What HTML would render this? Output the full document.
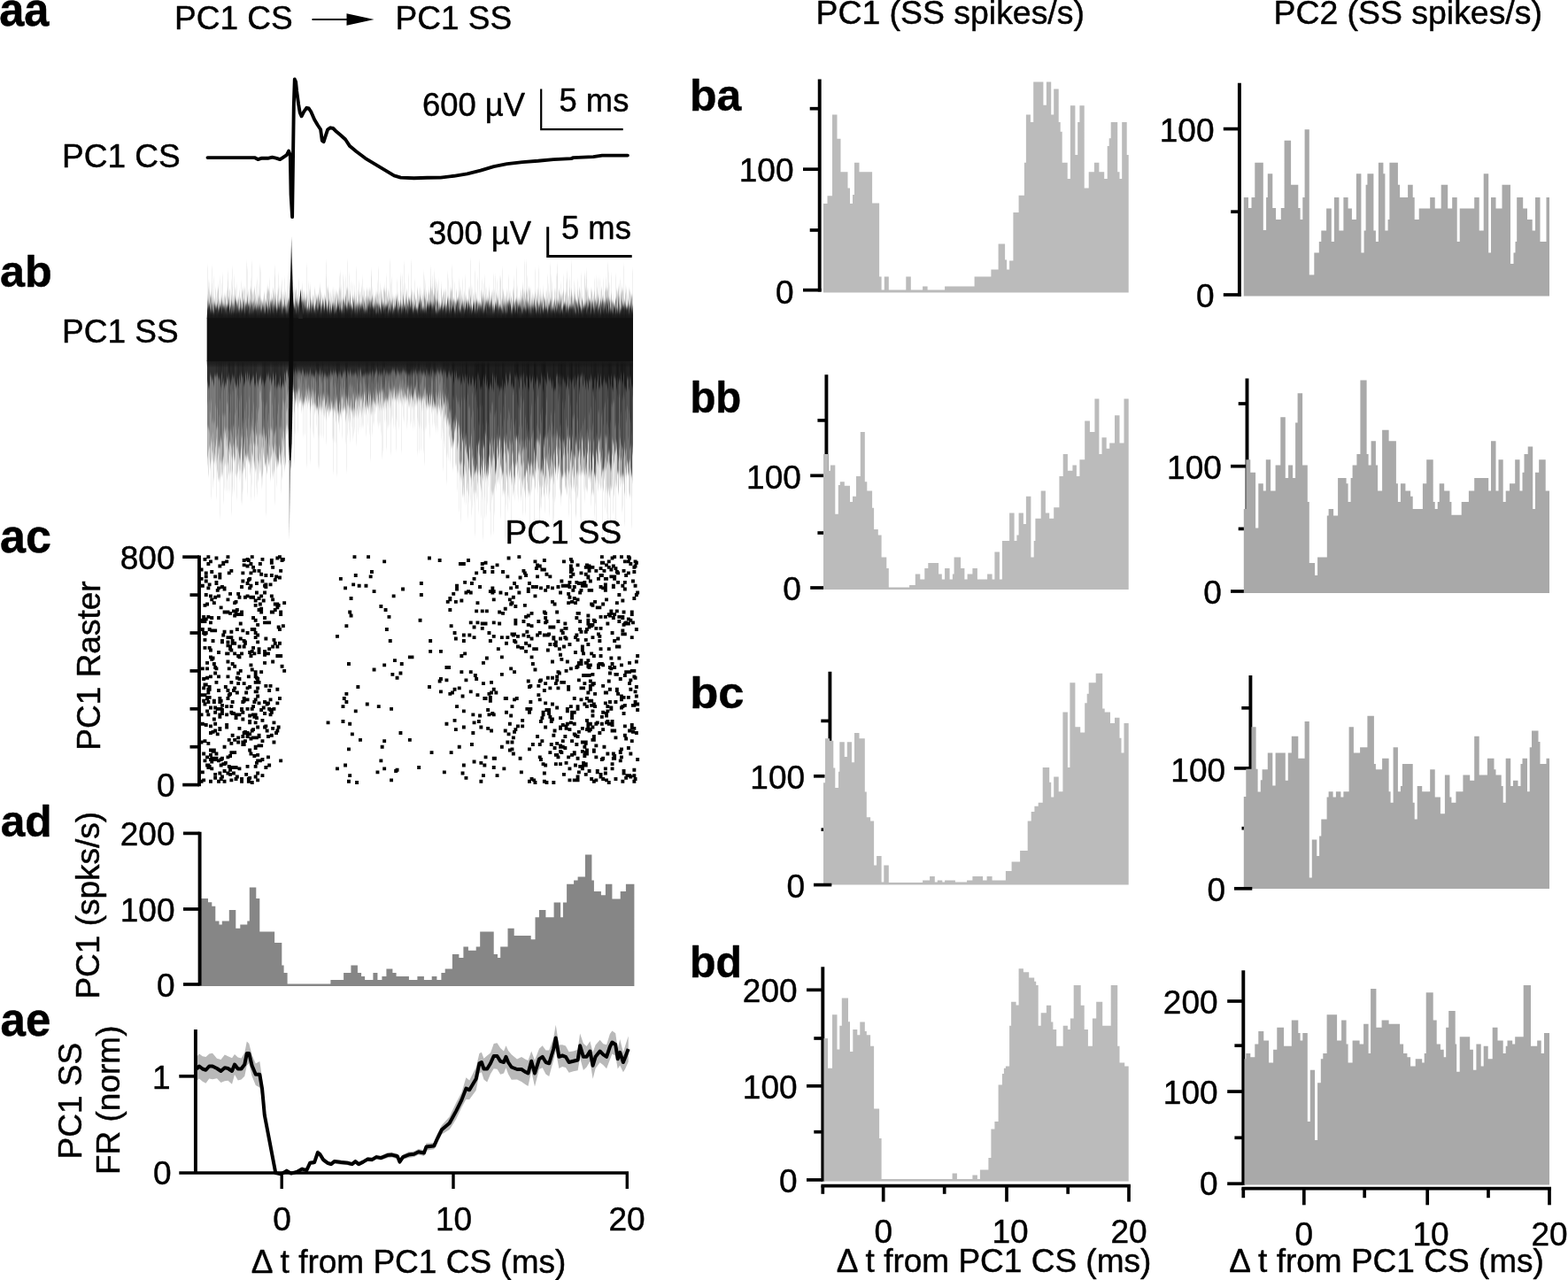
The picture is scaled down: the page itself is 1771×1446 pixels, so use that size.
<!DOCTYPE html>
<html lang="en"><head><meta charset="utf-8"><title>PC1 CS to PC1 SS</title>
<style>
html,body{margin:0;padding:0;background:#fff}
body{width:1771px;height:1446px;overflow:hidden}
svg{display:block}
text{font-family:"Liberation Sans",Arial,Helvetica,sans-serif;fill:#000;stroke:#000;stroke-width:0.45px;stroke-linejoin:round}
</style></head><body>
<svg width="1771" height="1446" viewBox="0 0 1771 1446" font-size="37.0">
<defs>
<filter id="bl" x="-5%" y="-20%" width="110%" height="140%"><feGaussianBlur stdDeviation="0.7 2.2"/></filter>
<linearGradient id="gs" gradientUnits="userSpaceOnUse" x1="0" y1="267" x2="0" y2="318"><stop offset="0" stop-color="#777"/><stop offset="1" stop-color="#0a0a0a"/></linearGradient>
<linearGradient id="gu" x1="0" y1="0" x2="0" y2="1"><stop offset="0" stop-color="#111" stop-opacity="0"/><stop offset="1" stop-color="#111" stop-opacity="1"/></linearGradient>
<linearGradient id="gd" x1="0" y1="0" x2="0" y2="1"><stop offset="0" stop-color="#111" stop-opacity="1"/><stop offset="1" stop-color="#111" stop-opacity="0"/></linearGradient>
</defs>
<rect width="1771" height="1446" fill="#fff"/>
<text transform="translate(-0.76,28.7) scale(1.012,1.08)" font-size="50" font-weight="bold" stroke="none">aa</text>
<text transform="translate(0.05,324.0) scale(1.006,1)" font-size="50" font-weight="bold" stroke="none">ab</text>
<text transform="translate(-0.02,624.3) scale(1.041,1.08)" font-size="50" font-weight="bold" stroke="none">ac</text>
<text transform="translate(0.67,945.0) scale(0.994,1)" font-size="50" font-weight="bold" stroke="none">ad</text>
<text transform="translate(0.61,1169.8) scale(1.022,1.08)" font-size="50" font-weight="bold" stroke="none">ae</text>
<text transform="translate(778.99,124.8) scale(0.999,1)" font-size="50" font-weight="bold" stroke="none">ba</text>
<text transform="translate(779.44,465.8) scale(0.947,1)" font-size="50" font-weight="bold" stroke="none">bb</text>
<text transform="translate(779.14,799.5) scale(1.051,1)" font-size="50" font-weight="bold" stroke="none">bc</text>
<text transform="translate(779.09,1103.8) scale(0.965,1)" font-size="50" font-weight="bold" stroke="none">bd</text>
<text x="197.0" y="32.5">PC1 CS</text>
<text x="446.5" y="32.5">PC1 SS</text>
<line x1="352.5" y1="22.0" x2="396.0" y2="22.0" stroke="#000" stroke-width="2.2"/>
<path d="M422.5,22 L391.5,15.2 L391.5,28.8 Z" fill="#000"/>
<text x="921.5" y="27.0" font-size="37.4">PC1 (SS spikes/s)</text>
<text x="1438.5" y="27.0" font-size="37.4">PC2 (SS spikes/s)</text>
<text x="70.0" y="188.7">PC1 CS</text>
<polyline fill="none" stroke="#000" stroke-width="3.9" stroke-linejoin="round" stroke-linecap="round" points="234.5,178.1 287.5,178.1 291.3,180.1 295.0,178.8 302.5,178.8 307.5,177.6 312.6,178.8 316.3,180.1 320.1,177.6 323.8,175.1 326.1,170.6 327.8,175.1 328.6,220.1 330.1,245.1 330.8,195.1 331.8,120.0 332.8,89.5 334.1,92.5 335.1,102.5 337.1,117.5 338.8,127.5 340.6,131.3 343.1,126.3 346.3,121.8 348.8,122.5 351.3,126.3 355.1,135.0 358.8,141.3 362.1,146.3 363.8,158.8 365.6,160.1 367.6,153.8 370.1,146.3 373.1,144.3 376.3,145.0 380.1,148.8 385.1,153.0 390.1,157.5 395.1,165.1 402.6,171.3 412.6,178.8 425.1,186.3 437.6,193.8 445.1,198.3 452.6,200.6 467.6,201.3 482.6,200.8 497.7,200.6 512.7,198.8 527.7,196.3 542.7,192.6 557.7,188.1 572.7,185.1 590.2,183.1 607.7,181.8 625.2,180.1 645.2,179.1 647.6,178.1 670.1,177.1 680.1,175.6 708.9,175.6"/>
<text x="477.0" y="130.5" font-size="36.4">600 µV</text>
<text x="631.5" y="125.5" font-size="36.4">5 ms</text>
<path d="M611.2,100.5V146.2H703.7" fill="none" stroke="#000" stroke-width="2.2"/>
<text x="484.0" y="275.5" font-size="36.4">300 µV</text>
<text x="634.0" y="270.0" font-size="36.4">5 ms</text>
<path d="M618.7,256.2V289.5H713.7" fill="none" stroke="#000" stroke-width="3"/>
<text x="70.0" y="386.9">PC1 SS</text>
<g fill="none" stroke="#000" stroke-width="1.05" filter="url(#bl)">
<path stroke-opacity="0.18" d="M235.5,407.0V509.7M237.5,407.0V523.5M238.5,407.0V492.8M239.5,407.0V500.1M240.5,407.0V489.1M241.5,407.0V499.0M242.5,407.0V521.4M243.5,407.0V503.2M245.5,407.0V518.3M251.5,407.0V521.8M253.5,407.0V482.9M255.5,407.0V496.5M256.5,407.0V484.6M265.5,407.0V517.7M266.5,407.0V496.7M285.5,407.0V515.1M290.5,407.0V503.3M291.5,407.0V521.7M292.5,407.0V522.1M293.5,407.0V491.0M294.5,407.0V489.4M295.5,407.0V506.2M305.5,407.0V518.9M306.5,407.0V516.6M315.5,407.0V503.8M319.5,407.0V497.6M320.5,407.0V488.3M322.5,407.0V523.0M323.5,407.0V481.7M324.5,407.0V480.6M325.5,407.0V485.6"/>
<path stroke-opacity="0.24" d="M234.5,407.0V516.4M236.5,407.0V487.0M244.5,407.0V496.6M246.5,407.0V512.9M247.5,407.0V499.0M248.5,407.0V505.3M249.5,407.0V494.3M250.5,407.0V522.3M252.5,407.0V515.8M254.5,407.0V489.7M257.5,407.0V504.0M260.5,407.0V502.5M261.5,407.0V505.9M262.5,407.0V494.0M264.5,407.0V501.1M267.5,407.0V507.3M268.5,407.0V491.2M270.5,407.0V517.1M271.5,407.0V511.1M272.5,407.0V494.3M273.5,407.0V484.1M275.5,407.0V507.5M276.5,407.0V494.8M277.5,407.0V514.2M278.5,407.0V519.3M279.5,407.0V514.9M280.5,407.0V510.8M281.5,407.0V522.8M282.5,407.0V493.6M283.5,407.0V488.5M284.5,407.0V512.0M286.5,407.0V488.4M287.5,407.0V521.2M288.5,407.0V503.0M289.5,407.0V489.3M296.5,407.0V493.6M297.5,407.0V505.6M300.5,407.0V493.9M301.5,407.0V519.8M302.5,407.0V501.1M303.5,407.0V484.8M304.5,407.0V504.3M307.5,407.0V486.6M308.5,407.0V511.5M309.5,407.0V491.9M310.5,407.0V489.7M311.5,407.0V486.8M312.5,407.0V504.2M313.5,407.0V519.5M314.5,407.0V520.1M316.5,407.0V511.9M317.5,407.0V483.5M318.5,407.0V494.3M321.5,407.0V495.7M326.5,407.0V437.7M328.5,407.0V440.3M329.5,407.0V432.6M330.5,407.0V438.0M335.5,407.0V445.5M336.5,407.0V440.2M337.5,407.0V439.6M338.5,407.0V439.8M339.5,407.0V448.3M340.5,407.0V444.3M341.5,407.0V448.7M342.5,407.0V453.2M343.5,407.0V455.6M344.5,407.0V449.2M345.5,407.0V449.5M346.5,407.0V452.5M347.5,407.0V447.7M348.5,407.0V453.1M349.5,407.0V449.9M350.5,407.0V459.4M351.5,407.0V451.9M352.5,407.0V448.7M353.5,407.0V455.8M354.5,407.0V449.1M355.5,407.0V456.3M356.5,407.0V442.8M360.5,407.0V453.2M361.5,407.0V456.4M362.5,407.0V446.3M363.5,407.0V459.4M365.5,407.0V452.3M366.5,407.0V447.8M367.5,407.0V460.8M368.5,407.0V456.6M369.5,407.0V464.0M370.5,407.0V446.2M372.5,407.0V457.1M373.5,407.0V463.6M374.5,407.0V454.4M375.5,407.0V461.4M376.5,407.0V458.5M377.5,407.0V456.4M378.5,407.0V452.2M379.5,407.0V456.6M384.5,407.0V465.9M385.5,407.0V461.5M386.5,407.0V448.8M387.5,407.0V450.9M388.5,407.0V460.8M389.5,407.0V454.6M393.5,407.0V457.9M394.5,407.0V449.5M395.5,407.0V462.2M396.5,407.0V453.7M397.5,407.0V462.1M398.5,407.0V462.7M399.5,407.0V446.3M400.5,407.0V462.2M401.5,407.0V453.3M402.5,407.0V448.6M403.5,407.0V461.3M404.5,407.0V445.7M406.5,407.0V443.3M407.5,407.0V448.9M408.5,407.0V450.2M409.5,407.0V445.6M410.5,407.0V454.0M411.5,407.0V445.6M412.5,407.0V460.2M416.5,407.0V443.5M417.5,407.0V453.0M418.5,407.0V445.8M423.5,407.0V455.0M424.5,407.0V456.4M425.5,407.0V450.1M427.5,407.0V455.5M428.5,407.0V443.8M429.5,407.0V454.5M430.5,407.0V450.0M431.5,407.0V440.5M435.5,407.0V450.1M436.5,407.0V451.8M437.5,407.0V451.1M438.5,407.0V448.1M439.5,407.0V445.1M440.5,407.0V449.9M441.5,407.0V443.3M442.5,407.0V441.2M443.5,407.0V440.7M444.5,407.0V444.9M445.5,407.0V437.3M446.5,407.0V449.8M447.5,407.0V445.1M448.5,407.0V444.0M449.5,407.0V445.7M450.5,407.0V442.2M451.5,407.0V443.1M452.5,407.0V440.8M453.5,407.0V441.3M454.5,407.0V448.0M455.5,407.0V439.4M456.5,407.0V441.1M457.5,407.0V444.4M458.5,407.0V446.1M467.5,407.0V444.1M470.5,407.0V450.8M471.5,407.0V452.7M474.5,407.0V446.3M475.5,407.0V449.4M476.5,407.0V450.9M477.5,407.0V449.7M478.5,407.0V448.1M479.5,407.0V439.6M480.5,407.0V438.9M487.5,407.0V445.0M488.5,407.0V457.5M492.5,407.0V444.2M493.5,407.0V449.6M494.5,407.0V458.6M495.5,407.0V443.8M496.5,407.0V450.1M497.5,407.0V442.8M498.5,407.0V459.4M499.5,407.0V462.1M508.5,407.0V465.4"/>
<path stroke-opacity="0.30" d="M258.5,407.0V486.4M259.5,407.0V498.2M263.5,407.0V482.1M269.5,407.0V511.3M274.5,407.0V523.1M298.5,407.0V484.5M299.5,407.0V524.0M327.5,407.0V440.4M331.5,407.0V441.5M332.5,407.0V449.3M333.5,407.0V442.4M334.5,407.0V440.9M357.5,407.0V460.1M358.5,407.0V460.1M359.5,407.0V446.6M364.5,407.0V452.7M371.5,407.0V459.9M380.5,407.0V447.0M381.5,407.0V463.0M382.5,407.0V466.4M383.5,407.0V456.5M390.5,407.0V462.9M391.5,407.0V448.4M392.5,407.0V458.3M405.5,407.0V458.4M413.5,407.0V442.4M414.5,407.0V451.2M415.5,407.0V460.1M419.5,407.0V452.6M420.5,407.0V450.3M421.5,407.0V451.7M422.5,407.0V446.8M426.5,407.0V443.7M432.5,407.0V449.5M433.5,407.0V440.5M434.5,407.0V445.0M459.5,407.0V450.9M460.5,407.0V437.0M461.5,407.0V436.9M462.5,407.0V446.0M463.5,407.0V440.1M464.5,407.0V445.4M465.5,407.0V448.8M466.5,407.0V447.7M468.5,407.0V437.9M469.5,407.0V437.2M472.5,407.0V447.5M473.5,407.0V444.9M481.5,407.0V445.1M482.5,407.0V445.3M483.5,407.0V453.3M484.5,407.0V457.8M485.5,407.0V445.4M486.5,407.0V456.3M489.5,407.0V448.9M490.5,407.0V455.0M491.5,407.0V460.5M500.5,407.0V450.3M501.5,407.0V456.6M502.5,407.0V445.6M503.5,407.0V468.5M504.5,407.0V452.0M505.5,407.0V473.2M506.5,407.0V454.4M507.5,407.0V479.3M509.5,407.0V472.2M510.5,407.0V484.3M514.5,407.0V483.8M515.5,407.0V476.0M516.5,407.0V486.5M517.5,407.0V478.4M518.5,407.0V483.5M519.5,407.0V492.3M520.5,407.0V508.8M521.5,407.0V489.4M523.5,407.0V535.2M524.5,407.0V495.8M525.5,407.0V493.7M528.5,407.0V519.0M529.5,407.0V529.4M530.5,407.0V503.7M531.5,407.0V538.7M532.5,407.0V491.9M533.5,407.0V518.3M534.5,407.0V526.1M535.5,407.0V527.1M548.5,407.0V525.7M549.5,407.0V536.4M553.5,407.0V501.6M554.5,407.0V521.4M555.5,407.0V495.8M556.5,407.0V503.8M557.5,407.0V514.1M558.5,407.0V518.4M564.5,407.0V496.9M565.5,407.0V511.3M566.5,407.0V506.6M570.5,407.0V512.3M571.5,407.0V522.0M572.5,407.0V491.9M573.5,407.0V507.5M574.5,407.0V508.1M575.5,407.0V537.4M576.5,407.0V532.5M577.5,407.0V526.1M578.5,407.0V500.7M579.5,407.0V511.0M580.5,407.0V527.1M586.5,407.0V510.9M587.5,407.0V514.6M588.5,407.0V524.9M589.5,407.0V510.4M591.5,407.0V522.6M593.5,407.0V496.9M598.5,407.0V530.8M599.5,407.0V522.3M600.5,407.0V494.2M601.5,407.0V527.0M602.5,407.0V536.3M606.5,407.0V521.0M607.5,407.0V497.2M608.5,407.0V498.8M609.5,407.0V502.8M610.5,407.0V533.0M617.5,407.0V520.9M618.5,407.0V494.9M619.5,407.0V531.5M620.5,407.0V505.6M621.5,407.0V527.6M622.5,407.0V537.2M623.5,407.0V493.1M624.5,407.0V524.4M626.5,407.0V509.5M627.5,407.0V528.2M628.5,407.0V505.2M629.5,407.0V513.9M639.5,407.0V538.2M640.5,407.0V495.1M641.5,407.0V493.4M642.5,407.0V534.0M647.5,407.0V526.4M648.5,407.0V513.7M652.5,407.0V532.4M655.5,407.0V525.0M656.5,407.0V533.0M657.5,407.0V498.0M658.5,407.0V510.0M659.5,407.0V517.3M660.5,407.0V536.5M661.5,407.0V507.0M663.5,407.0V512.6M664.5,407.0V499.2M665.5,407.0V530.8M666.5,407.0V510.8M667.5,407.0V520.7M669.5,407.0V511.1M674.5,407.0V520.2M676.5,407.0V497.4M677.5,407.0V509.0M678.5,407.0V494.9M679.5,407.0V516.7M683.5,407.0V492.7M685.5,407.0V493.6M691.5,407.0V496.3M692.5,407.0V498.7M693.5,407.0V522.3M694.5,407.0V513.2M695.5,407.0V510.1M699.5,407.0V506.7M707.5,407.0V535.1M708.5,407.0V521.3M709.5,407.0V524.6M710.5,407.0V522.3"/>
<path stroke-opacity="0.36" d="M512.5,407.0V475.4M513.5,407.0V487.1M522.5,407.0V498.6M527.5,407.0V511.4M536.5,407.0V519.2M537.5,407.0V532.3M539.5,407.0V510.4M541.5,407.0V514.2M542.5,407.0V536.6M543.5,407.0V526.3M547.5,407.0V533.6M550.5,407.0V531.5M552.5,407.0V516.4M559.5,407.0V534.8M560.5,407.0V530.5M561.5,407.0V495.5M562.5,407.0V517.9M563.5,407.0V513.3M567.5,407.0V535.9M568.5,407.0V534.2M569.5,407.0V494.0M581.5,407.0V539.7M582.5,407.0V496.8M585.5,407.0V491.9M590.5,407.0V507.5M592.5,407.0V538.2M594.5,407.0V505.7M595.5,407.0V494.0M597.5,407.0V525.3M605.5,407.0V497.1M611.5,407.0V530.3M612.5,407.0V519.6M616.5,407.0V493.5M625.5,407.0V492.2M630.5,407.0V506.1M631.5,407.0V524.7M632.5,407.0V495.1M633.5,407.0V532.9M635.5,407.0V537.3M636.5,407.0V513.7M637.5,407.0V505.0M638.5,407.0V533.9M643.5,407.0V495.5M644.5,407.0V521.3M646.5,407.0V493.2M649.5,407.0V517.6M650.5,407.0V502.1M651.5,407.0V535.2M653.5,407.0V516.1M654.5,407.0V509.3M662.5,407.0V523.4M668.5,407.0V531.9M670.5,407.0V497.9M671.5,407.0V536.6M672.5,407.0V526.1M673.5,407.0V510.4M675.5,407.0V524.4M680.5,407.0V508.0M681.5,407.0V530.5M682.5,407.0V528.8M684.5,407.0V493.2M686.5,407.0V523.0M687.5,407.0V513.8M689.5,407.0V530.5M690.5,407.0V523.8M696.5,407.0V506.8M698.5,407.0V533.7M700.5,407.0V539.1M701.5,407.0V518.5M703.5,407.0V505.8M704.5,407.0V516.3M705.5,407.0V499.2M706.5,407.0V513.5M711.5,407.0V520.1M713.5,407.0V536.0M714.5,407.0V512.8"/>
<path stroke-opacity="0.42" d="M511.5,407.0V498.6M526.5,407.0V502.8M538.5,407.0V502.9M540.5,407.0V502.0M544.5,407.0V530.5M545.5,407.0V497.8M546.5,407.0V503.2M551.5,407.0V536.1M583.5,407.0V494.2M584.5,407.0V497.9M596.5,407.0V518.8M603.5,407.0V506.3M604.5,407.0V522.3M613.5,407.0V536.7M614.5,407.0V494.6M615.5,407.0V494.0M634.5,407.0V538.8M645.5,407.0V509.0M688.5,407.0V523.7M697.5,407.0V513.5M702.5,407.0V505.5M712.5,407.0V530.2"/>
<path stroke-opacity="0.18" d="M235.5,407.0V483.8M237.5,407.0V504.9M238.5,407.0V498.4M239.5,407.0V510.1M240.5,407.0V510.7M241.5,407.0V522.3M242.5,407.0V513.8M243.5,407.0V505.4M245.5,407.0V481.5M251.5,407.0V518.6M253.5,407.0V495.2M255.5,407.0V505.3M256.5,407.0V493.9M265.5,407.0V505.7M266.5,407.0V493.8M285.5,407.0V486.0M290.5,407.0V490.7M291.5,407.0V502.5M292.5,407.0V491.3M293.5,407.0V513.3M294.5,407.0V520.2M295.5,407.0V491.6M305.5,407.0V485.1M306.5,407.0V483.4M315.5,407.0V506.0M319.5,407.0V485.7M320.5,407.0V504.5M322.5,407.0V485.8M323.5,407.0V463.9M324.5,407.0V462.0M325.5,407.0V485.7"/>
<path stroke-opacity="0.24" d="M234.5,407.0V482.7M236.5,407.0V505.2M244.5,407.0V484.4M246.5,407.0V505.4M247.5,407.0V504.8M248.5,407.0V521.3M249.5,407.0V496.7M250.5,407.0V499.1M252.5,407.0V488.6M254.5,407.0V485.5M257.5,407.0V523.8M260.5,407.0V485.9M261.5,407.0V489.6M262.5,407.0V517.4M264.5,407.0V520.2M267.5,407.0V504.8M268.5,407.0V504.5M270.5,407.0V517.7M271.5,407.0V519.2M272.5,407.0V505.4M273.5,407.0V493.3M275.5,407.0V501.2M276.5,407.0V516.1M277.5,407.0V514.2M278.5,407.0V484.0M279.5,407.0V493.7M280.5,407.0V517.8M281.5,407.0V502.4M282.5,407.0V521.5M283.5,407.0V501.1M284.5,407.0V482.4M286.5,407.0V501.1M287.5,407.0V500.7M288.5,407.0V482.6M289.5,407.0V493.0M296.5,407.0V491.8M297.5,407.0V483.1M300.5,407.0V490.7M301.5,407.0V512.3M302.5,407.0V513.2M303.5,407.0V522.5M304.5,407.0V494.4M307.5,407.0V504.5M308.5,407.0V506.8M309.5,407.0V509.1M310.5,407.0V502.4M311.5,407.0V513.9M312.5,407.0V517.6M313.5,407.0V519.7M314.5,407.0V524.2M316.5,407.0V514.9M317.5,407.0V524.1M318.5,407.0V509.4M321.5,407.0V515.9M326.5,407.0V440.7M328.5,407.0V435.3M329.5,407.0V430.7M330.5,407.0V432.0M335.5,407.0V443.1M336.5,407.0V451.1M337.5,407.0V442.3M338.5,407.0V452.8M339.5,407.0V450.9M340.5,407.0V453.4M341.5,407.0V456.8M342.5,407.0V457.2M343.5,407.0V452.8M344.5,407.0V448.6M345.5,407.0V441.3M346.5,407.0V440.5M347.5,407.0V444.7M348.5,407.0V439.5M349.5,407.0V442.7M350.5,407.0V444.6M351.5,407.0V448.1M352.5,407.0V442.1M353.5,407.0V441.2M354.5,407.0V443.2M355.5,407.0V456.1M356.5,407.0V457.5M360.5,407.0V460.0M361.5,407.0V449.3M362.5,407.0V461.6M363.5,407.0V451.4M365.5,407.0V445.2M366.5,407.0V450.7M367.5,407.0V459.3M368.5,407.0V456.3M369.5,407.0V454.1M370.5,407.0V462.7M372.5,407.0V463.5M373.5,407.0V452.4M374.5,407.0V455.6M375.5,407.0V453.6M376.5,407.0V462.2M377.5,407.0V460.5M378.5,407.0V463.4M379.5,407.0V451.1M384.5,407.0V466.9M385.5,407.0V449.7M386.5,407.0V447.3M387.5,407.0V463.2M388.5,407.0V445.9M389.5,407.0V459.8M393.5,407.0V447.9M394.5,407.0V459.9M395.5,407.0V458.8M396.5,407.0V449.8M397.5,407.0V464.3M398.5,407.0V445.6M399.5,407.0V462.2M400.5,407.0V461.7M401.5,407.0V452.1M402.5,407.0V450.0M403.5,407.0V452.3M404.5,407.0V451.9M406.5,407.0V449.9M407.5,407.0V452.9M408.5,407.0V449.4M409.5,407.0V460.0M410.5,407.0V453.3M411.5,407.0V443.2M412.5,407.0V447.9M416.5,407.0V446.9M417.5,407.0V457.6M418.5,407.0V446.6M423.5,407.0V454.6M424.5,407.0V445.3M425.5,407.0V441.2M427.5,407.0V452.2M428.5,407.0V444.3M429.5,407.0V442.8M430.5,407.0V443.1M431.5,407.0V441.8M435.5,407.0V451.7M436.5,407.0V447.9M437.5,407.0V452.8M438.5,407.0V452.2M439.5,407.0V438.7M440.5,407.0V441.0M441.5,407.0V441.3M442.5,407.0V447.3M443.5,407.0V450.4M444.5,407.0V439.3M445.5,407.0V442.2M446.5,407.0V449.7M447.5,407.0V438.8M448.5,407.0V451.4M449.5,407.0V440.8M450.5,407.0V446.8M451.5,407.0V436.7M452.5,407.0V450.4M453.5,407.0V438.4M454.5,407.0V441.9M455.5,407.0V449.6M456.5,407.0V448.6M457.5,407.0V446.4M458.5,407.0V448.4M467.5,407.0V445.9M470.5,407.0V448.6M471.5,407.0V449.2M474.5,407.0V452.8M475.5,407.0V449.2M476.5,407.0V454.3M477.5,407.0V448.1M478.5,407.0V443.6M479.5,407.0V449.9M480.5,407.0V448.1M487.5,407.0V447.0M488.5,407.0V458.9M492.5,407.0V456.7M493.5,407.0V460.8M494.5,407.0V448.9M495.5,407.0V457.2M496.5,407.0V461.2M497.5,407.0V451.3M498.5,407.0V457.9M499.5,407.0V446.5M508.5,407.0V479.3"/>
<path stroke-opacity="0.30" d="M258.5,407.0V508.4M259.5,407.0V501.0M263.5,407.0V503.5M269.5,407.0V482.8M274.5,407.0V519.6M298.5,407.0V491.6M299.5,407.0V496.9M327.5,407.0V439.5M331.5,407.0V436.0M332.5,407.0V442.2M333.5,407.0V452.6M334.5,407.0V450.7M357.5,407.0V452.2M358.5,407.0V460.2M359.5,407.0V447.9M364.5,407.0V446.1M371.5,407.0V455.0M380.5,407.0V452.0M381.5,407.0V457.2M382.5,407.0V464.4M383.5,407.0V454.2M390.5,407.0V447.9M391.5,407.0V451.6M392.5,407.0V453.5M405.5,407.0V447.9M413.5,407.0V459.3M414.5,407.0V454.0M415.5,407.0V460.3M419.5,407.0V459.3M420.5,407.0V456.3M421.5,407.0V442.7M422.5,407.0V453.2M426.5,407.0V446.6M432.5,407.0V441.9M433.5,407.0V454.2M434.5,407.0V453.9M459.5,407.0V438.4M460.5,407.0V439.5M461.5,407.0V451.8M462.5,407.0V442.2M463.5,407.0V448.7M464.5,407.0V436.6M465.5,407.0V447.9M466.5,407.0V452.1M468.5,407.0V439.9M469.5,407.0V444.9M472.5,407.0V442.6M473.5,407.0V450.3M481.5,407.0V456.8M482.5,407.0V448.2M483.5,407.0V456.7M484.5,407.0V449.0M485.5,407.0V446.3M486.5,407.0V451.4M489.5,407.0V452.5M490.5,407.0V455.4M491.5,407.0V457.9M500.5,407.0V442.0M501.5,407.0V455.0M502.5,407.0V455.5M503.5,407.0V448.5M504.5,407.0V458.2M505.5,407.0V452.1M506.5,407.0V472.9M507.5,407.0V465.1M509.5,407.0V486.5M510.5,407.0V494.5M514.5,407.0V481.1M515.5,407.0V473.8M516.5,407.0V506.2M517.5,407.0V500.5M518.5,407.0V480.3M519.5,407.0V523.5M520.5,407.0V523.9M521.5,407.0V522.1M523.5,407.0V538.4M524.5,407.0V525.4M525.5,407.0V507.6M528.5,407.0V517.3M529.5,407.0V522.1M530.5,407.0V506.6M531.5,407.0V534.6M532.5,407.0V539.5M533.5,407.0V507.1M534.5,407.0V515.7M535.5,407.0V536.5M548.5,407.0V491.6M549.5,407.0V532.9M553.5,407.0V500.8M554.5,407.0V517.0M555.5,407.0V527.0M556.5,407.0V519.2M557.5,407.0V510.6M558.5,407.0V496.1M564.5,407.0V492.7M565.5,407.0V525.6M566.5,407.0V530.1M570.5,407.0V502.3M571.5,407.0V499.7M572.5,407.0V537.1M573.5,407.0V507.4M574.5,407.0V512.0M575.5,407.0V497.6M576.5,407.0V500.9M577.5,407.0V539.8M578.5,407.0V511.9M579.5,407.0V522.4M580.5,407.0V538.0M586.5,407.0V500.5M587.5,407.0V503.9M588.5,407.0V497.3M589.5,407.0V525.4M591.5,407.0V505.2M593.5,407.0V537.3M598.5,407.0V536.2M599.5,407.0V525.5M600.5,407.0V524.0M601.5,407.0V535.9M602.5,407.0V523.1M606.5,407.0V496.6M607.5,407.0V498.8M608.5,407.0V529.6M609.5,407.0V490.8M610.5,407.0V490.8M617.5,407.0V516.3M618.5,407.0V524.9M619.5,407.0V512.8M620.5,407.0V538.5M621.5,407.0V519.2M622.5,407.0V515.2M623.5,407.0V520.9M624.5,407.0V536.7M626.5,407.0V526.7M627.5,407.0V534.6M628.5,407.0V495.5M629.5,407.0V491.5M639.5,407.0V503.3M640.5,407.0V531.3M641.5,407.0V511.6M642.5,407.0V532.5M647.5,407.0V514.3M648.5,407.0V539.1M652.5,407.0V507.9M655.5,407.0V507.3M656.5,407.0V515.4M657.5,407.0V494.0M658.5,407.0V534.4M659.5,407.0V515.8M660.5,407.0V515.0M661.5,407.0V529.1M663.5,407.0V511.4M664.5,407.0V496.2M665.5,407.0V539.0M666.5,407.0V498.1M667.5,407.0V537.4M669.5,407.0V515.1M674.5,407.0V513.4M676.5,407.0V497.7M677.5,407.0V511.3M678.5,407.0V521.5M679.5,407.0V538.0M683.5,407.0V517.6M685.5,407.0V521.0M691.5,407.0V513.4M692.5,407.0V502.6M693.5,407.0V501.3M694.5,407.0V509.4M695.5,407.0V497.4M699.5,407.0V516.4M707.5,407.0V507.2M708.5,407.0V522.2M709.5,407.0V535.3M710.5,407.0V534.8"/>
<path stroke-opacity="0.36" d="M512.5,407.0V497.7M513.5,407.0V477.1M522.5,407.0V497.0M527.5,407.0V512.0M536.5,407.0V534.0M537.5,407.0V531.6M539.5,407.0V535.2M541.5,407.0V497.3M542.5,407.0V536.2M543.5,407.0V516.6M547.5,407.0V517.5M550.5,407.0V521.7M552.5,407.0V515.0M559.5,407.0V532.1M560.5,407.0V525.6M561.5,407.0V507.1M562.5,407.0V502.8M563.5,407.0V495.5M567.5,407.0V518.1M568.5,407.0V512.2M569.5,407.0V498.8M581.5,407.0V493.4M582.5,407.0V524.5M585.5,407.0V512.3M590.5,407.0V498.0M592.5,407.0V507.1M594.5,407.0V531.7M595.5,407.0V532.5M597.5,407.0V496.9M605.5,407.0V515.6M611.5,407.0V532.6M612.5,407.0V530.8M616.5,407.0V538.8M625.5,407.0V512.7M630.5,407.0V527.4M631.5,407.0V493.9M632.5,407.0V508.2M633.5,407.0V498.9M635.5,407.0V497.1M636.5,407.0V498.4M637.5,407.0V497.1M638.5,407.0V514.0M643.5,407.0V492.8M644.5,407.0V516.3M646.5,407.0V529.7M649.5,407.0V514.9M650.5,407.0V493.5M651.5,407.0V499.7M653.5,407.0V511.3M654.5,407.0V496.9M662.5,407.0V534.9M668.5,407.0V531.0M670.5,407.0V516.1M671.5,407.0V535.1M672.5,407.0V538.0M673.5,407.0V507.5M675.5,407.0V503.5M680.5,407.0V531.4M681.5,407.0V530.9M682.5,407.0V523.1M684.5,407.0V528.4M686.5,407.0V512.3M687.5,407.0V508.6M689.5,407.0V525.7M690.5,407.0V530.6M696.5,407.0V500.6M698.5,407.0V520.7M700.5,407.0V495.7M701.5,407.0V501.8M703.5,407.0V535.8M704.5,407.0V537.7M705.5,407.0V508.3M706.5,407.0V527.4M711.5,407.0V506.9M713.5,407.0V537.7M714.5,407.0V505.1"/>
<path stroke-opacity="0.42" d="M511.5,407.0V477.6M526.5,407.0V490.8M538.5,407.0V526.5M540.5,407.0V500.0M544.5,407.0V506.2M545.5,407.0V520.3M546.5,407.0V504.9M551.5,407.0V524.3M583.5,407.0V493.8M584.5,407.0V521.7M596.5,407.0V523.6M603.5,407.0V509.9M604.5,407.0V530.5M613.5,407.0V525.4M614.5,407.0V503.8M615.5,407.0V518.3M634.5,407.0V518.3M645.5,407.0V510.3M688.5,407.0V509.3M697.5,407.0V534.2M702.5,407.0V538.0M712.5,407.0V503.2"/>
<path stroke-opacity="0.60" d="M234.5,407.0V431.9M235.5,407.0V437.4M236.5,407.0V436.2M237.5,407.0V423.6M238.5,407.0V425.5M239.5,407.0V430.1M240.5,407.0V428.0M241.5,407.0V434.7M242.5,407.0V424.3M243.5,407.0V424.9M244.5,407.0V423.9M245.5,407.0V423.0M246.5,407.0V427.6M247.5,407.0V427.4M248.5,407.0V428.2M249.5,407.0V436.3M250.5,407.0V422.0M251.5,407.0V433.2M252.5,407.0V428.8M253.5,407.0V437.5M254.5,407.0V432.7M255.5,407.0V434.3M256.5,407.0V426.7M257.5,407.0V428.6M258.5,407.0V423.3M259.5,407.0V429.3M260.5,407.0V434.0M261.5,407.0V429.2M262.5,407.0V423.8M263.5,407.0V426.5M264.5,407.0V425.7M265.5,407.0V432.5M266.5,407.0V437.3M267.5,407.0V434.9M268.5,407.0V428.6M269.5,407.0V436.3M270.5,407.0V424.7M271.5,407.0V431.4M272.5,407.0V422.3M273.5,407.0V425.6M274.5,407.0V426.2M275.5,407.0V435.1M276.5,407.0V432.5M277.5,407.0V422.6M278.5,407.0V429.0M279.5,407.0V421.5M280.5,407.0V429.2M281.5,407.0V424.0M282.5,407.0V434.4M283.5,407.0V430.0M284.5,407.0V429.6M285.5,407.0V425.9M286.5,407.0V425.4M287.5,407.0V434.2M288.5,407.0V434.9M289.5,407.0V421.9M290.5,407.0V430.7M291.5,407.0V435.4M292.5,407.0V429.6M293.5,407.0V427.5M294.5,407.0V425.8M295.5,407.0V433.8M296.5,407.0V429.3M297.5,407.0V430.9M298.5,407.0V435.7M299.5,407.0V432.0M300.5,407.0V428.4M301.5,407.0V423.3M302.5,407.0V425.3M303.5,407.0V422.5M304.5,407.0V429.1M305.5,407.0V427.1M306.5,407.0V434.0M307.5,407.0V430.0M308.5,407.0V422.4M309.5,407.0V428.1M310.5,407.0V436.2M311.5,407.0V423.2M312.5,407.0V437.8M313.5,407.0V435.7M314.5,407.0V433.0M315.5,407.0V436.1M316.5,407.0V426.4M317.5,407.0V437.7M318.5,407.0V435.9M319.5,407.0V433.1M320.5,407.0V435.9M321.5,407.0V422.1M322.5,407.0V430.2M323.5,407.0V419.9M324.5,407.0V419.5M325.5,407.0V425.6M326.5,407.0V420.7M327.5,407.0V418.4M328.5,407.0V418.6M329.5,407.0V418.2M330.5,407.0V420.9M331.5,407.0V418.6M332.5,407.0V421.2M333.5,407.0V417.8M334.5,407.0V419.6M335.5,407.0V422.3M336.5,407.0V418.0M337.5,407.0V419.9M338.5,407.0V419.0M339.5,407.0V421.1M340.5,407.0V422.7M341.5,407.0V418.0M342.5,407.0V419.0M343.5,407.0V422.8M344.5,407.0V424.3M345.5,407.0V420.3M346.5,407.0V423.4M347.5,407.0V420.8M348.5,407.0V424.2M349.5,407.0V421.8M350.5,407.0V417.8M351.5,407.0V423.0M352.5,407.0V422.9M353.5,407.0V423.4M354.5,407.0V424.7M355.5,407.0V425.0M356.5,407.0V420.0M357.5,407.0V419.1M358.5,407.0V421.7M359.5,407.0V421.3M360.5,407.0V423.4M361.5,407.0V418.1M362.5,407.0V424.5M363.5,407.0V420.8M364.5,407.0V420.8M365.5,407.0V425.5M366.5,407.0V422.3M367.5,407.0V422.8M368.5,407.0V424.9M369.5,407.0V425.4M370.5,407.0V425.8M371.5,407.0V422.1M372.5,407.0V424.4M373.5,407.0V419.4M374.5,407.0V422.0M375.5,407.0V423.1M376.5,407.0V418.7M377.5,407.0V422.3M378.5,407.0V419.5M379.5,407.0V420.8M380.5,407.0V422.6M381.5,407.0V426.0M382.5,407.0V421.1M383.5,407.0V421.6M384.5,407.0V421.4M385.5,407.0V425.0M386.5,407.0V426.1M387.5,407.0V420.4M388.5,407.0V421.4M389.5,407.0V418.7M390.5,407.0V420.5M391.5,407.0V426.0M392.5,407.0V418.6M393.5,407.0V420.9M394.5,407.0V422.7M395.5,407.0V418.7M396.5,407.0V421.3M397.5,407.0V424.4M398.5,407.0V422.1M399.5,407.0V423.6M400.5,407.0V422.0M401.5,407.0V421.0M402.5,407.0V421.9M403.5,407.0V425.7M404.5,407.0V418.2M405.5,407.0V424.0M406.5,407.0V418.1M407.5,407.0V418.5M408.5,407.0V423.8M409.5,407.0V425.1M410.5,407.0V423.4M411.5,407.0V424.2M412.5,407.0V422.2M413.5,407.0V422.1M414.5,407.0V422.2M415.5,407.0V421.9M416.5,407.0V423.2M417.5,407.0V421.7M418.5,407.0V421.3M419.5,407.0V423.2M420.5,407.0V419.3M421.5,407.0V420.0M422.5,407.0V424.7M423.5,407.0V421.2M424.5,407.0V420.5M425.5,407.0V417.6M426.5,407.0V420.6M427.5,407.0V423.7M428.5,407.0V420.6M429.5,407.0V423.4M430.5,407.0V421.8M431.5,407.0V422.8M432.5,407.0V421.3M433.5,407.0V417.6M434.5,407.0V418.2M435.5,407.0V422.9M436.5,407.0V420.3M437.5,407.0V420.9M438.5,407.0V423.1M439.5,407.0V422.0M440.5,407.0V422.8M441.5,407.0V421.1M442.5,407.0V419.3M443.5,407.0V417.6M444.5,407.0V418.6M445.5,407.0V418.3M446.5,407.0V421.5M447.5,407.0V423.6M448.5,407.0V417.5M449.5,407.0V420.6M450.5,407.0V420.2M451.5,407.0V422.9M452.5,407.0V420.8M453.5,407.0V421.4M454.5,407.0V419.4M455.5,407.0V417.9M456.5,407.0V419.4M457.5,407.0V419.8M458.5,407.0V421.7M459.5,407.0V420.0M460.5,407.0V422.9M461.5,407.0V422.6M462.5,407.0V422.9M463.5,407.0V421.8M464.5,407.0V418.7M465.5,407.0V423.2M466.5,407.0V417.9M467.5,407.0V421.5M468.5,407.0V418.6M469.5,407.0V418.2M470.5,407.0V421.4M471.5,407.0V422.5M472.5,407.0V419.2M473.5,407.0V420.8M474.5,407.0V418.3M475.5,407.0V422.0M476.5,407.0V421.0M477.5,407.0V422.7M478.5,407.0V419.9M479.5,407.0V421.4M480.5,407.0V424.1M481.5,407.0V418.3M482.5,407.0V418.9M483.5,407.0V423.2M484.5,407.0V420.9M485.5,407.0V424.2M486.5,407.0V418.2M487.5,407.0V423.9M488.5,407.0V419.0M489.5,407.0V419.3M490.5,407.0V422.3M491.5,407.0V420.8M492.5,407.0V422.6M493.5,407.0V419.0M494.5,407.0V418.7M495.5,407.0V420.5M496.5,407.0V421.8M497.5,407.0V418.6M498.5,407.0V419.5M499.5,407.0V423.1M500.5,407.0V419.8M501.5,407.0V418.2M502.5,407.0V420.4M503.5,407.0V420.2M504.5,407.0V425.9M505.5,407.0V425.7M506.5,407.0V421.0M507.5,407.0V420.2M508.5,407.0V423.7M509.5,407.0V425.4M510.5,407.0V421.3M511.5,407.0V420.2M512.5,407.0V431.7M513.5,407.0V420.6M514.5,407.0V426.7M515.5,407.0V420.7M516.5,407.0V427.8M517.5,407.0V427.5M518.5,407.0V428.4M519.5,407.0V425.6M520.5,407.0V433.2M521.5,407.0V431.9M522.5,407.0V423.7M523.5,407.0V427.5M524.5,407.0V431.2M525.5,407.0V424.0M526.5,407.0V427.0M527.5,407.0V425.1M528.5,407.0V432.4M529.5,407.0V435.0M530.5,407.0V426.7M531.5,407.0V434.2M532.5,407.0V433.9M533.5,407.0V426.6M534.5,407.0V428.2M535.5,407.0V436.4M536.5,407.0V431.8M537.5,407.0V427.3M538.5,407.0V439.7M539.5,407.0V422.7M540.5,407.0V422.5M541.5,407.0V428.4M542.5,407.0V438.6M543.5,407.0V437.1M544.5,407.0V436.9M545.5,407.0V429.0M546.5,407.0V425.0M547.5,407.0V432.5M548.5,407.0V424.4M549.5,407.0V435.8M550.5,407.0V430.3M551.5,407.0V438.1M552.5,407.0V439.7M553.5,407.0V434.7M554.5,407.0V433.6M555.5,407.0V438.6M556.5,407.0V423.0M557.5,407.0V440.4M558.5,407.0V426.0M559.5,407.0V431.4M560.5,407.0V425.8M561.5,407.0V435.4M562.5,407.0V436.2M563.5,407.0V437.1M564.5,407.0V441.0M565.5,407.0V437.4M566.5,407.0V438.2M567.5,407.0V429.2M568.5,407.0V440.0M569.5,407.0V433.0M570.5,407.0V436.3M571.5,407.0V423.0M572.5,407.0V428.9M573.5,407.0V434.7M574.5,407.0V430.8M575.5,407.0V422.5M576.5,407.0V422.7M577.5,407.0V436.0M578.5,407.0V432.9M579.5,407.0V438.1M580.5,407.0V438.2M581.5,407.0V424.3M582.5,407.0V426.1M583.5,407.0V422.8M584.5,407.0V426.0M585.5,407.0V429.3M586.5,407.0V438.5M587.5,407.0V425.0M588.5,407.0V429.1M589.5,407.0V424.2M590.5,407.0V439.0M591.5,407.0V422.6M592.5,407.0V432.5M593.5,407.0V437.1M594.5,407.0V425.3M595.5,407.0V426.4M596.5,407.0V438.2M597.5,407.0V439.6M598.5,407.0V425.5M599.5,407.0V431.4M600.5,407.0V430.3M601.5,407.0V426.2M602.5,407.0V439.4M603.5,407.0V426.8M604.5,407.0V433.2M605.5,407.0V431.1M606.5,407.0V426.6M607.5,407.0V429.4M608.5,407.0V437.9M609.5,407.0V432.7M610.5,407.0V434.0M611.5,407.0V422.6M612.5,407.0V425.9M613.5,407.0V440.9M614.5,407.0V425.1M615.5,407.0V428.4M616.5,407.0V429.8M617.5,407.0V433.7M618.5,407.0V422.1M619.5,407.0V428.1M620.5,407.0V430.1M621.5,407.0V427.7M622.5,407.0V431.7M623.5,407.0V437.7M624.5,407.0V430.5M625.5,407.0V440.7M626.5,407.0V438.9M627.5,407.0V439.5M628.5,407.0V424.8M629.5,407.0V423.6M630.5,407.0V433.4M631.5,407.0V425.1M632.5,407.0V435.7M633.5,407.0V425.5M634.5,407.0V435.5M635.5,407.0V427.8M636.5,407.0V427.5M637.5,407.0V431.1M638.5,407.0V431.9M639.5,407.0V437.9M640.5,407.0V434.9M641.5,407.0V426.5M642.5,407.0V438.3M643.5,407.0V428.3M644.5,407.0V429.9M645.5,407.0V433.3M646.5,407.0V430.1M647.5,407.0V428.1M648.5,407.0V438.0M649.5,407.0V425.7M650.5,407.0V434.6M651.5,407.0V428.7M652.5,407.0V425.2M653.5,407.0V423.9M654.5,407.0V438.7M655.5,407.0V425.3M656.5,407.0V424.5M657.5,407.0V422.8M658.5,407.0V435.2M659.5,407.0V424.2M660.5,407.0V430.5M661.5,407.0V437.8M662.5,407.0V429.3M663.5,407.0V432.2M664.5,407.0V439.4M665.5,407.0V428.9M666.5,407.0V430.1M667.5,407.0V424.3M668.5,407.0V428.7M669.5,407.0V440.7M670.5,407.0V439.4M671.5,407.0V428.2M672.5,407.0V427.1M673.5,407.0V438.9M674.5,407.0V431.1M675.5,407.0V423.7M676.5,407.0V438.5M677.5,407.0V437.8M678.5,407.0V425.3M679.5,407.0V434.3M680.5,407.0V436.2M681.5,407.0V430.4M682.5,407.0V426.2M683.5,407.0V431.2M684.5,407.0V433.6M685.5,407.0V432.8M686.5,407.0V439.1M687.5,407.0V425.5M688.5,407.0V428.6M689.5,407.0V435.9M690.5,407.0V424.9M691.5,407.0V438.2M692.5,407.0V440.0M693.5,407.0V425.7M694.5,407.0V426.1M695.5,407.0V428.8M696.5,407.0V438.9M697.5,407.0V427.0M698.5,407.0V432.5M699.5,407.0V428.3M700.5,407.0V430.1M701.5,407.0V422.3M702.5,407.0V430.3M703.5,407.0V432.6M704.5,407.0V422.2M705.5,407.0V437.3M706.5,407.0V438.2M707.5,407.0V441.0M708.5,407.0V427.2M709.5,407.0V427.2M710.5,407.0V439.3M711.5,407.0V426.1M712.5,407.0V427.6M713.5,407.0V435.6M714.5,407.0V436.7"/>
<path stroke-opacity="0.18" d="M234.5,407.0V455.5M235.5,407.0V483.4M236.5,407.0V452.9M237.5,407.0V465.8M238.5,407.0V452.8M239.5,407.0V477.3M240.5,407.0V473.4M241.5,407.0V478.5M242.5,407.0V476.3M243.5,407.0V458.2M244.5,407.0V483.9M245.5,407.0V461.7M246.5,407.0V482.7M247.5,407.0V469.7M248.5,407.0V451.5M249.5,407.0V491.0M250.5,407.0V441.6M251.5,407.0V468.5M252.5,407.0V467.5M253.5,407.0V469.4M254.5,407.0V468.0M255.5,407.0V484.5M256.5,407.0V455.4M257.5,407.0V456.5M258.5,407.0V443.8M259.5,407.0V466.1M260.5,407.0V445.4M261.5,407.0V481.8M262.5,407.0V441.1M263.5,407.0V441.3M264.5,407.0V479.9M265.5,407.0V468.1M266.5,407.0V484.1M267.5,407.0V462.4M268.5,407.0V448.1M269.5,407.0V472.8M270.5,407.0V452.5M271.5,407.0V489.2M272.5,407.0V447.0M273.5,407.0V477.0M274.5,407.0V473.4M275.5,407.0V478.4M276.5,407.0V462.7M277.5,407.0V474.6M278.5,407.0V454.2M279.5,407.0V485.0M280.5,407.0V471.9M281.5,407.0V449.7M282.5,407.0V482.4M283.5,407.0V477.2M284.5,407.0V465.4M285.5,407.0V473.7M286.5,407.0V456.0M287.5,407.0V491.0M288.5,407.0V476.8M289.5,407.0V461.1M290.5,407.0V475.7M291.5,407.0V465.4M292.5,407.0V461.4M293.5,407.0V442.3M294.5,407.0V442.2M295.5,407.0V452.5M296.5,407.0V485.0M297.5,407.0V454.2M298.5,407.0V473.7M299.5,407.0V459.8M300.5,407.0V456.5M301.5,407.0V454.4M302.5,407.0V476.3M303.5,407.0V467.5M304.5,407.0V442.3M305.5,407.0V441.4M306.5,407.0V485.4M307.5,407.0V457.2M308.5,407.0V472.8M309.5,407.0V487.2M310.5,407.0V448.9M311.5,407.0V482.7M312.5,407.0V481.8M313.5,407.0V466.9M314.5,407.0V456.3M315.5,407.0V483.8M316.5,407.0V482.8M317.5,407.0V473.7M318.5,407.0V462.5M319.5,407.0V452.2M320.5,407.0V454.5M321.5,407.0V457.2M322.5,407.0V453.1M323.5,407.0V435.0M324.5,407.0V445.8M325.5,407.0V441.4M326.5,407.0V420.2M327.5,407.0V420.8M328.5,407.0V430.8M329.5,407.0V421.6M330.5,407.0V421.2M331.5,407.0V425.8M332.5,407.0V443.0M333.5,407.0V425.5M334.5,407.0V443.3M335.5,407.0V443.4M336.5,407.0V426.9M337.5,407.0V426.6M338.5,407.0V427.4M339.5,407.0V431.2M340.5,407.0V423.1M341.5,407.0V440.1M342.5,407.0V433.3M343.5,407.0V439.9M344.5,407.0V426.4M345.5,407.0V429.4M346.5,407.0V427.0M347.5,407.0V439.5M348.5,407.0V434.8M349.5,407.0V438.3M350.5,407.0V441.0M351.5,407.0V429.0M352.5,407.0V438.4M353.5,407.0V425.5M354.5,407.0V425.2M355.5,407.0V444.7M356.5,407.0V429.5M357.5,407.0V431.9M358.5,407.0V427.7M359.5,407.0V436.9M360.5,407.0V424.9M361.5,407.0V424.2M362.5,407.0V430.6M363.5,407.0V432.5M364.5,407.0V430.0M365.5,407.0V444.9M366.5,407.0V427.3M367.5,407.0V429.3M368.5,407.0V444.0M369.5,407.0V446.7M370.5,407.0V449.0M371.5,407.0V446.8M372.5,407.0V448.5M373.5,407.0V431.1M374.5,407.0V428.0M375.5,407.0V424.3M376.5,407.0V436.3M377.5,407.0V447.2M378.5,407.0V432.1M379.5,407.0V437.8M380.5,407.0V424.2M381.5,407.0V433.0M382.5,407.0V424.0M383.5,407.0V442.5M384.5,407.0V435.9M385.5,407.0V440.2M386.5,407.0V424.2M387.5,407.0V438.7M388.5,407.0V439.6M389.5,407.0V429.9M390.5,407.0V443.4M391.5,407.0V438.3M392.5,407.0V448.8M393.5,407.0V441.4M394.5,407.0V436.2M395.5,407.0V432.9M396.5,407.0V435.5M397.5,407.0V436.9M398.5,407.0V435.4M399.5,407.0V442.7M400.5,407.0V438.6M401.5,407.0V443.2M402.5,407.0V444.8M403.5,407.0V432.6M404.5,407.0V444.6M405.5,407.0V446.3M406.5,407.0V431.5M407.5,407.0V430.8M408.5,407.0V435.1M409.5,407.0V446.0M410.5,407.0V426.8M411.5,407.0V431.4M412.5,407.0V436.4M413.5,407.0V432.6M414.5,407.0V438.1M415.5,407.0V439.3M416.5,407.0V434.4M417.5,407.0V440.9M418.5,407.0V441.0M419.5,407.0V431.8M420.5,407.0V429.3M421.5,407.0V432.9M422.5,407.0V427.4M423.5,407.0V438.1M424.5,407.0V439.7M425.5,407.0V432.8M426.5,407.0V431.2M427.5,407.0V432.5M428.5,407.0V440.3M429.5,407.0V435.6M430.5,407.0V428.5M431.5,407.0V433.1M432.5,407.0V439.3M433.5,407.0V434.8M434.5,407.0V435.4M435.5,407.0V428.4M436.5,407.0V429.0M437.5,407.0V438.6M438.5,407.0V431.9M439.5,407.0V431.1M440.5,407.0V438.6M441.5,407.0V439.9M442.5,407.0V426.5M443.5,407.0V431.4M444.5,407.0V436.4M445.5,407.0V437.0M446.5,407.0V428.7M447.5,407.0V427.5M448.5,407.0V423.1M449.5,407.0V437.5M450.5,407.0V421.1M451.5,407.0V432.2M452.5,407.0V429.0M453.5,407.0V431.4M454.5,407.0V428.5M455.5,407.0V429.2M456.5,407.0V434.8M457.5,407.0V433.6M458.5,407.0V424.6M459.5,407.0V432.0M460.5,407.0V431.3M461.5,407.0V424.3M462.5,407.0V436.2M463.5,407.0V434.5M464.5,407.0V425.1M465.5,407.0V434.9M466.5,407.0V422.7M467.5,407.0V422.3M468.5,407.0V440.3M469.5,407.0V435.4M470.5,407.0V429.6M471.5,407.0V430.7M472.5,407.0V439.0M473.5,407.0V422.9M474.5,407.0V433.9M475.5,407.0V434.0M476.5,407.0V429.8M477.5,407.0V425.2M478.5,407.0V421.3M479.5,407.0V439.2M480.5,407.0V424.3M481.5,407.0V425.7M482.5,407.0V442.6M483.5,407.0V424.9M484.5,407.0V436.2M485.5,407.0V421.9M486.5,407.0V437.9M487.5,407.0V429.2M488.5,407.0V428.4M489.5,407.0V443.2M490.5,407.0V430.1M491.5,407.0V426.6M492.5,407.0V424.7M493.5,407.0V427.9M494.5,407.0V444.8M495.5,407.0V422.5M496.5,407.0V434.3M497.5,407.0V431.6M498.5,407.0V424.5M499.5,407.0V426.8M500.5,407.0V424.8M501.5,407.0V433.2M502.5,407.0V426.3M503.5,407.0V448.2M504.5,407.0V438.5M505.5,407.0V447.7M506.5,407.0V444.3M507.5,407.0V460.3M508.5,407.0V463.9M509.5,407.0V463.1M510.5,407.0V463.4"/>
<path stroke-opacity="0.24" d="M511.5,407.0V448.5M512.5,407.0V450.3M513.5,407.0V470.9M514.5,407.0V469.0M515.5,407.0V448.8M516.5,407.0V452.8M517.5,407.0V455.5M518.5,407.0V452.7M519.5,407.0V459.8M520.5,407.0V483.1M521.5,407.0V450.8M522.5,407.0V495.8M523.5,407.0V488.3M524.5,407.0V450.1M525.5,407.0V502.2M526.5,407.0V452.4M527.5,407.0V496.4M528.5,407.0V445.6M529.5,407.0V460.3M530.5,407.0V460.3M531.5,407.0V500.4M532.5,407.0V471.0M533.5,407.0V443.9M534.5,407.0V464.1M535.5,407.0V485.1M536.5,407.0V448.1M537.5,407.0V444.2M538.5,407.0V452.8M539.5,407.0V460.8M540.5,407.0V477.4M541.5,407.0V479.8M542.5,407.0V457.9M543.5,407.0V497.3M544.5,407.0V458.8M545.5,407.0V479.2M546.5,407.0V490.0M547.5,407.0V486.6M548.5,407.0V488.2M549.5,407.0V477.0M550.5,407.0V493.8M551.5,407.0V479.6M552.5,407.0V496.7M553.5,407.0V465.1M554.5,407.0V466.5M555.5,407.0V456.1M556.5,407.0V455.3M557.5,407.0V499.1M558.5,407.0V469.5M559.5,407.0V466.7M560.5,407.0V463.3M561.5,407.0V490.5M562.5,407.0V482.0M563.5,407.0V447.2M564.5,407.0V495.7M565.5,407.0V467.1M566.5,407.0V497.5M567.5,407.0V481.9M568.5,407.0V458.9M569.5,407.0V473.8M570.5,407.0V444.8M571.5,407.0V491.1M572.5,407.0V501.6M573.5,407.0V473.8M574.5,407.0V463.1M575.5,407.0V467.0M576.5,407.0V485.8M577.5,407.0V474.6M578.5,407.0V497.8M579.5,407.0V444.6M580.5,407.0V479.2M581.5,407.0V482.5M582.5,407.0V474.8M583.5,407.0V444.1M584.5,407.0V455.1M585.5,407.0V459.7M586.5,407.0V482.0M587.5,407.0V462.1M588.5,407.0V448.4M589.5,407.0V482.0M590.5,407.0V454.6M591.5,407.0V452.0M592.5,407.0V498.5M593.5,407.0V471.3M594.5,407.0V485.4M595.5,407.0V478.8M596.5,407.0V486.8M597.5,407.0V487.6M598.5,407.0V498.3M599.5,407.0V468.8M600.5,407.0V457.7M601.5,407.0V488.7M602.5,407.0V486.5M603.5,407.0V496.5M604.5,407.0V453.3M605.5,407.0V499.8M606.5,407.0V481.0M607.5,407.0V447.8M608.5,407.0V484.8M609.5,407.0V498.1M610.5,407.0V467.8M611.5,407.0V475.9M612.5,407.0V461.5M613.5,407.0V496.8M614.5,407.0V497.9M615.5,407.0V485.6M616.5,407.0V469.1M617.5,407.0V451.5M618.5,407.0V490.0M619.5,407.0V487.5M620.5,407.0V481.8M621.5,407.0V487.1M622.5,407.0V467.3M623.5,407.0V478.6M624.5,407.0V499.1M625.5,407.0V482.5M626.5,407.0V465.3M627.5,407.0V490.9M628.5,407.0V486.2M629.5,407.0V486.9M630.5,407.0V452.6M631.5,407.0V444.8M632.5,407.0V481.0M633.5,407.0V480.3M634.5,407.0V490.4M635.5,407.0V453.6M636.5,407.0V499.1M637.5,407.0V461.5M638.5,407.0V453.0M639.5,407.0V474.2M640.5,407.0V483.7M641.5,407.0V482.5M642.5,407.0V446.3M643.5,407.0V496.0M644.5,407.0V457.6M645.5,407.0V484.6M646.5,407.0V470.8M647.5,407.0V472.5M648.5,407.0V468.6M649.5,407.0V500.1M650.5,407.0V496.5M651.5,407.0V454.9M652.5,407.0V473.5M653.5,407.0V489.8M654.5,407.0V444.4M655.5,407.0V488.0M656.5,407.0V484.4M657.5,407.0V494.6M658.5,407.0V478.9M659.5,407.0V498.1M660.5,407.0V472.8M661.5,407.0V494.3M662.5,407.0V488.5M663.5,407.0V485.9M664.5,407.0V491.1M665.5,407.0V466.9M666.5,407.0V484.9M667.5,407.0V460.9M668.5,407.0V486.2M669.5,407.0V479.4M670.5,407.0V446.9M671.5,407.0V495.2M672.5,407.0V451.9M673.5,407.0V491.7M674.5,407.0V492.6M675.5,407.0V465.3M676.5,407.0V464.8M677.5,407.0V496.5M678.5,407.0V490.0M679.5,407.0V469.6M680.5,407.0V463.8M681.5,407.0V480.6M682.5,407.0V460.6M683.5,407.0V454.9M684.5,407.0V500.9M685.5,407.0V478.5M686.5,407.0V449.7M687.5,407.0V483.6M688.5,407.0V491.3M689.5,407.0V476.0M690.5,407.0V455.7M691.5,407.0V457.9M692.5,407.0V453.7M693.5,407.0V453.4M694.5,407.0V482.4M695.5,407.0V479.4M696.5,407.0V499.0M697.5,407.0V446.3M698.5,407.0V478.7M699.5,407.0V446.9M700.5,407.0V485.0M701.5,407.0V466.0M702.5,407.0V450.4M703.5,407.0V449.6M704.5,407.0V444.6M705.5,407.0V449.3M706.5,407.0V463.5M707.5,407.0V475.5M708.5,407.0V460.0M709.5,407.0V495.4M710.5,407.0V465.2M711.5,407.0V473.8M712.5,407.0V476.7M713.5,407.0V489.7M714.5,407.0V447.7"/>
<path stroke-opacity="0.12" d="M234.5,407.0V525.2M235.5,407.0V536.7M236.5,407.0V518.6M237.5,407.0V529.3M238.5,407.0V521.6M239.5,407.0V518.1M240.5,407.0V520.2M241.5,407.0V541.3M242.5,407.0V513.5M243.5,407.0V516.6M244.5,407.0V522.9M245.5,407.0V532.0M247.5,407.0V542.5M249.5,407.0V522.0M251.5,407.0V534.8M252.5,407.0V517.8M253.5,407.0V526.1M254.5,407.0V524.2M255.5,407.0V524.9M256.5,407.0V541.0M257.5,407.0V519.2M265.5,407.0V518.6M266.5,407.0V536.6M267.5,407.0V538.3M270.5,407.0V531.2M271.5,407.0V530.4M272.5,407.0V513.2M277.5,407.0V541.1M279.5,407.0V514.1M280.5,407.0V521.0M281.5,407.0V519.9M282.5,407.0V535.2M284.5,407.0V521.3M285.5,407.0V513.8M286.5,407.0V522.4M289.5,407.0V530.0M290.5,407.0V518.6M291.5,407.0V542.8M292.5,407.0V527.4M293.5,407.0V533.8M294.5,407.0V530.3M295.5,407.0V539.0M304.5,407.0V521.4M305.5,407.0V541.2M306.5,407.0V513.9M307.5,407.0V534.8M308.5,407.0V539.0M310.5,407.0V513.3M314.5,407.0V522.3M315.5,407.0V513.3M316.5,407.0V522.9M317.5,407.0V513.4M318.5,407.0V539.8M319.5,407.0V518.3M320.5,407.0V524.7M321.5,407.0V530.8M322.5,407.0V525.1M323.5,407.0V490.1M324.5,407.0V491.6M325.5,407.0V496.0M326.5,407.0V446.8M327.5,407.0V439.2M328.5,407.0V442.6M329.5,407.0V442.5M330.5,407.0V439.7M334.5,407.0V453.9M335.5,407.0V456.4M336.5,407.0V460.2M337.5,407.0V455.6M338.5,407.0V454.4M339.5,407.0V453.6M340.5,407.0V464.6M341.5,407.0V455.6M342.5,407.0V461.4M343.5,407.0V454.4M344.5,407.0V457.3M345.5,407.0V455.0M346.5,407.0V454.0M347.5,407.0V459.3M348.5,407.0V454.7M349.5,407.0V454.0M350.5,407.0V464.7M351.5,407.0V459.5M352.5,407.0V458.3M353.5,407.0V457.7M354.5,407.0V456.2M355.5,407.0V466.4M356.5,407.0V462.3M360.5,407.0V461.8M361.5,407.0V463.6M362.5,407.0V457.8M363.5,407.0V465.9M365.5,407.0V467.4M366.5,407.0V470.0M367.5,407.0V465.7M368.5,407.0V473.0M369.5,407.0V465.3M370.5,407.0V460.4M372.5,407.0V464.0M373.5,407.0V463.1M374.5,407.0V461.4M375.5,407.0V463.0M376.5,407.0V470.8M377.5,407.0V463.2M378.5,407.0V465.8M379.5,407.0V475.2M383.5,407.0V472.2M384.5,407.0V465.3M385.5,407.0V471.2M386.5,407.0V464.3M387.5,407.0V461.6M388.5,407.0V464.9M389.5,407.0V462.3M392.5,407.0V466.0M393.5,407.0V475.1M394.5,407.0V469.0M395.5,407.0V475.6M396.5,407.0V463.3M397.5,407.0V465.4M398.5,407.0V470.0M399.5,407.0V470.8M400.5,407.0V470.2M401.5,407.0V466.3M402.5,407.0V470.1M403.5,407.0V465.0M404.5,407.0V471.1M405.5,407.0V467.3M406.5,407.0V462.9M407.5,407.0V465.0M408.5,407.0V469.7M409.5,407.0V465.2M410.5,407.0V461.7M411.5,407.0V467.2M412.5,407.0V457.2M414.5,407.0V459.0M416.5,407.0V464.7M417.5,407.0V459.5M418.5,407.0V466.5M420.5,407.0V465.1M421.5,407.0V464.8M423.5,407.0V465.8M424.5,407.0V459.2M425.5,407.0V459.3M427.5,407.0V458.6M428.5,407.0V462.4M429.5,407.0V459.6M430.5,407.0V461.0M431.5,407.0V461.4M435.5,407.0V460.3M436.5,407.0V460.6M437.5,407.0V452.7M438.5,407.0V457.9M439.5,407.0V451.4M440.5,407.0V459.9M441.5,407.0V458.4M442.5,407.0V451.7M443.5,407.0V449.4M444.5,407.0V450.3M445.5,407.0V452.3M446.5,407.0V448.7M447.5,407.0V451.3M448.5,407.0V448.9M449.5,407.0V450.9M450.5,407.0V454.8M451.5,407.0V450.8M452.5,407.0V454.3M453.5,407.0V454.2M454.5,407.0V457.4M455.5,407.0V449.7M456.5,407.0V452.9M457.5,407.0V455.0M458.5,407.0V453.4M467.5,407.0V460.1M469.5,407.0V457.6M470.5,407.0V455.9M471.5,407.0V456.7M474.5,407.0V451.6M475.5,407.0V456.4M476.5,407.0V462.5M477.5,407.0V451.0M478.5,407.0V461.3M479.5,407.0V451.8M480.5,407.0V455.7M487.5,407.0V466.1M488.5,407.0V460.6M492.5,407.0V461.3M493.5,407.0V466.9M494.5,407.0V467.3M495.5,407.0V461.3M496.5,407.0V463.6M497.5,407.0V469.3M498.5,407.0V468.1M499.5,407.0V464.1M503.5,407.0V475.8M508.5,407.0V498.6M513.5,407.0V495.8M514.5,407.0V525.1M515.5,407.0V525.3M516.5,407.0V532.5M517.5,407.0V533.1M518.5,407.0V522.6M519.5,407.0V535.9M520.5,407.0V538.3M521.5,407.0V542.6M522.5,407.0V560.1M523.5,407.0V549.6M524.5,407.0V559.0M525.5,407.0V529.8M528.5,407.0V545.8M529.5,407.0V558.4M530.5,407.0V529.8M531.5,407.0V531.1M532.5,407.0V548.8M533.5,407.0V533.3M534.5,407.0V543.3M535.5,407.0V555.7M548.5,407.0V542.8M549.5,407.0V537.4M553.5,407.0V534.8M554.5,407.0V527.0M555.5,407.0V556.0M556.5,407.0V559.2M557.5,407.0V556.1M558.5,407.0V551.2M560.5,407.0V534.7M561.5,407.0V544.5M562.5,407.0V542.3M563.5,407.0V538.8M564.5,407.0V528.7M565.5,407.0V526.6M566.5,407.0V540.5M569.5,407.0V558.4M570.5,407.0V555.1M571.5,407.0V535.2M572.5,407.0V543.0M573.5,407.0V559.2M574.5,407.0V532.9M575.5,407.0V528.8M576.5,407.0V531.3M577.5,407.0V546.5M578.5,407.0V546.3M579.5,407.0V558.7M580.5,407.0V555.0M582.5,407.0V529.6M586.5,407.0V541.9M587.5,407.0V539.2M588.5,407.0V559.8M589.5,407.0V544.3M591.5,407.0V541.4M593.5,407.0V560.8M598.5,407.0V557.5M599.5,407.0V536.7M600.5,407.0V553.5M601.5,407.0V539.8M602.5,407.0V539.2M606.5,407.0V526.6M607.5,407.0V530.1M608.5,407.0V542.9M609.5,407.0V549.6M610.5,407.0V549.8M611.5,407.0V560.7M616.5,407.0V550.4M617.5,407.0V558.3M618.5,407.0V547.6M619.5,407.0V529.5M620.5,407.0V557.2M621.5,407.0V544.0M622.5,407.0V540.3M623.5,407.0V541.1M624.5,407.0V533.0M626.5,407.0V530.2M627.5,407.0V533.8M628.5,407.0V529.8M629.5,407.0V540.9M639.5,407.0V549.9M640.5,407.0V557.7M641.5,407.0V541.0M642.5,407.0V549.4M643.5,407.0V531.8M644.5,407.0V547.1M647.5,407.0V551.6M648.5,407.0V548.2M649.5,407.0V555.6M650.5,407.0V531.8M651.5,407.0V549.3M652.5,407.0V561.2M654.5,407.0V534.7M655.5,407.0V535.8M656.5,407.0V536.8M657.5,407.0V531.9M658.5,407.0V529.3M659.5,407.0V529.5M660.5,407.0V533.5M661.5,407.0V550.6M662.5,407.0V553.3M663.5,407.0V554.5M664.5,407.0V539.7M665.5,407.0V533.0M666.5,407.0V534.6M667.5,407.0V542.8M669.5,407.0V553.4M674.5,407.0V542.5M675.5,407.0V553.3M676.5,407.0V546.1M677.5,407.0V527.6M678.5,407.0V551.8M679.5,407.0V528.3M682.5,407.0V541.0M683.5,407.0V533.6M684.5,407.0V555.0M685.5,407.0V550.4M691.5,407.0V550.4M692.5,407.0V527.7M693.5,407.0V559.9M694.5,407.0V550.1M695.5,407.0V543.1M699.5,407.0V533.1M700.5,407.0V548.8M706.5,407.0V536.7M707.5,407.0V538.5M708.5,407.0V528.6M709.5,407.0V536.2M710.5,407.0V557.6M714.5,407.0V544.3"/>
<path stroke-opacity="0.18" d="M246.5,407.0V540.9M248.5,407.0V539.7M250.5,407.0V537.2M258.5,407.0V535.0M259.5,407.0V513.2M260.5,407.0V533.7M261.5,407.0V515.4M262.5,407.0V532.8M263.5,407.0V512.7M264.5,407.0V514.4M268.5,407.0V533.7M269.5,407.0V524.4M273.5,407.0V534.3M274.5,407.0V532.6M275.5,407.0V528.4M276.5,407.0V528.5M278.5,407.0V515.4M283.5,407.0V528.2M287.5,407.0V527.4M288.5,407.0V531.6M296.5,407.0V536.8M297.5,407.0V513.3M298.5,407.0V517.2M299.5,407.0V526.0M300.5,407.0V524.8M301.5,407.0V533.5M302.5,407.0V516.9M303.5,407.0V526.0M309.5,407.0V533.1M311.5,407.0V521.1M312.5,407.0V527.6M313.5,407.0V526.0M331.5,407.0V441.7M332.5,407.0V465.2M333.5,407.0V456.8M357.5,407.0V462.1M358.5,407.0V461.7M359.5,407.0V467.9M364.5,407.0V461.1M371.5,407.0V469.0M380.5,407.0V465.3M381.5,407.0V468.0M382.5,407.0V476.9M390.5,407.0V474.4M391.5,407.0V468.3M413.5,407.0V466.9M415.5,407.0V456.3M419.5,407.0V467.4M422.5,407.0V456.1M426.5,407.0V456.2M432.5,407.0V458.1M433.5,407.0V461.0M434.5,407.0V451.3M459.5,407.0V447.5M460.5,407.0V450.3M461.5,407.0V457.8M462.5,407.0V458.3M463.5,407.0V454.6M464.5,407.0V448.3M465.5,407.0V459.5M466.5,407.0V451.9M468.5,407.0V455.6M472.5,407.0V451.5M473.5,407.0V451.5M481.5,407.0V460.1M482.5,407.0V461.5M483.5,407.0V454.8M484.5,407.0V459.7M485.5,407.0V458.1M486.5,407.0V459.1M489.5,407.0V462.4M490.5,407.0V459.7M491.5,407.0V456.0M500.5,407.0V458.0M501.5,407.0V473.7M502.5,407.0V470.1M504.5,407.0V480.1M505.5,407.0V474.6M506.5,407.0V480.1M507.5,407.0V492.9M509.5,407.0V504.9M510.5,407.0V505.1M511.5,407.0V503.9M512.5,407.0V502.7M526.5,407.0V534.1M527.5,407.0V554.1M536.5,407.0V533.0M537.5,407.0V556.1M538.5,407.0V532.7M539.5,407.0V545.4M540.5,407.0V532.5M541.5,407.0V531.2M542.5,407.0V547.3M543.5,407.0V552.7M544.5,407.0V538.4M545.5,407.0V541.0M546.5,407.0V526.6M547.5,407.0V538.0M550.5,407.0V540.4M551.5,407.0V528.3M552.5,407.0V527.7M559.5,407.0V547.1M567.5,407.0V534.2M568.5,407.0V554.5M581.5,407.0V545.9M583.5,407.0V526.4M584.5,407.0V536.0M585.5,407.0V531.5M590.5,407.0V549.7M592.5,407.0V554.2M594.5,407.0V530.4M595.5,407.0V544.9M596.5,407.0V553.9M597.5,407.0V557.5M603.5,407.0V540.8M604.5,407.0V551.0M605.5,407.0V533.3M612.5,407.0V549.8M613.5,407.0V533.8M614.5,407.0V559.1M615.5,407.0V543.8M625.5,407.0V545.0M630.5,407.0V534.7M631.5,407.0V530.2M632.5,407.0V553.5M633.5,407.0V559.6M634.5,407.0V557.9M635.5,407.0V538.7M636.5,407.0V537.7M637.5,407.0V533.8M638.5,407.0V550.9M645.5,407.0V551.4M646.5,407.0V536.4M653.5,407.0V536.3M668.5,407.0V557.8M670.5,407.0V557.8M671.5,407.0V535.4M672.5,407.0V544.6M673.5,407.0V535.9M680.5,407.0V532.3M681.5,407.0V553.6M686.5,407.0V556.5M687.5,407.0V552.2M688.5,407.0V560.6M689.5,407.0V549.1M690.5,407.0V552.6M696.5,407.0V548.8M697.5,407.0V532.0M698.5,407.0V557.3M701.5,407.0V536.7M702.5,407.0V545.1M703.5,407.0V536.2M704.5,407.0V545.3M705.5,407.0V557.3M711.5,407.0V559.9M712.5,407.0V537.5M713.5,407.0V533.6"/>
<path stroke-opacity="0.06" d="M238.5,408.0V562.2M240.5,408.0V550.0M243.5,408.0V528.1M244.5,408.0V562.2M245.5,408.0V533.9M249.5,408.0V533.6M250.5,408.0V529.5M251.5,408.0V537.5M252.5,408.0V528.2M253.5,408.0V552.2M255.5,408.0V554.3M257.5,408.0V554.5M259.5,408.0V554.5M262.5,408.0V552.1M264.5,408.0V554.7M265.5,408.0V536.7M267.5,408.0V563.0M268.5,408.0V524.3M270.5,408.0V542.6M271.5,408.0V539.1M273.5,408.0V557.1M274.5,408.0V554.0M279.5,408.0V557.7M283.5,408.0V563.4M284.5,408.0V547.9M285.5,408.0V530.3M287.5,408.0V562.0M289.5,408.0V550.2M290.5,408.0V558.5M291.5,408.0V534.9M295.5,408.0V551.0M296.5,408.0V547.1M297.5,408.0V532.3M301.5,408.0V534.2M304.5,408.0V527.5M310.5,408.0V529.7M312.5,408.0V548.7M315.5,408.0V522.8M317.5,408.0V554.9M327.5,408.0V462.3M328.5,408.0V461.2M329.5,408.0V465.3M332.5,408.0V487.2M333.5,408.0V490.1M336.5,408.0V487.8M342.5,408.0V492.0M344.5,408.0V490.7M350.5,408.0V482.7M353.5,408.0V489.3M354.5,408.0V493.2M357.5,408.0V481.1M359.5,408.0V493.0M361.5,408.0V491.5M363.5,408.0V492.4M365.5,408.0V493.7M368.5,408.0V500.2M375.5,408.0V496.0M376.5,408.0V495.0M377.5,408.0V498.7M379.5,408.0V500.7M383.5,408.0V486.5M386.5,408.0V493.9M390.5,408.0V500.2M392.5,408.0V491.4M394.5,408.0V487.0M395.5,408.0V498.2M397.5,408.0V483.2M398.5,408.0V495.0M399.5,408.0V491.1M400.5,408.0V485.6M402.5,408.0V501.4M404.5,408.0V488.5M406.5,408.0V483.7M408.5,408.0V483.1M409.5,408.0V480.6M410.5,408.0V482.0M413.5,408.0V491.6M415.5,408.0V479.9M417.5,408.0V489.8M420.5,408.0V489.7M421.5,408.0V478.6M422.5,408.0V478.6M426.5,408.0V477.8M427.5,408.0V482.3M428.5,408.0V478.5M429.5,408.0V478.4M430.5,408.0V489.4M434.5,408.0V475.7M436.5,408.0V475.2M437.5,408.0V483.4M438.5,408.0V481.3M439.5,408.0V480.7M441.5,408.0V478.0M442.5,408.0V471.1M443.5,408.0V472.1M444.5,408.0V481.4M446.5,408.0V482.5M447.5,408.0V473.1M448.5,408.0V476.8M450.5,408.0V483.0M455.5,408.0V472.0M456.5,408.0V475.7M459.5,408.0V482.7M460.5,408.0V476.3M463.5,408.0V478.9M464.5,408.0V477.5M466.5,408.0V483.1M467.5,408.0V475.6M468.5,408.0V482.4M471.5,408.0V472.9M472.5,408.0V478.4M473.5,408.0V483.2M474.5,408.0V480.8M476.5,408.0V483.2M478.5,408.0V486.2M480.5,408.0V483.7M481.5,408.0V483.2M484.5,408.0V478.7M485.5,408.0V493.4M488.5,408.0V480.6M490.5,408.0V478.2M491.5,408.0V481.9M492.5,408.0V487.2M493.5,408.0V481.3M494.5,408.0V487.0M498.5,408.0V495.8M499.5,408.0V484.0M500.5,408.0V488.9M501.5,408.0V498.5M502.5,408.0V506.4M504.5,408.0V514.9M505.5,408.0V512.7M506.5,408.0V518.6M508.5,408.0V521.5M511.5,408.0V527.2M519.5,408.0V543.0M520.5,408.0V539.7M522.5,408.0V558.7M523.5,408.0V559.3M524.5,408.0V567.0M525.5,408.0V539.7M526.5,408.0V569.3M529.5,408.0V566.9M531.5,408.0V564.7M532.5,408.0V582.0M533.5,408.0V573.0M534.5,408.0V557.8M535.5,408.0V566.7M536.5,408.0V555.1M538.5,408.0V564.4M539.5,408.0V561.1M544.5,408.0V562.9M545.5,408.0V542.5M547.5,408.0V562.2M549.5,408.0V581.9M550.5,408.0V568.6M551.5,408.0V549.4M553.5,408.0V577.7M554.5,408.0V553.7M555.5,408.0V565.4M556.5,408.0V556.9M558.5,408.0V579.9M560.5,408.0V553.6M563.5,408.0V545.8M564.5,408.0V547.3M567.5,408.0V558.9M568.5,408.0V546.1M571.5,408.0V571.2M573.5,408.0V576.0M574.5,408.0V561.3M575.5,408.0V565.9M578.5,408.0V537.9M581.5,408.0V563.5M584.5,408.0V558.5M585.5,408.0V564.5M586.5,408.0V540.5M588.5,408.0V565.2M589.5,408.0V542.1M590.5,408.0V544.9M591.5,408.0V542.0M593.5,408.0V552.1M596.5,408.0V560.9M599.5,408.0V558.1M600.5,408.0V546.9M606.5,408.0V552.2M607.5,408.0V557.0M609.5,408.0V576.5M610.5,408.0V571.5M611.5,408.0V573.8M614.5,408.0V547.2M615.5,408.0V578.0M619.5,408.0V562.9M621.5,408.0V555.3M624.5,408.0V563.0M626.5,408.0V566.8M627.5,408.0V561.9M633.5,408.0V569.0M634.5,408.0V547.7M637.5,408.0V542.2M638.5,408.0V538.0M639.5,408.0V556.6M642.5,408.0V582.0M643.5,408.0V562.3M644.5,408.0V568.2M650.5,408.0V581.8M651.5,408.0V562.7M653.5,408.0V553.2M659.5,408.0V554.2M660.5,408.0V565.4M666.5,408.0V545.3M667.5,408.0V570.3M671.5,408.0V583.0M672.5,408.0V569.0M677.5,408.0V549.5M679.5,408.0V550.7M680.5,408.0V549.3M682.5,408.0V540.1M683.5,408.0V574.5M685.5,408.0V580.4M689.5,408.0V554.1M691.5,408.0V541.4M692.5,408.0V579.2M698.5,408.0V553.5M702.5,408.0V578.0M703.5,408.0V573.5M707.5,408.0V561.5M713.5,408.0V561.1"/>
<path stroke-opacity="0.06" d="M248.5,408.0V583.5M252.5,408.0V567.0M261.5,408.0V579.9M262.5,408.0V558.5M272.5,408.0V567.2M273.5,408.0V568.1M300.5,408.0V581.1M310.5,408.0V567.9M328.5,408.0V493.3M332.5,408.0V522.3M346.5,408.0V525.9M350.5,408.0V521.6M359.5,408.0V527.0M360.5,408.0V527.7M376.5,408.0V533.4M380.5,408.0V536.6M391.5,408.0V532.1M418.5,408.0V519.0M431.5,408.0V516.4M432.5,408.0V510.2M436.5,408.0V506.7M441.5,408.0V512.3M447.5,408.0V508.3M453.5,408.0V510.1M471.5,408.0V511.9M473.5,408.0V509.6M475.5,408.0V507.8M478.5,408.0V510.3M479.5,408.0V523.4M500.5,408.0V530.2M504.5,408.0V544.8M511.5,408.0V530.6M516.5,408.0V553.5M518.5,408.0V577.1M520.5,408.0V587.7M528.5,408.0V583.9M536.5,408.0V603.7M540.5,408.0V578.1M543.5,408.0V583.7M545.5,408.0V608.3M547.5,408.0V585.0M554.5,408.0V604.5M557.5,408.0V601.5M565.5,408.0V584.3M570.5,408.0V607.9M577.5,408.0V597.4M590.5,408.0V580.7M593.5,408.0V580.1M598.5,408.0V609.2M603.5,408.0V607.9M609.5,408.0V589.0M620.5,408.0V581.4M624.5,408.0V593.7M625.5,408.0V586.2M645.5,408.0V609.0M650.5,408.0V583.7M655.5,408.0V585.2M656.5,408.0V595.7M673.5,408.0V592.5M680.5,408.0V609.4M686.5,408.0V613.1M689.5,408.0V606.6M695.5,408.0V600.4M705.5,408.0V592.6M713.5,408.0V595.2"/>
<path stroke-opacity="0.60" d="M234.5,361.5V348.9M235.5,361.5V345.3M236.5,361.5V345.0M237.5,361.5V348.5M238.5,361.5V351.9M239.5,361.5V348.0M240.5,361.5V351.6M241.5,361.5V353.0M242.5,361.5V344.8M243.5,361.5V349.1M244.5,361.5V348.5M245.5,361.5V345.8M246.5,361.5V351.6M247.5,361.5V349.7M248.5,361.5V344.7M249.5,361.5V345.3M250.5,361.5V352.6M251.5,361.5V346.4M252.5,361.5V345.9M253.5,361.5V348.0M254.5,361.5V350.2M255.5,361.5V351.0M256.5,361.5V345.4M257.5,361.5V345.8M258.5,361.5V345.3M259.5,361.5V351.6M260.5,361.5V346.2M261.5,361.5V353.3M262.5,361.5V350.7M263.5,361.5V351.9M264.5,361.5V350.9M265.5,361.5V350.7M266.5,361.5V346.9M267.5,361.5V351.7M268.5,361.5V346.6M269.5,361.5V350.7M270.5,361.5V350.0M271.5,361.5V347.6M272.5,361.5V350.5M273.5,361.5V349.7M274.5,361.5V348.2M275.5,361.5V350.0M276.5,361.5V352.6M277.5,361.5V345.1M278.5,361.5V350.3M279.5,361.5V349.6M280.5,361.5V344.6M281.5,361.5V353.2M282.5,361.5V346.8M283.5,361.5V352.4M284.5,361.5V344.6M285.5,361.5V351.3M286.5,361.5V349.9M287.5,361.5V349.0M288.5,361.5V349.6M289.5,361.5V349.3M290.5,361.5V348.4M291.5,361.5V349.7M292.5,361.5V348.2M293.5,361.5V344.7M294.5,361.5V349.8M295.5,361.5V350.6M296.5,361.5V347.0M297.5,361.5V346.7M298.5,361.5V352.1M299.5,361.5V352.9M300.5,361.5V347.8M301.5,361.5V346.3M302.5,361.5V352.9M303.5,361.5V349.3M304.5,361.5V348.5M305.5,361.5V352.0M306.5,361.5V346.7M307.5,361.5V350.1M308.5,361.5V352.2M309.5,361.5V345.8M310.5,361.5V347.8M311.5,361.5V346.6M312.5,361.5V351.6M313.5,361.5V348.4M314.5,361.5V348.1M315.5,361.5V347.1M316.5,361.5V349.0M317.5,361.5V345.9M318.5,361.5V352.9M319.5,361.5V346.2M320.5,361.5V347.7M321.5,361.5V348.3M322.5,361.5V352.3M323.5,361.5V352.1M324.5,361.5V351.9M325.5,361.5V351.2M326.5,361.5V346.3M327.5,361.5V347.2M328.5,361.5V353.3M329.5,361.5V352.2M330.5,361.5V351.0M331.5,361.5V346.1M332.5,361.5V348.3M333.5,361.5V349.3M334.5,361.5V353.0M335.5,361.5V350.2M336.5,361.5V346.2M337.5,361.5V352.0M338.5,361.5V351.2M339.5,361.5V347.1M340.5,361.5V345.5M341.5,361.5V349.0M342.5,361.5V352.8M343.5,361.5V346.9M344.5,361.5V350.3M345.5,361.5V347.2M346.5,361.5V351.6M347.5,361.5V348.1M348.5,361.5V351.0M349.5,361.5V351.6M350.5,361.5V348.7M351.5,361.5V351.4M352.5,361.5V346.8M353.5,361.5V345.7M354.5,361.5V350.6M355.5,361.5V350.0M356.5,361.5V344.6M357.5,361.5V347.2M358.5,361.5V350.0M359.5,361.5V348.2M360.5,361.5V345.7M361.5,361.5V346.3M362.5,361.5V351.8M363.5,361.5V350.3M364.5,361.5V345.0M365.5,361.5V350.1M366.5,361.5V350.5M367.5,361.5V346.8M368.5,361.5V349.5M369.5,361.5V349.9M370.5,361.5V351.7M371.5,361.5V348.2M372.5,361.5V353.4M373.5,361.5V348.6M374.5,361.5V351.9M375.5,361.5V345.2M376.5,361.5V348.1M377.5,361.5V352.2M378.5,361.5V352.1M379.5,361.5V351.4M380.5,361.5V347.8M381.5,361.5V346.6M382.5,361.5V344.7M383.5,361.5V350.8M384.5,361.5V348.2M385.5,361.5V350.7M386.5,361.5V351.5M387.5,361.5V347.6M388.5,361.5V351.6M389.5,361.5V347.1M390.5,361.5V345.3M391.5,361.5V347.1M392.5,361.5V350.2M393.5,361.5V349.1M394.5,361.5V344.7M395.5,361.5V347.1M396.5,361.5V344.9M397.5,361.5V348.0M398.5,361.5V349.9M399.5,361.5V347.2M400.5,361.5V350.9M401.5,361.5V350.7M402.5,361.5V347.7M403.5,361.5V351.7M404.5,361.5V347.6M405.5,361.5V350.7M406.5,361.5V349.1M407.5,361.5V346.9M408.5,361.5V348.6M409.5,361.5V344.9M410.5,361.5V348.5M411.5,361.5V350.4M412.5,361.5V350.7M413.5,361.5V349.9M414.5,361.5V351.2M415.5,361.5V345.0M416.5,361.5V348.2M417.5,361.5V345.8M418.5,361.5V347.3M419.5,361.5V348.4M420.5,361.5V347.1M421.5,361.5V347.1M422.5,361.5V348.4M423.5,361.5V345.9M424.5,361.5V353.5M425.5,361.5V353.2M426.5,361.5V351.4M427.5,361.5V352.9M428.5,361.5V347.3M429.5,361.5V348.4M430.5,361.5V353.5M431.5,361.5V346.4M432.5,361.5V350.3M433.5,361.5V351.3M434.5,361.5V347.8M435.5,361.5V345.3M436.5,361.5V346.0M437.5,361.5V345.1M438.5,361.5V352.2M439.5,361.5V350.3M440.5,361.5V347.5M441.5,361.5V351.8M442.5,361.5V345.5M443.5,361.5V353.2M444.5,361.5V350.0M445.5,361.5V348.0M446.5,361.5V346.5M447.5,361.5V349.9M448.5,361.5V344.6M449.5,361.5V351.4M450.5,361.5V348.7M451.5,361.5V347.2M452.5,361.5V345.2M453.5,361.5V352.4M454.5,361.5V350.1M455.5,361.5V350.0M456.5,361.5V347.3M457.5,361.5V344.7M458.5,361.5V349.8M459.5,361.5V348.2M460.5,361.5V352.8M461.5,361.5V346.6M462.5,361.5V349.3M463.5,361.5V348.5M464.5,361.5V347.7M465.5,361.5V350.1M466.5,361.5V351.7M467.5,361.5V349.0M468.5,361.5V345.2M469.5,361.5V349.3M470.5,361.5V348.6M471.5,361.5V353.2M472.5,361.5V347.3M473.5,361.5V344.6M474.5,361.5V351.0M475.5,361.5V349.1M476.5,361.5V348.2M477.5,361.5V349.8M478.5,361.5V351.2M479.5,361.5V352.0M480.5,361.5V350.9M481.5,361.5V352.1M482.5,361.5V346.2M483.5,361.5V345.7M484.5,361.5V348.6M485.5,361.5V345.4M486.5,361.5V345.2M487.5,361.5V347.8M488.5,361.5V346.2M489.5,361.5V348.2M490.5,361.5V345.7M491.5,361.5V350.4M492.5,361.5V351.8M493.5,361.5V352.8M494.5,361.5V351.9M495.5,361.5V350.6M496.5,361.5V349.8M497.5,361.5V347.8M498.5,361.5V346.1M499.5,361.5V349.6M500.5,361.5V349.3M501.5,361.5V347.4M502.5,361.5V345.7M503.5,361.5V351.3M504.5,361.5V351.6M505.5,361.5V350.3M506.5,361.5V347.8M507.5,361.5V351.8M508.5,361.5V345.7M509.5,361.5V350.2M510.5,361.5V348.3M511.5,361.5V346.2M512.5,361.5V347.3M513.5,361.5V350.7M514.5,361.5V351.8M515.5,361.5V345.1M516.5,361.5V351.4M517.5,361.5V347.4M518.5,361.5V350.0M519.5,361.5V350.7M520.5,361.5V350.4M521.5,361.5V345.0M522.5,361.5V348.5M523.5,361.5V346.9M524.5,361.5V352.4M525.5,361.5V348.1M526.5,361.5V345.4M527.5,361.5V350.1M528.5,361.5V348.8M529.5,361.5V345.8M530.5,361.5V345.8M531.5,361.5V348.2M532.5,361.5V353.4M533.5,361.5V350.0M534.5,361.5V348.8M535.5,361.5V345.6M536.5,361.5V352.0M537.5,361.5V347.3M538.5,361.5V352.1M539.5,361.5V349.4M540.5,361.5V347.9M541.5,361.5V349.8M542.5,361.5V347.2M543.5,361.5V350.5M544.5,361.5V345.5M545.5,361.5V352.2M546.5,361.5V351.2M547.5,361.5V350.7M548.5,361.5V345.2M549.5,361.5V351.2M550.5,361.5V345.5M551.5,361.5V345.5M552.5,361.5V348.1M553.5,361.5V345.7M554.5,361.5V348.5M555.5,361.5V345.4M556.5,361.5V351.4M557.5,361.5V351.3M558.5,361.5V351.2M559.5,361.5V344.9M560.5,361.5V349.0M561.5,361.5V346.2M562.5,361.5V350.0M563.5,361.5V346.1M564.5,361.5V348.5M565.5,361.5V348.2M566.5,361.5V348.9M567.5,361.5V353.2M568.5,361.5V353.1M569.5,361.5V346.4M570.5,361.5V351.9M571.5,361.5V351.8M572.5,361.5V353.0M573.5,361.5V350.9M574.5,361.5V345.0M575.5,361.5V349.5M576.5,361.5V345.0M577.5,361.5V352.9M578.5,361.5V352.7M579.5,361.5V348.0M580.5,361.5V347.1M581.5,361.5V352.7M582.5,361.5V350.5M583.5,361.5V346.7M584.5,361.5V352.7M585.5,361.5V345.4M586.5,361.5V345.6M587.5,361.5V346.0M588.5,361.5V347.6M589.5,361.5V353.1M590.5,361.5V352.9M591.5,361.5V348.0M592.5,361.5V349.0M593.5,361.5V349.6M594.5,361.5V352.1M595.5,361.5V349.4M596.5,361.5V347.9M597.5,361.5V352.0M598.5,361.5V345.3M599.5,361.5V352.4M600.5,361.5V345.3M601.5,361.5V346.3M602.5,361.5V349.0M603.5,361.5V347.5M604.5,361.5V347.4M605.5,361.5V353.0M606.5,361.5V350.5M607.5,361.5V350.3M608.5,361.5V352.5M609.5,361.5V345.6M610.5,361.5V352.5M611.5,361.5V346.9M612.5,361.5V349.8M613.5,361.5V352.8M614.5,361.5V350.5M615.5,361.5V346.1M616.5,361.5V349.2M617.5,361.5V348.1M618.5,361.5V351.3M619.5,361.5V349.2M620.5,361.5V344.7M621.5,361.5V349.9M622.5,361.5V349.9M623.5,361.5V350.9M624.5,361.5V348.5M625.5,361.5V349.7M626.5,361.5V351.7M627.5,361.5V345.1M628.5,361.5V351.2M629.5,361.5V347.8M630.5,361.5V352.3M631.5,361.5V345.1M632.5,361.5V353.5M633.5,361.5V350.4M634.5,361.5V351.1M635.5,361.5V352.4M636.5,361.5V346.2M637.5,361.5V344.7M638.5,361.5V344.6M639.5,361.5V351.9M640.5,361.5V348.3M641.5,361.5V352.5M642.5,361.5V349.7M643.5,361.5V345.3M644.5,361.5V348.0M645.5,361.5V346.7M646.5,361.5V348.2M647.5,361.5V344.5M648.5,361.5V347.8M649.5,361.5V352.6M650.5,361.5V353.1M651.5,361.5V345.5M652.5,361.5V347.5M653.5,361.5V352.8M654.5,361.5V346.3M655.5,361.5V346.6M656.5,361.5V351.0M657.5,361.5V349.8M658.5,361.5V348.2M659.5,361.5V346.6M660.5,361.5V348.9M661.5,361.5V345.9M662.5,361.5V353.1M663.5,361.5V349.8M664.5,361.5V346.6M665.5,361.5V346.5M666.5,361.5V344.6M667.5,361.5V353.4M668.5,361.5V348.6M669.5,361.5V347.6M670.5,361.5V347.9M671.5,361.5V352.5M672.5,361.5V347.7M673.5,361.5V346.8M674.5,361.5V350.6M675.5,361.5V350.8M676.5,361.5V349.5M677.5,361.5V345.2M678.5,361.5V353.0M679.5,361.5V345.5M680.5,361.5V349.8M681.5,361.5V352.3M682.5,361.5V349.6M683.5,361.5V346.8M684.5,361.5V350.9M685.5,361.5V352.8M686.5,361.5V345.1M687.5,361.5V352.9M688.5,361.5V349.4M689.5,361.5V352.9M690.5,361.5V350.2M691.5,361.5V351.9M692.5,361.5V353.5M693.5,361.5V346.6M694.5,361.5V346.7M695.5,361.5V353.3M696.5,361.5V348.6M697.5,361.5V353.1M698.5,361.5V350.0M699.5,361.5V353.4M700.5,361.5V351.9M701.5,361.5V348.6M702.5,361.5V348.1M703.5,361.5V346.0M704.5,361.5V346.7M705.5,361.5V348.5M706.5,361.5V347.1M707.5,361.5V348.0M708.5,361.5V348.7M709.5,361.5V347.1M710.5,361.5V352.8M711.5,361.5V347.6M712.5,361.5V346.3M713.5,361.5V350.1M714.5,361.5V352.0"/>
<path stroke-opacity="0.42" d="M234.5,361.5V348.0M235.5,361.5V349.5M236.5,361.5V343.0M237.5,361.5V350.9M238.5,361.5V350.9M239.5,361.5V343.9M240.5,361.5V351.0M241.5,361.5V343.8M242.5,361.5V350.9M243.5,361.5V346.9M244.5,361.5V346.1M245.5,361.5V343.1M246.5,361.5V349.0M247.5,361.5V349.6M248.5,361.5V347.6M249.5,361.5V349.0M250.5,361.5V339.6M251.5,361.5V347.4M252.5,361.5V348.6M253.5,361.5V345.0M254.5,361.5V344.7M255.5,361.5V345.7M256.5,361.5V345.2M257.5,361.5V345.3M258.5,361.5V342.2M259.5,361.5V350.0M260.5,361.5V346.0M261.5,361.5V340.4M262.5,361.5V344.8M263.5,361.5V344.1M264.5,361.5V346.2M265.5,361.5V339.5M266.5,361.5V339.9M267.5,361.5V342.6M268.5,361.5V350.9M269.5,361.5V350.3M270.5,361.5V349.9M271.5,361.5V338.6M272.5,361.5V342.4M273.5,361.5V351.1M274.5,361.5V341.3M275.5,361.5V338.8M276.5,361.5V345.8M277.5,361.5V350.7M278.5,361.5V344.6M279.5,361.5V341.3M280.5,361.5V344.6M281.5,361.5V342.4M282.5,361.5V347.7M283.5,361.5V340.6M284.5,361.5V348.5M285.5,361.5V341.8M286.5,361.5V341.3M287.5,361.5V346.4M288.5,361.5V344.1M289.5,361.5V348.9M290.5,361.5V345.2M291.5,361.5V344.2M292.5,361.5V345.4M293.5,361.5V350.9M294.5,361.5V350.6M295.5,361.5V350.3M296.5,361.5V343.4M297.5,361.5V351.1M298.5,361.5V346.2M299.5,361.5V351.2M300.5,361.5V341.7M301.5,361.5V351.1M302.5,361.5V347.8M303.5,361.5V340.2M304.5,361.5V345.5M305.5,361.5V339.9M306.5,361.5V340.2M307.5,361.5V344.9M308.5,361.5V345.6M309.5,361.5V351.1M310.5,361.5V343.1M311.5,361.5V348.9M312.5,361.5V349.7M313.5,361.5V350.7M314.5,361.5V342.1M315.5,361.5V346.4M316.5,361.5V341.5M317.5,361.5V339.0M318.5,361.5V347.4M319.5,361.5V350.7M320.5,361.5V346.1M321.5,361.5V339.0M322.5,361.5V346.3M323.5,361.5V346.4M324.5,361.5V344.1M325.5,361.5V338.5M326.5,361.5V339.2M327.5,361.5V350.7M328.5,361.5V340.2M329.5,361.5V344.0M330.5,361.5V342.4M331.5,361.5V341.3M332.5,361.5V346.4M333.5,361.5V347.1M334.5,361.5V340.0M335.5,361.5V343.5M336.5,361.5V344.3M337.5,361.5V343.0M338.5,361.5V338.6M339.5,361.5V350.7M340.5,361.5V350.9M341.5,361.5V340.5M342.5,361.5V343.2M343.5,361.5V339.2M344.5,361.5V346.3M345.5,361.5V339.7M346.5,361.5V348.8M347.5,361.5V349.9M348.5,361.5V344.0M349.5,361.5V348.6M350.5,361.5V343.3M351.5,361.5V344.2M352.5,361.5V351.4M353.5,361.5V342.0M354.5,361.5V349.0M355.5,361.5V351.2M356.5,361.5V351.4M357.5,361.5V338.9M358.5,361.5V348.6M359.5,361.5V350.5M360.5,361.5V342.6M361.5,361.5V339.4M362.5,361.5V346.5M363.5,361.5V344.2M364.5,361.5V339.2M365.5,361.5V342.0M366.5,361.5V349.1M367.5,361.5V340.0M368.5,361.5V345.1M369.5,361.5V349.2M370.5,361.5V345.1M371.5,361.5V339.8M372.5,361.5V351.0M373.5,361.5V344.3M374.5,361.5V351.0M375.5,361.5V346.8M376.5,361.5V343.1M377.5,361.5V345.1M378.5,361.5V345.8M379.5,361.5V350.8M380.5,361.5V348.5M381.5,361.5V341.3M382.5,361.5V349.5M383.5,361.5V349.2M384.5,361.5V342.3M385.5,361.5V349.7M386.5,361.5V349.8M387.5,361.5V338.6M388.5,361.5V340.2M389.5,361.5V343.3M390.5,361.5V350.2M391.5,361.5V351.5M392.5,361.5V347.1M393.5,361.5V341.5M394.5,361.5V349.1M395.5,361.5V349.1M396.5,361.5V343.5M397.5,361.5V348.0M398.5,361.5V348.6M399.5,361.5V341.7M400.5,361.5V346.2M401.5,361.5V345.4M402.5,361.5V344.8M403.5,361.5V343.4M404.5,361.5V344.8M405.5,361.5V344.1M406.5,361.5V342.6M407.5,361.5V347.8M408.5,361.5V342.2M409.5,361.5V347.2M410.5,361.5V349.5M411.5,361.5V341.1M412.5,361.5V351.4M413.5,361.5V346.3M414.5,361.5V349.4M415.5,361.5V345.3M416.5,361.5V344.0M417.5,361.5V340.1M418.5,361.5V340.2M419.5,361.5V341.4M420.5,361.5V345.1M421.5,361.5V346.6M422.5,361.5V349.3M423.5,361.5V349.6M424.5,361.5V345.8M425.5,361.5V342.4M426.5,361.5V344.1M427.5,361.5V346.0M428.5,361.5V343.7M429.5,361.5V350.6M430.5,361.5V350.5M431.5,361.5V344.1M432.5,361.5V343.8M433.5,361.5V343.0M434.5,361.5V347.8M435.5,361.5V350.6M436.5,361.5V347.5M437.5,361.5V345.4M438.5,361.5V341.2M439.5,361.5V348.6M440.5,361.5V351.1M441.5,361.5V350.4M442.5,361.5V346.1M443.5,361.5V345.5M444.5,361.5V349.0M445.5,361.5V351.4M446.5,361.5V346.3M447.5,361.5V340.0M448.5,361.5V346.7M449.5,361.5V349.3M450.5,361.5V341.7M451.5,361.5V347.6M452.5,361.5V340.3M453.5,361.5V347.7M454.5,361.5V346.0M455.5,361.5V340.3M456.5,361.5V348.3M457.5,361.5V344.6M458.5,361.5V351.2M459.5,361.5V342.6M460.5,361.5V344.8M461.5,361.5V350.2M462.5,361.5V338.5M463.5,361.5V345.6M464.5,361.5V339.6M465.5,361.5V346.4M466.5,361.5V350.7M467.5,361.5V351.3M468.5,361.5V348.8M469.5,361.5V349.1M470.5,361.5V349.8M471.5,361.5V349.4M472.5,361.5V350.3M473.5,361.5V340.5M474.5,361.5V343.4M475.5,361.5V339.6M476.5,361.5V350.8M477.5,361.5V349.5M478.5,361.5V347.8M479.5,361.5V348.4M480.5,361.5V346.9M481.5,361.5V349.3M482.5,361.5V340.6M483.5,361.5V342.1M484.5,361.5V346.2M485.5,361.5V344.9M486.5,361.5V342.8M487.5,361.5V343.6M488.5,361.5V349.7M489.5,361.5V342.7M490.5,361.5V344.4M491.5,361.5V340.2M492.5,361.5V351.4M493.5,361.5V340.1M494.5,361.5V341.2M495.5,361.5V350.0M496.5,361.5V347.7M497.5,361.5V348.5M498.5,361.5V349.2M499.5,361.5V342.1M500.5,361.5V348.2M501.5,361.5V345.3M502.5,361.5V349.5M503.5,361.5V345.1M504.5,361.5V346.2M505.5,361.5V339.6M506.5,361.5V343.8M507.5,361.5V350.7M508.5,361.5V338.9M509.5,361.5V349.8M510.5,361.5V340.7M511.5,361.5V348.3M512.5,361.5V339.2M513.5,361.5V350.9M514.5,361.5V341.9M515.5,361.5V345.9M516.5,361.5V339.2M517.5,361.5V339.5M518.5,361.5V351.0M519.5,361.5V350.4M520.5,361.5V351.1M521.5,361.5V344.2M522.5,361.5V343.8M523.5,361.5V348.1M524.5,361.5V340.7M525.5,361.5V350.5M526.5,361.5V340.9M527.5,361.5V340.8M528.5,361.5V346.3M529.5,361.5V342.0M530.5,361.5V351.4M531.5,361.5V348.9M532.5,361.5V345.9M533.5,361.5V350.7M534.5,361.5V344.8M535.5,361.5V340.8M536.5,361.5V351.3M537.5,361.5V341.7M538.5,361.5V339.1M539.5,361.5V350.3M540.5,361.5V343.5M541.5,361.5V344.5M542.5,361.5V343.3M543.5,361.5V345.5M544.5,361.5V349.8M545.5,361.5V340.6M546.5,361.5V348.9M547.5,361.5V344.5M548.5,361.5V347.6M549.5,361.5V340.0M550.5,361.5V340.8M551.5,361.5V339.9M552.5,361.5V345.7M553.5,361.5V343.7M554.5,361.5V340.6M555.5,361.5V340.9M556.5,361.5V346.1M557.5,361.5V344.3M558.5,361.5V348.8M559.5,361.5V342.2M560.5,361.5V344.5M561.5,361.5V343.3M562.5,361.5V338.9M563.5,361.5V351.2M564.5,361.5V345.8M565.5,361.5V345.2M566.5,361.5V348.9M567.5,361.5V349.8M568.5,361.5V345.2M569.5,361.5V348.0M570.5,361.5V343.0M571.5,361.5V344.9M572.5,361.5V341.4M573.5,361.5V343.9M574.5,361.5V339.7M575.5,361.5V341.9M576.5,361.5V342.9M577.5,361.5V349.4M578.5,361.5V347.2M579.5,361.5V340.6M580.5,361.5V349.7M581.5,361.5V341.7M582.5,361.5V350.4M583.5,361.5V343.3M584.5,361.5V342.8M585.5,361.5V346.6M586.5,361.5V343.7M587.5,361.5V348.7M588.5,361.5V339.4M589.5,361.5V349.2M590.5,361.5V338.6M591.5,361.5V348.4M592.5,361.5V346.8M593.5,361.5V350.6M594.5,361.5V341.3M595.5,361.5V346.3M596.5,361.5V342.0M597.5,361.5V346.4M598.5,361.5V350.1M599.5,361.5V347.0M600.5,361.5V350.5M601.5,361.5V348.7M602.5,361.5V343.3M603.5,361.5V338.7M604.5,361.5V345.8M605.5,361.5V350.7M606.5,361.5V339.9M607.5,361.5V344.2M608.5,361.5V345.9M609.5,361.5V348.2M610.5,361.5V341.4M611.5,361.5V342.0M612.5,361.5V342.0M613.5,361.5V350.2M614.5,361.5V348.0M615.5,361.5V339.8M616.5,361.5V348.5M617.5,361.5V346.0M618.5,361.5V350.9M619.5,361.5V343.5M620.5,361.5V347.5M621.5,361.5V342.0M622.5,361.5V338.8M623.5,361.5V348.1M624.5,361.5V349.2M625.5,361.5V350.4M626.5,361.5V338.9M627.5,361.5V347.6M628.5,361.5V350.4M629.5,361.5V349.4M630.5,361.5V343.3M631.5,361.5V340.4M632.5,361.5V344.7M633.5,361.5V340.2M634.5,361.5V349.1M635.5,361.5V347.6M636.5,361.5V344.6M637.5,361.5V342.2M638.5,361.5V348.7M639.5,361.5V350.9M640.5,361.5V346.3M641.5,361.5V348.7M642.5,361.5V347.0M643.5,361.5V346.9M644.5,361.5V344.4M645.5,361.5V348.7M646.5,361.5V345.8M647.5,361.5V350.3M648.5,361.5V349.8M649.5,361.5V340.4M650.5,361.5V339.0M651.5,361.5V341.2M652.5,361.5V350.3M653.5,361.5V339.6M654.5,361.5V342.2M655.5,361.5V349.7M656.5,361.5V351.4M657.5,361.5V338.8M658.5,361.5V347.5M659.5,361.5V348.2M660.5,361.5V346.6M661.5,361.5V345.8M662.5,361.5V342.2M663.5,361.5V345.4M664.5,361.5V345.8M665.5,361.5V339.2M666.5,361.5V339.9M667.5,361.5V348.6M668.5,361.5V342.5M669.5,361.5V340.7M670.5,361.5V351.3M671.5,361.5V340.4M672.5,361.5V339.3M673.5,361.5V344.9M674.5,361.5V342.4M675.5,361.5V338.7M676.5,361.5V347.8M677.5,361.5V344.0M678.5,361.5V340.2M679.5,361.5V342.3M680.5,361.5V340.0M681.5,361.5V341.4M682.5,361.5V340.0M683.5,361.5V342.6M684.5,361.5V339.0M685.5,361.5V344.2M686.5,361.5V341.7M687.5,361.5V350.7M688.5,361.5V339.7M689.5,361.5V348.5M690.5,361.5V349.8M691.5,361.5V341.4M692.5,361.5V349.2M693.5,361.5V344.1M694.5,361.5V349.6M695.5,361.5V339.0M696.5,361.5V348.9M697.5,361.5V350.3M698.5,361.5V341.0M699.5,361.5V344.7M700.5,361.5V349.9M701.5,361.5V351.3M702.5,361.5V340.4M703.5,361.5V344.0M704.5,361.5V345.6M705.5,361.5V340.5M706.5,361.5V346.6M707.5,361.5V347.4M708.5,361.5V346.0M709.5,361.5V339.9M710.5,361.5V344.0M711.5,361.5V348.1M712.5,361.5V340.9M713.5,361.5V350.4M714.5,361.5V346.3"/>
<path stroke-opacity="0.18" d="M241.5,361.5V342.1M245.5,361.5V347.5M253.5,361.5V348.5M256.5,361.5V349.3M257.5,361.5V336.4M259.5,361.5V346.0M260.5,361.5V348.6M261.5,361.5V344.8M262.5,361.5V345.9M263.5,361.5V348.2M270.5,361.5V345.2M275.5,361.5V344.8M276.5,361.5V344.9M282.5,361.5V338.9M283.5,361.5V344.0M284.5,361.5V343.6M285.5,361.5V347.0M290.5,361.5V341.8M291.5,361.5V336.2M292.5,361.5V335.9M293.5,361.5V334.9M296.5,361.5V348.6M297.5,361.5V341.9M298.5,361.5V341.5M302.5,361.5V344.5M303.5,361.5V347.1M304.5,361.5V349.1M309.5,361.5V343.1M317.5,361.5V340.1M318.5,361.5V340.6M319.5,361.5V341.9M320.5,361.5V347.0M323.5,361.5V337.2M324.5,361.5V342.4M330.5,361.5V343.8M331.5,361.5V345.3M336.5,361.5V340.6M337.5,361.5V346.9M338.5,361.5V343.5M347.5,361.5V347.5M356.5,361.5V342.9M357.5,361.5V339.2M361.5,361.5V336.0M362.5,361.5V343.4M373.5,361.5V341.0M380.5,361.5V346.8M386.5,361.5V342.0M396.5,361.5V346.7M397.5,361.5V347.7M401.5,361.5V340.5M402.5,361.5V336.4M403.5,361.5V348.1M414.5,361.5V338.2M417.5,361.5V339.8M421.5,361.5V348.3M434.5,361.5V341.7M435.5,361.5V344.4M438.5,361.5V341.4M439.5,361.5V339.8M444.5,361.5V348.9M449.5,361.5V340.5M450.5,361.5V340.9M460.5,361.5V343.8M467.5,361.5V345.1M472.5,361.5V343.0M487.5,361.5V341.2M488.5,361.5V340.5M489.5,361.5V339.9M490.5,361.5V334.8M491.5,361.5V335.5M492.5,361.5V339.7M493.5,361.5V344.6M494.5,361.5V338.2M502.5,361.5V341.3M503.5,361.5V348.8M509.5,361.5V338.0M513.5,361.5V341.0M521.5,361.5V334.6M522.5,361.5V339.5M537.5,361.5V340.2M540.5,361.5V345.2M541.5,361.5V343.3M546.5,361.5V337.2M550.5,361.5V342.9M551.5,361.5V340.6M552.5,361.5V336.2M553.5,361.5V342.3M554.5,361.5V336.2M555.5,361.5V337.1M556.5,361.5V348.1M557.5,361.5V347.3M561.5,361.5V336.2M562.5,361.5V347.4M565.5,361.5V345.5M566.5,361.5V340.0M570.5,361.5V348.6M571.5,361.5V334.9M587.5,361.5V340.3M588.5,361.5V342.6M597.5,361.5V339.6M598.5,361.5V335.9M599.5,361.5V341.8M610.5,361.5V337.1M611.5,361.5V349.5M618.5,361.5V337.6M623.5,361.5V342.8M635.5,361.5V349.1M636.5,361.5V344.0M637.5,361.5V344.8M643.5,361.5V344.5M644.5,361.5V348.4M647.5,361.5V342.3M649.5,361.5V335.2M650.5,361.5V344.6M653.5,361.5V335.0M657.5,361.5V338.5M666.5,361.5V338.2M670.5,361.5V343.3M671.5,361.5V348.6M672.5,361.5V349.4M676.5,361.5V346.2M677.5,361.5V340.0M678.5,361.5V338.3M695.5,361.5V337.7M696.5,361.5V336.3M699.5,361.5V334.9M700.5,361.5V347.7M704.5,361.5V348.8M711.5,361.5V346.3"/>
<path stroke-opacity="0.24" d="M235.5,361.5V338.3M236.5,361.5V348.7M240.5,361.5V336.5M242.5,361.5V338.4M244.5,361.5V347.4M246.5,361.5V339.3M252.5,361.5V343.0M254.5,361.5V336.1M255.5,361.5V345.8M258.5,361.5V337.1M264.5,361.5V344.5M271.5,361.5V347.3M272.5,361.5V348.4M281.5,361.5V344.6M286.5,361.5V348.3M287.5,361.5V338.7M289.5,361.5V341.5M299.5,361.5V344.3M300.5,361.5V342.9M301.5,361.5V345.4M305.5,361.5V344.2M310.5,361.5V336.7M312.5,361.5V346.6M316.5,361.5V337.7M325.5,361.5V340.6M328.5,361.5V336.0M329.5,361.5V335.9M332.5,361.5V345.4M346.5,361.5V335.8M348.5,361.5V340.1M353.5,361.5V335.0M355.5,361.5V346.3M360.5,361.5V340.0M363.5,361.5V346.6M369.5,361.5V344.9M370.5,361.5V344.9M372.5,361.5V346.4M374.5,361.5V349.1M377.5,361.5V341.4M385.5,361.5V339.1M387.5,361.5V346.2M388.5,361.5V339.8M400.5,361.5V337.9M404.5,361.5V341.1M405.5,361.5V348.6M406.5,361.5V344.1M409.5,361.5V335.3M410.5,361.5V336.5M411.5,361.5V341.7M412.5,361.5V344.4M413.5,361.5V335.7M415.5,361.5V335.8M427.5,361.5V342.2M428.5,361.5V345.5M437.5,361.5V335.7M445.5,361.5V337.9M451.5,361.5V346.3M457.5,361.5V349.3M458.5,361.5V337.1M459.5,361.5V337.6M468.5,361.5V345.2M497.5,361.5V348.8M499.5,361.5V336.3M500.5,361.5V349.2M501.5,361.5V343.5M506.5,361.5V335.8M507.5,361.5V345.9M508.5,361.5V338.5M512.5,361.5V341.0M514.5,361.5V346.5M520.5,361.5V344.1M523.5,361.5V341.2M530.5,361.5V344.9M536.5,361.5V348.7M538.5,361.5V342.3M539.5,361.5V341.2M545.5,361.5V344.9M549.5,361.5V340.8M558.5,361.5V348.5M559.5,361.5V347.4M560.5,361.5V342.5M563.5,361.5V348.9M564.5,361.5V344.8M567.5,361.5V337.5M568.5,361.5V342.2M569.5,361.5V340.8M576.5,361.5V344.7M577.5,361.5V336.2M578.5,361.5V348.3M579.5,361.5V340.4M584.5,361.5V348.9M585.5,361.5V348.7M586.5,361.5V339.4M589.5,361.5V334.7M591.5,361.5V340.1M592.5,361.5V342.9M600.5,361.5V338.4M601.5,361.5V340.0M602.5,361.5V346.7M603.5,361.5V344.7M604.5,361.5V348.3M605.5,361.5V345.7M606.5,361.5V334.6M609.5,361.5V342.3M614.5,361.5V337.3M615.5,361.5V346.4M617.5,361.5V339.2M619.5,361.5V347.2M621.5,361.5V338.0M622.5,361.5V347.0M626.5,361.5V349.2M627.5,361.5V347.4M632.5,361.5V344.1M638.5,361.5V341.8M642.5,361.5V348.1M645.5,361.5V335.8M646.5,361.5V342.1M648.5,361.5V338.1M651.5,361.5V343.1M652.5,361.5V344.0M654.5,361.5V343.7M658.5,361.5V341.4M663.5,361.5V339.9M667.5,361.5V341.6M673.5,361.5V341.6M675.5,361.5V335.1M682.5,361.5V348.0M683.5,361.5V348.7M686.5,361.5V337.9M687.5,361.5V336.9M691.5,361.5V342.4M694.5,361.5V347.3M697.5,361.5V346.8M698.5,361.5V335.2M701.5,361.5V337.7M705.5,361.5V345.1M710.5,361.5V344.8M712.5,361.5V344.8"/>
<path stroke-opacity="0.30" d="M248.5,361.5V344.1M249.5,361.5V347.9M250.5,361.5V343.0M251.5,361.5V343.7M265.5,361.5V335.1M266.5,361.5V338.8M267.5,361.5V345.2M268.5,361.5V342.7M269.5,361.5V339.9M273.5,361.5V347.9M274.5,361.5V345.3M277.5,361.5V342.2M279.5,361.5V335.7M280.5,361.5V346.6M288.5,361.5V345.9M294.5,361.5V338.7M295.5,361.5V340.3M308.5,361.5V338.7M311.5,361.5V339.4M313.5,361.5V341.3M315.5,361.5V341.1M321.5,361.5V346.1M326.5,361.5V346.2M327.5,361.5V341.1M333.5,361.5V336.9M334.5,361.5V341.9M335.5,361.5V338.0M339.5,361.5V342.4M340.5,361.5V340.9M341.5,361.5V339.3M344.5,361.5V337.7M345.5,361.5V346.3M349.5,361.5V348.3M350.5,361.5V336.9M352.5,361.5V344.7M354.5,361.5V345.3M358.5,361.5V337.9M364.5,361.5V345.4M365.5,361.5V345.7M368.5,361.5V340.5M371.5,361.5V339.8M378.5,361.5V336.6M379.5,361.5V343.6M381.5,361.5V339.7M389.5,361.5V344.5M395.5,361.5V335.8M407.5,361.5V343.5M408.5,361.5V343.8M416.5,361.5V337.0M418.5,361.5V347.3M420.5,361.5V335.1M422.5,361.5V343.1M423.5,361.5V342.1M424.5,361.5V337.5M425.5,361.5V344.6M429.5,361.5V347.5M436.5,361.5V343.9M440.5,361.5V338.3M443.5,361.5V338.3M447.5,361.5V338.8M448.5,361.5V335.3M452.5,361.5V349.0M453.5,361.5V343.4M454.5,361.5V345.0M455.5,361.5V335.4M456.5,361.5V344.9M461.5,361.5V337.3M464.5,361.5V343.6M465.5,361.5V341.4M466.5,361.5V342.8M471.5,361.5V348.0M473.5,361.5V342.0M481.5,361.5V346.1M482.5,361.5V347.5M483.5,361.5V344.8M484.5,361.5V341.8M486.5,361.5V340.1M495.5,361.5V343.8M496.5,361.5V342.0M504.5,361.5V345.0M510.5,361.5V340.7M515.5,361.5V340.7M517.5,361.5V336.9M524.5,361.5V348.0M527.5,361.5V346.4M528.5,361.5V339.2M529.5,361.5V340.9M531.5,361.5V336.4M535.5,361.5V342.4M542.5,361.5V348.4M543.5,361.5V345.1M544.5,361.5V336.0M547.5,361.5V348.8M572.5,361.5V345.6M582.5,361.5V339.4M583.5,361.5V338.9M590.5,361.5V345.9M593.5,361.5V338.9M596.5,361.5V347.7M607.5,361.5V341.6M608.5,361.5V345.5M612.5,361.5V348.8M613.5,361.5V348.1M616.5,361.5V347.9M620.5,361.5V343.6M624.5,361.5V346.3M629.5,361.5V340.7M630.5,361.5V343.2M631.5,361.5V348.7M634.5,361.5V348.8M641.5,361.5V340.8M656.5,361.5V347.3M661.5,361.5V342.1M662.5,361.5V340.3M664.5,361.5V336.0M665.5,361.5V340.1M669.5,361.5V346.4M679.5,361.5V348.0M690.5,361.5V340.7M692.5,361.5V342.3M702.5,361.5V349.3M703.5,361.5V344.4M707.5,361.5V347.3M709.5,361.5V347.5M713.5,361.5V336.3"/>
<path stroke-opacity="0.36" d="M234.5,361.5V340.3M237.5,361.5V334.7M238.5,361.5V335.8M239.5,361.5V342.9M243.5,361.5V344.3M247.5,361.5V346.5M278.5,361.5V342.8M306.5,361.5V342.5M307.5,361.5V338.4M314.5,361.5V345.3M322.5,361.5V345.4M342.5,361.5V338.3M343.5,361.5V343.6M351.5,361.5V339.5M359.5,361.5V335.0M366.5,361.5V346.6M367.5,361.5V336.9M375.5,361.5V343.6M376.5,361.5V348.9M382.5,361.5V344.9M383.5,361.5V340.7M384.5,361.5V349.3M390.5,361.5V334.6M391.5,361.5V346.7M392.5,361.5V342.7M393.5,361.5V340.6M394.5,361.5V341.5M398.5,361.5V337.1M399.5,361.5V340.2M419.5,361.5V339.0M426.5,361.5V344.2M430.5,361.5V342.3M431.5,361.5V337.8M432.5,361.5V346.4M433.5,361.5V347.1M441.5,361.5V342.5M442.5,361.5V340.4M446.5,361.5V346.5M462.5,361.5V340.6M463.5,361.5V345.9M469.5,361.5V338.9M470.5,361.5V348.4M474.5,361.5V335.8M475.5,361.5V343.0M476.5,361.5V339.8M477.5,361.5V346.6M478.5,361.5V347.6M479.5,361.5V335.4M480.5,361.5V339.1M485.5,361.5V341.0M498.5,361.5V344.1M505.5,361.5V336.6M511.5,361.5V346.8M516.5,361.5V339.9M518.5,361.5V342.1M519.5,361.5V338.0M525.5,361.5V349.3M526.5,361.5V342.3M532.5,361.5V344.7M533.5,361.5V349.2M534.5,361.5V342.2M548.5,361.5V340.6M573.5,361.5V341.1M574.5,361.5V345.1M575.5,361.5V338.3M580.5,361.5V344.5M581.5,361.5V346.7M594.5,361.5V348.3M595.5,361.5V340.4M625.5,361.5V341.8M628.5,361.5V339.8M633.5,361.5V340.2M639.5,361.5V344.5M640.5,361.5V344.4M655.5,361.5V345.8M659.5,361.5V344.4M660.5,361.5V343.4M668.5,361.5V342.0M674.5,361.5V344.8M680.5,361.5V338.6M681.5,361.5V346.3M684.5,361.5V341.5M685.5,361.5V337.0M688.5,361.5V340.8M689.5,361.5V347.4M693.5,361.5V342.4M706.5,361.5V342.6M708.5,361.5V346.8M714.5,361.5V345.2"/>
<path stroke-opacity="0.06" d="M237.5,361.5V343.1M239.5,361.5V343.3M240.5,361.5V329.9M241.5,361.5V343.2M255.5,361.5V334.1M256.5,361.5V335.1M266.5,361.5V326.4M290.5,361.5V337.8M291.5,361.5V339.7M293.5,361.5V327.3M295.5,361.5V342.6M315.5,361.5V340.6M319.5,361.5V331.9M323.5,361.5V332.1M324.5,361.5V343.5M325.5,361.5V331.9M338.5,361.5V341.1M339.5,361.5V337.3M347.5,361.5V333.8M348.5,361.5V332.6M351.5,361.5V341.3M377.5,361.5V327.8M378.5,361.5V331.7M385.5,361.5V330.0M387.5,361.5V331.0M388.5,361.5V339.0M397.5,361.5V343.1M401.5,361.5V335.8M402.5,361.5V331.4M403.5,361.5V341.6M407.5,361.5V330.0M408.5,361.5V326.0M409.5,361.5V336.7M410.5,361.5V342.0M411.5,361.5V328.7M429.5,361.5V330.9M437.5,361.5V342.6M438.5,361.5V328.6M442.5,361.5V333.6M443.5,361.5V331.8M450.5,361.5V341.0M451.5,361.5V339.6M452.5,361.5V329.2M453.5,361.5V329.8M454.5,361.5V334.1M475.5,361.5V327.2M476.5,361.5V332.3M495.5,361.5V341.8M496.5,361.5V332.8M514.5,361.5V340.6M516.5,361.5V339.6M519.5,361.5V330.6M523.5,361.5V333.3M532.5,361.5V329.5M533.5,361.5V325.8M556.5,361.5V330.2M557.5,361.5V331.2M564.5,361.5V334.6M565.5,361.5V332.5M566.5,361.5V338.8M573.5,361.5V339.0M574.5,361.5V337.7M578.5,361.5V342.5M587.5,361.5V331.7M599.5,361.5V326.1M600.5,361.5V333.4M601.5,361.5V333.1M606.5,361.5V339.0M607.5,361.5V330.0M608.5,361.5V332.6M610.5,361.5V330.1M617.5,361.5V328.2M618.5,361.5V343.3M619.5,361.5V331.0M622.5,361.5V329.4M627.5,361.5V338.8M628.5,361.5V332.1M640.5,361.5V329.8M656.5,361.5V334.7M657.5,361.5V328.5M658.5,361.5V339.1M659.5,361.5V333.0M660.5,361.5V340.6M664.5,361.5V326.7M665.5,361.5V340.9M677.5,361.5V333.3M678.5,361.5V328.3M692.5,361.5V333.6M693.5,361.5V342.9M694.5,361.5V343.0M708.5,361.5V331.5M709.5,361.5V334.1"/>
<path stroke-opacity="0.12" d="M234.5,361.5V333.7M235.5,361.5V325.9M236.5,361.5V328.7M238.5,361.5V329.4M242.5,361.5V341.7M243.5,361.5V326.4M244.5,361.5V336.8M245.5,361.5V330.2M247.5,361.5V339.3M249.5,361.5V337.5M251.5,361.5V341.0M252.5,361.5V336.4M253.5,361.5V334.5M254.5,361.5V338.7M257.5,361.5V327.3M265.5,361.5V326.1M267.5,361.5V341.8M270.5,361.5V328.9M271.5,361.5V337.6M272.5,361.5V343.3M277.5,361.5V339.9M279.5,361.5V333.1M280.5,361.5V329.2M281.5,361.5V335.6M282.5,361.5V326.6M284.5,361.5V331.6M285.5,361.5V332.1M286.5,361.5V329.5M289.5,361.5V339.6M292.5,361.5V335.5M294.5,361.5V343.4M304.5,361.5V329.8M305.5,361.5V341.2M306.5,361.5V331.9M307.5,361.5V338.1M308.5,361.5V326.5M310.5,361.5V338.4M314.5,361.5V326.8M316.5,361.5V339.5M317.5,361.5V328.9M318.5,361.5V333.0M320.5,361.5V334.9M321.5,361.5V334.4M322.5,361.5V329.6M326.5,361.5V339.7M327.5,361.5V328.9M328.5,361.5V328.4M329.5,361.5V329.9M330.5,361.5V336.4M335.5,361.5V334.6M336.5,361.5V332.4M337.5,361.5V338.1M340.5,361.5V328.1M341.5,361.5V328.3M342.5,361.5V330.9M343.5,361.5V329.9M344.5,361.5V332.0M345.5,361.5V338.5M346.5,361.5V330.4M349.5,361.5V328.2M350.5,361.5V328.3M352.5,361.5V339.5M353.5,361.5V340.9M354.5,361.5V335.7M355.5,361.5V326.5M356.5,361.5V332.4M360.5,361.5V342.8M361.5,361.5V326.6M362.5,361.5V330.1M363.5,361.5V333.2M365.5,361.5V336.9M366.5,361.5V333.2M367.5,361.5V338.9M368.5,361.5V343.0M369.5,361.5V325.9M370.5,361.5V326.8M372.5,361.5V339.5M373.5,361.5V330.9M374.5,361.5V335.8M375.5,361.5V341.0M376.5,361.5V333.7M379.5,361.5V328.9M383.5,361.5V326.3M384.5,361.5V328.0M386.5,361.5V339.7M389.5,361.5V334.4M393.5,361.5V333.9M394.5,361.5V339.8M395.5,361.5V330.2M396.5,361.5V342.3M398.5,361.5V334.2M399.5,361.5V336.6M400.5,361.5V331.2M404.5,361.5V328.0M406.5,361.5V330.7M412.5,361.5V336.0M416.5,361.5V328.1M417.5,361.5V327.0M418.5,361.5V327.9M421.5,361.5V337.8M423.5,361.5V334.9M424.5,361.5V334.1M425.5,361.5V330.8M427.5,361.5V334.9M428.5,361.5V331.3M430.5,361.5V327.4M431.5,361.5V330.9M435.5,361.5V330.1M436.5,361.5V326.4M439.5,361.5V331.1M440.5,361.5V338.3M441.5,361.5V342.4M444.5,361.5V335.9M445.5,361.5V342.6M446.5,361.5V334.7M447.5,361.5V333.8M448.5,361.5V340.0M449.5,361.5V332.1M455.5,361.5V331.7M456.5,361.5V340.1M457.5,361.5V339.4M458.5,361.5V331.9M467.5,361.5V331.5M469.5,361.5V343.5M470.5,361.5V338.2M471.5,361.5V326.6M474.5,361.5V333.1M477.5,361.5V333.4M478.5,361.5V336.2M479.5,361.5V327.6M480.5,361.5V336.7M487.5,361.5V327.0M488.5,361.5V328.1M492.5,361.5V338.2M493.5,361.5V329.8M494.5,361.5V329.2M497.5,361.5V343.0M498.5,361.5V327.5M499.5,361.5V341.4M503.5,361.5V328.1M508.5,361.5V329.7M513.5,361.5V339.9M515.5,361.5V330.0M517.5,361.5V336.1M518.5,361.5V330.0M520.5,361.5V327.4M521.5,361.5V339.0M524.5,361.5V330.5M525.5,361.5V335.8M528.5,361.5V340.7M529.5,361.5V326.7M530.5,361.5V326.2M531.5,361.5V334.4M534.5,361.5V334.4M535.5,361.5V331.8M548.5,361.5V333.3M549.5,361.5V341.8M553.5,361.5V340.6M554.5,361.5V333.0M555.5,361.5V331.0M558.5,361.5V328.8M561.5,361.5V337.8M562.5,361.5V334.6M563.5,361.5V342.4M570.5,361.5V338.4M571.5,361.5V337.6M572.5,361.5V328.7M575.5,361.5V331.3M576.5,361.5V340.8M577.5,361.5V338.0M579.5,361.5V328.2M580.5,361.5V333.1M586.5,361.5V337.4M588.5,361.5V328.3M589.5,361.5V342.7M591.5,361.5V331.4M593.5,361.5V335.5M598.5,361.5V328.6M602.5,361.5V333.7M609.5,361.5V334.0M611.5,361.5V336.6M616.5,361.5V342.0M620.5,361.5V331.2M621.5,361.5V341.0M623.5,361.5V329.3M624.5,361.5V337.4M626.5,361.5V327.7M629.5,361.5V339.3M639.5,361.5V330.3M641.5,361.5V334.0M642.5,361.5V334.9M643.5,361.5V325.7M647.5,361.5V337.4M648.5,361.5V330.7M649.5,361.5V332.1M650.5,361.5V341.7M651.5,361.5V342.9M652.5,361.5V328.5M655.5,361.5V329.7M661.5,361.5V326.5M662.5,361.5V329.8M663.5,361.5V327.3M666.5,361.5V340.7M667.5,361.5V327.3M669.5,361.5V338.7M674.5,361.5V325.7M675.5,361.5V331.6M676.5,361.5V337.0M679.5,361.5V325.5M683.5,361.5V329.0M685.5,361.5V327.3M691.5,361.5V340.2M695.5,361.5V338.4M699.5,361.5V336.1M700.5,361.5V342.9M707.5,361.5V326.4M710.5,361.5V326.8M714.5,361.5V333.7"/>
<path stroke-opacity="0.18" d="M246.5,361.5V326.1M248.5,361.5V340.0M250.5,361.5V334.4M258.5,361.5V338.3M259.5,361.5V327.7M260.5,361.5V339.4M261.5,361.5V333.6M262.5,361.5V341.2M263.5,361.5V335.1M264.5,361.5V340.0M268.5,361.5V337.8M269.5,361.5V335.9M273.5,361.5V330.1M274.5,361.5V328.3M275.5,361.5V341.1M276.5,361.5V326.2M278.5,361.5V342.4M283.5,361.5V326.4M287.5,361.5V326.0M288.5,361.5V333.5M296.5,361.5V340.9M297.5,361.5V337.5M298.5,361.5V331.7M299.5,361.5V337.8M300.5,361.5V340.3M301.5,361.5V332.0M302.5,361.5V327.6M303.5,361.5V327.4M309.5,361.5V331.8M311.5,361.5V331.7M312.5,361.5V341.9M313.5,361.5V333.4M331.5,361.5V329.5M332.5,361.5V342.0M333.5,361.5V329.9M334.5,361.5V327.3M357.5,361.5V334.5M358.5,361.5V343.5M359.5,361.5V332.7M364.5,361.5V338.0M371.5,361.5V330.5M380.5,361.5V331.5M381.5,361.5V332.7M382.5,361.5V336.4M390.5,361.5V338.5M391.5,361.5V326.8M392.5,361.5V326.0M405.5,361.5V334.1M413.5,361.5V340.7M414.5,361.5V326.9M415.5,361.5V340.0M419.5,361.5V343.1M420.5,361.5V335.8M422.5,361.5V336.4M426.5,361.5V331.9M432.5,361.5V341.9M433.5,361.5V326.4M434.5,361.5V328.8M459.5,361.5V328.5M460.5,361.5V342.5M461.5,361.5V336.8M462.5,361.5V340.9M463.5,361.5V337.3M464.5,361.5V332.9M465.5,361.5V329.6M466.5,361.5V340.1M468.5,361.5V334.2M472.5,361.5V333.4M473.5,361.5V341.9M481.5,361.5V330.6M482.5,361.5V341.1M483.5,361.5V332.5M484.5,361.5V330.2M485.5,361.5V332.6M486.5,361.5V325.5M489.5,361.5V333.1M490.5,361.5V333.1M491.5,361.5V325.6M500.5,361.5V332.9M501.5,361.5V329.5M502.5,361.5V337.1M504.5,361.5V343.4M505.5,361.5V339.9M506.5,361.5V340.2M507.5,361.5V338.7M509.5,361.5V327.8M510.5,361.5V327.8M511.5,361.5V338.0M512.5,361.5V339.0M522.5,361.5V339.7M526.5,361.5V335.0M527.5,361.5V343.5M536.5,361.5V342.8M537.5,361.5V331.3M538.5,361.5V342.6M539.5,361.5V342.5M540.5,361.5V340.8M541.5,361.5V341.3M542.5,361.5V342.6M543.5,361.5V329.1M544.5,361.5V339.6M545.5,361.5V331.2M546.5,361.5V335.7M547.5,361.5V339.3M550.5,361.5V334.8M551.5,361.5V338.7M552.5,361.5V329.5M559.5,361.5V343.0M560.5,361.5V332.0M567.5,361.5V343.2M568.5,361.5V329.0M569.5,361.5V334.4M581.5,361.5V341.6M582.5,361.5V338.1M583.5,361.5V337.7M584.5,361.5V339.1M585.5,361.5V338.3M590.5,361.5V326.4M592.5,361.5V330.2M594.5,361.5V329.4M595.5,361.5V331.0M596.5,361.5V341.7M597.5,361.5V325.9M603.5,361.5V337.5M604.5,361.5V331.8M605.5,361.5V341.2M612.5,361.5V336.8M613.5,361.5V331.4M614.5,361.5V336.3M615.5,361.5V337.5M625.5,361.5V343.1M630.5,361.5V338.6M631.5,361.5V328.2M632.5,361.5V332.8M633.5,361.5V333.9M634.5,361.5V334.4M635.5,361.5V332.1M636.5,361.5V328.7M637.5,361.5V342.8M638.5,361.5V332.8M644.5,361.5V335.6M645.5,361.5V328.3M646.5,361.5V333.9M653.5,361.5V336.8M654.5,361.5V326.3M668.5,361.5V330.6M670.5,361.5V334.4M671.5,361.5V329.8M672.5,361.5V341.4M673.5,361.5V335.3M680.5,361.5V335.8M681.5,361.5V335.0M682.5,361.5V342.2M684.5,361.5V325.6M686.5,361.5V327.1M687.5,361.5V336.0M688.5,361.5V343.2M689.5,361.5V338.3M690.5,361.5V332.2M696.5,361.5V327.8M697.5,361.5V331.5M698.5,361.5V326.9M701.5,361.5V331.3M702.5,361.5V327.3M703.5,361.5V328.4M704.5,361.5V338.5M705.5,361.5V342.8M706.5,361.5V331.4M711.5,361.5V329.3M712.5,361.5V333.6M713.5,361.5V333.6"/>
<path stroke-opacity="0.06" d="M235.5,359.5V317.2M236.5,359.5V319.1M239.5,359.5V320.9M241.5,359.5V313.5M246.5,359.5V321.6M248.5,359.5V314.6M250.5,359.5V320.0M251.5,359.5V310.6M253.5,359.5V331.3M255.5,359.5V329.9M256.5,359.5V325.5M257.5,359.5V316.8M261.5,359.5V316.8M262.5,359.5V323.4M264.5,359.5V313.0M267.5,359.5V322.0M272.5,359.5V319.0M274.5,359.5V324.8M278.5,359.5V330.8M283.5,359.5V314.7M284.5,359.5V328.2M289.5,359.5V322.1M290.5,359.5V316.1M291.5,359.5V331.1M292.5,359.5V321.0M301.5,359.5V324.7M302.5,359.5V322.5M303.5,359.5V327.7M304.5,359.5V316.1M308.5,359.5V327.0M310.5,359.5V311.6M313.5,359.5V327.5M314.5,359.5V309.7M315.5,359.5V324.2M317.5,359.5V322.6M318.5,359.5V316.4M320.5,359.5V329.7M321.5,359.5V314.7M324.5,359.5V323.1M325.5,359.5V311.2M326.5,359.5V321.0M327.5,359.5V317.6M332.5,359.5V322.1M337.5,359.5V316.6M341.5,359.5V320.8M348.5,359.5V319.4M350.5,359.5V322.3M360.5,359.5V326.3M361.5,359.5V321.6M368.5,359.5V312.9M370.5,359.5V323.5M375.5,359.5V327.3M376.5,359.5V326.4M382.5,359.5V327.6M385.5,359.5V322.5M387.5,359.5V311.2M388.5,359.5V316.8M390.5,359.5V313.2M393.5,359.5V327.8M394.5,359.5V309.9M395.5,359.5V330.6M396.5,359.5V319.4M398.5,359.5V320.9M400.5,359.5V322.8M405.5,359.5V318.5M408.5,359.5V322.8M409.5,359.5V314.2M410.5,359.5V327.1M411.5,359.5V329.1M419.5,359.5V312.0M420.5,359.5V324.7M421.5,359.5V329.9M424.5,359.5V329.2M426.5,359.5V318.8M429.5,359.5V320.8M430.5,359.5V331.5M434.5,359.5V322.1M436.5,359.5V312.2M438.5,359.5V327.7M441.5,359.5V319.7M448.5,359.5V317.2M452.5,359.5V315.4M454.5,359.5V310.9M455.5,359.5V324.0M457.5,359.5V320.3M461.5,359.5V311.1M464.5,359.5V325.7M467.5,359.5V330.3M468.5,359.5V316.9M471.5,359.5V326.4M473.5,359.5V326.8M474.5,359.5V324.8M478.5,359.5V330.1M480.5,359.5V319.4M484.5,359.5V325.6M486.5,359.5V315.7M487.5,359.5V329.1M488.5,359.5V322.1M490.5,359.5V318.2M491.5,359.5V314.7M492.5,359.5V317.5M493.5,359.5V319.7M494.5,359.5V323.4M495.5,359.5V317.3M498.5,359.5V320.4M502.5,359.5V329.4M503.5,359.5V330.6M506.5,359.5V315.2M508.5,359.5V323.4M511.5,359.5V315.3M513.5,359.5V319.7M515.5,359.5V327.5M518.5,359.5V315.9M519.5,359.5V323.6M522.5,359.5V315.9M525.5,359.5V313.1M532.5,359.5V323.8M539.5,359.5V314.9M544.5,359.5V316.4M546.5,359.5V319.6M547.5,359.5V312.7M548.5,359.5V325.2M549.5,359.5V326.3M552.5,359.5V323.9M556.5,359.5V328.2M557.5,359.5V310.8M559.5,359.5V312.1M561.5,359.5V317.6M563.5,359.5V327.7M565.5,359.5V314.8M567.5,359.5V327.0M573.5,359.5V330.2M574.5,359.5V312.5M576.5,359.5V329.7M579.5,359.5V327.5M580.5,359.5V325.3M583.5,359.5V327.0M584.5,359.5V323.7M590.5,359.5V320.2M594.5,359.5V326.9M595.5,359.5V312.2M596.5,359.5V326.1M598.5,359.5V326.8M601.5,359.5V331.4M604.5,359.5V330.3M606.5,359.5V327.1M607.5,359.5V326.0M608.5,359.5V327.4M610.5,359.5V326.2M611.5,359.5V331.5M613.5,359.5V324.5M616.5,359.5V330.0M617.5,359.5V330.3M619.5,359.5V321.2M622.5,359.5V311.5M623.5,359.5V319.0M627.5,359.5V327.8M628.5,359.5V327.7M629.5,359.5V309.5M631.5,359.5V328.1M633.5,359.5V320.6M636.5,359.5V311.8M639.5,359.5V318.1M640.5,359.5V315.3M643.5,359.5V315.1M645.5,359.5V329.7M648.5,359.5V318.2M649.5,359.5V323.9M652.5,359.5V316.6M656.5,359.5V310.0M660.5,359.5V313.3M661.5,359.5V322.6M662.5,359.5V313.4M668.5,359.5V327.1M671.5,359.5V315.6M675.5,359.5V314.7M677.5,359.5V315.2M679.5,359.5V327.4M681.5,359.5V315.9M683.5,359.5V327.8M684.5,359.5V314.3M685.5,359.5V327.9M687.5,359.5V320.1M688.5,359.5V321.4M690.5,359.5V310.6M695.5,359.5V311.0M698.5,359.5V323.1M699.5,359.5V322.6M700.5,359.5V315.8M701.5,359.5V331.2M702.5,359.5V322.0M704.5,359.5V327.8M706.5,359.5V322.8"/>
<path stroke-opacity="0.06" d="M234.5,359.5V301.2M239.5,359.5V302.0M257.5,359.5V307.1M262.5,359.5V303.1M278.5,359.5V296.7M279.5,359.5V303.6M284.5,359.5V296.7M293.5,359.5V300.4M294.5,359.5V304.9M310.5,359.5V302.0M346.5,359.5V300.2M368.5,359.5V295.9M383.5,359.5V311.6M384.5,359.5V307.5M392.5,359.5V295.0M402.5,359.5V303.5M419.5,359.5V305.3M427.5,359.5V303.4M440.5,359.5V294.9M442.5,359.5V314.1M452.5,359.5V310.6M456.5,359.5V297.4M464.5,359.5V295.8M478.5,359.5V308.3M479.5,359.5V313.7M486.5,359.5V302.8M488.5,359.5V312.0M490.5,359.5V307.1M505.5,359.5V308.4M510.5,359.5V301.5M531.5,359.5V293.8M536.5,359.5V306.7M541.5,359.5V295.7M564.5,359.5V312.8M565.5,359.5V313.8M567.5,359.5V303.8M580.5,359.5V314.4M583.5,359.5V303.0M592.5,359.5V296.1M594.5,359.5V296.1M604.5,359.5V304.8M608.5,359.5V303.2M618.5,359.5V311.8M621.5,359.5V299.2M628.5,359.5V310.7M629.5,359.5V299.3M640.5,359.5V307.2M645.5,359.5V296.9M660.5,359.5V309.3M662.5,359.5V305.5M673.5,359.5V313.4M686.5,359.5V297.7M687.5,359.5V306.7M704.5,359.5V300.2M714.5,359.5V305.3"/>
</g>
<rect x="233.7" y="359.5" width="481.3" height="48.5" fill="#111"/>
<rect x="233.7" y="353.0" width="481.3" height="7" fill="url(#gu)"/>
<rect x="233.7" y="407.5" width="481.3" height="8" fill="url(#gd)"/>
<path d="M329.2,267 L331.4,350 L331.2,420 L329.6,500 L327.6,540 L326.0,500 L326.2,420 L326.8,350 Z" fill="url(#gs)"/>
<path d="M326.6,520 L326.6,612 L328.3,520Z" fill="#888"/>
<path d="M339.5,326 L342,360 L337,360 Z" fill="#222"/>
<path fill="#000" d="M229.5,720.9h3.9v3.9h-3.9zM228.2,713.0h3.9v3.9h-3.9zM232.1,862.5h3.9v3.9h-3.9zM233.4,785.9h3.9v3.9h-3.9zM229.5,700.0h3.9v3.9h-3.9zM234.7,863.9h3.9v3.9h-3.9zM232.1,853.4h3.9v3.9h-3.9zM226.9,815.8h3.9v3.9h-3.9zM233.4,627.2h3.9v3.9h-3.9zM230.8,713.0h3.9v3.9h-3.9zM230.8,654.5h3.9v3.9h-3.9zM232.1,680.5h3.9v3.9h-3.9zM229.5,835.2h3.9v3.9h-3.9zM233.4,776.8h3.9v3.9h-3.9zM225.6,783.2h3.9v3.9h-3.9zM230.8,645.4h3.9v3.9h-3.9zM230.8,697.4h3.9v3.9h-3.9zM232.1,753.4h3.9v3.9h-3.9zM230.8,670.1h3.9v3.9h-3.9zM229.5,681.9h3.9v3.9h-3.9zM230.8,649.4h3.9v3.9h-3.9zM226.9,870.4h3.9v3.9h-3.9zM232.1,763.8h3.9v3.9h-3.9zM233.4,865.1h3.9v3.9h-3.9zM228.2,879.4h3.9v3.9h-3.9zM234.7,658.4h3.9v3.9h-3.9zM233.4,635.0h3.9v3.9h-3.9zM234.7,776.8h3.9v3.9h-3.9zM228.2,694.9h3.9v3.9h-3.9zM225.6,805.4h3.9v3.9h-3.9zM233.4,791.0h3.9v3.9h-3.9zM229.5,793.6h3.9v3.9h-3.9zM229.5,729.9h3.9v3.9h-3.9zM229.5,714.4h3.9v3.9h-3.9zM232.1,787.1h3.9v3.9h-3.9zM228.2,765.0h3.9v3.9h-3.9zM229.5,783.2h3.9v3.9h-3.9zM225.6,836.5h3.9v3.9h-3.9zM228.2,775.4h3.9v3.9h-3.9zM233.4,805.4h3.9v3.9h-3.9zM226.9,700.0h3.9v3.9h-3.9zM232.1,801.4h3.9v3.9h-3.9zM233.4,862.5h3.9v3.9h-3.9zM225.6,698.8h3.9v3.9h-3.9zM228.2,789.8h3.9v3.9h-3.9zM226.9,709.1h3.9v3.9h-3.9zM233.4,694.9h3.9v3.9h-3.9zM229.5,857.4h3.9v3.9h-3.9zM230.8,771.5h3.9v3.9h-3.9zM225.6,880.8h3.9v3.9h-3.9zM225.6,651.9h3.9v3.9h-3.9zM233.4,780.6h3.9v3.9h-3.9zM226.9,659.8h3.9v3.9h-3.9zM233.4,780.6h3.9v3.9h-3.9zM229.5,771.5h3.9v3.9h-3.9zM230.8,817.0h3.9v3.9h-3.9zM229.5,629.9h3.9v3.9h-3.9zM233.4,662.4h3.9v3.9h-3.9zM226.9,753.4h3.9v3.9h-3.9zM228.2,696.1h3.9v3.9h-3.9zM233.4,837.9h3.9v3.9h-3.9zM232.1,746.9h3.9v3.9h-3.9zM225.6,641.5h3.9v3.9h-3.9zM228.2,849.5h3.9v3.9h-3.9zM237.3,644.1h3.9v3.9h-3.9zM234.7,774.1h3.9v3.9h-3.9zM237.3,858.6h3.9v3.9h-3.9zM237.3,675.4h3.9v3.9h-3.9zM237.3,854.8h3.9v3.9h-3.9zM237.3,710.4h3.9v3.9h-3.9zM236.0,845.6h3.9v3.9h-3.9zM238.6,846.9h3.9v3.9h-3.9zM236.0,856.0h3.9v3.9h-3.9zM236.0,797.5h3.9v3.9h-3.9zM236.0,850.9h3.9v3.9h-3.9zM236.0,880.8h3.9v3.9h-3.9zM236.0,701.4h3.9v3.9h-3.9zM236.0,632.4h3.9v3.9h-3.9zM236.0,762.4h3.9v3.9h-3.9zM234.7,729.9h3.9v3.9h-3.9zM236.0,740.4h3.9v3.9h-3.9zM236.0,818.4h3.9v3.9h-3.9zM236.0,732.5h3.9v3.9h-3.9zM238.6,824.9h3.9v3.9h-3.9zM237.3,742.9h3.9v3.9h-3.9zM234.7,785.9h3.9v3.9h-3.9zM237.3,696.1h3.9v3.9h-3.9zM237.3,866.4h3.9v3.9h-3.9zM236.0,826.1h3.9v3.9h-3.9zM236.0,671.4h3.9v3.9h-3.9zM234.7,709.1h3.9v3.9h-3.9zM238.6,722.1h3.9v3.9h-3.9zM239.9,845.6h3.9v3.9h-3.9zM241.2,876.9h3.9v3.9h-3.9zM242.5,657.1h3.9v3.9h-3.9zM242.5,753.4h3.9v3.9h-3.9zM238.6,854.8h3.9v3.9h-3.9zM241.2,710.4h3.9v3.9h-3.9zM241.2,797.5h3.9v3.9h-3.9zM239.9,748.1h3.9v3.9h-3.9zM239.9,679.2h3.9v3.9h-3.9zM242.5,628.5h3.9v3.9h-3.9zM241.2,802.8h3.9v3.9h-3.9zM241.2,856.0h3.9v3.9h-3.9zM239.9,810.5h3.9v3.9h-3.9zM241.2,752.0h3.9v3.9h-3.9zM241.2,823.5h3.9v3.9h-3.9zM241.2,758.5h3.9v3.9h-3.9zM239.9,791.0h3.9v3.9h-3.9zM241.2,815.8h3.9v3.9h-3.9zM241.2,649.4h3.9v3.9h-3.9zM241.2,872.9h3.9v3.9h-3.9zM238.6,741.6h3.9v3.9h-3.9zM239.9,789.8h3.9v3.9h-3.9zM242.5,849.5h3.9v3.9h-3.9zM242.5,655.9h3.9v3.9h-3.9zM241.2,672.8h3.9v3.9h-3.9zM243.8,798.9h3.9v3.9h-3.9zM242.5,854.8h3.9v3.9h-3.9zM245.1,662.4h3.9v3.9h-3.9zM246.4,822.2h3.9v3.9h-3.9zM243.8,664.9h3.9v3.9h-3.9zM245.1,735.1h3.9v3.9h-3.9zM245.1,762.4h3.9v3.9h-3.9zM245.1,778.0h3.9v3.9h-3.9zM245.1,857.4h3.9v3.9h-3.9zM246.4,787.1h3.9v3.9h-3.9zM243.8,827.4h3.9v3.9h-3.9zM242.5,768.9h3.9v3.9h-3.9zM245.1,696.1h3.9v3.9h-3.9zM246.4,791.0h3.9v3.9h-3.9zM245.1,671.4h3.9v3.9h-3.9zM246.4,650.6h3.9v3.9h-3.9zM246.4,820.9h3.9v3.9h-3.9zM246.4,646.8h3.9v3.9h-3.9zM245.1,880.8h3.9v3.9h-3.9zM246.4,807.9h3.9v3.9h-3.9zM246.4,871.6h3.9v3.9h-3.9zM249.0,875.5h3.9v3.9h-3.9zM247.7,856.0h3.9v3.9h-3.9zM246.4,637.6h3.9v3.9h-3.9zM249.0,722.1h3.9v3.9h-3.9zM249.0,661.0h3.9v3.9h-3.9zM246.4,805.4h3.9v3.9h-3.9zM249.0,854.8h3.9v3.9h-3.9zM247.7,878.1h3.9v3.9h-3.9zM249.0,794.9h3.9v3.9h-3.9zM249.0,804.0h3.9v3.9h-3.9zM247.7,798.9h3.9v3.9h-3.9zM247.7,684.4h3.9v3.9h-3.9zM249.0,800.1h3.9v3.9h-3.9zM249.0,723.4h3.9v3.9h-3.9zM247.7,789.8h3.9v3.9h-3.9zM247.7,862.5h3.9v3.9h-3.9zM255.5,689.6h3.9v3.9h-3.9zM254.2,805.4h3.9v3.9h-3.9zM256.8,783.2h3.9v3.9h-3.9zM255.5,627.2h3.9v3.9h-3.9zM251.6,689.6h3.9v3.9h-3.9zM255.5,718.2h3.9v3.9h-3.9zM255.5,853.4h3.9v3.9h-3.9zM250.3,861.2h3.9v3.9h-3.9zM255.5,675.4h3.9v3.9h-3.9zM255.5,736.4h3.9v3.9h-3.9zM251.6,662.4h3.9v3.9h-3.9zM255.5,871.6h3.9v3.9h-3.9zM255.5,778.0h3.9v3.9h-3.9zM254.2,796.2h3.9v3.9h-3.9zM255.5,745.5h3.9v3.9h-3.9zM251.6,711.8h3.9v3.9h-3.9zM251.6,880.8h3.9v3.9h-3.9zM254.2,817.0h3.9v3.9h-3.9zM255.5,723.4h3.9v3.9h-3.9zM256.8,833.9h3.9v3.9h-3.9zM251.6,841.8h3.9v3.9h-3.9zM250.3,715.6h3.9v3.9h-3.9zM254.2,819.6h3.9v3.9h-3.9zM251.6,869.0h3.9v3.9h-3.9zM251.6,663.6h3.9v3.9h-3.9zM254.2,632.4h3.9v3.9h-3.9zM252.9,859.9h3.9v3.9h-3.9zM256.8,833.9h3.9v3.9h-3.9zM255.5,762.4h3.9v3.9h-3.9zM251.6,861.2h3.9v3.9h-3.9zM250.3,633.8h3.9v3.9h-3.9zM255.5,787.1h3.9v3.9h-3.9zM250.3,635.0h3.9v3.9h-3.9zM254.2,736.4h3.9v3.9h-3.9zM256.8,753.4h3.9v3.9h-3.9zM252.9,774.1h3.9v3.9h-3.9zM258.1,731.2h3.9v3.9h-3.9zM256.8,863.9h3.9v3.9h-3.9zM256.8,645.4h3.9v3.9h-3.9zM255.5,727.4h3.9v3.9h-3.9zM259.4,796.2h3.9v3.9h-3.9zM258.1,668.9h3.9v3.9h-3.9zM263.2,736.4h3.9v3.9h-3.9zM258.1,728.6h3.9v3.9h-3.9zM258.1,867.8h3.9v3.9h-3.9zM262.0,804.0h3.9v3.9h-3.9zM262.0,688.4h3.9v3.9h-3.9zM260.7,722.1h3.9v3.9h-3.9zM262.0,778.0h3.9v3.9h-3.9zM264.6,690.9h3.9v3.9h-3.9zM263.2,775.4h3.9v3.9h-3.9zM258.1,872.9h3.9v3.9h-3.9zM263.2,750.8h3.9v3.9h-3.9zM264.6,677.9h3.9v3.9h-3.9zM260.7,748.1h3.9v3.9h-3.9zM262.0,778.0h3.9v3.9h-3.9zM263.2,848.2h3.9v3.9h-3.9zM263.2,679.2h3.9v3.9h-3.9zM259.4,711.8h3.9v3.9h-3.9zM258.1,690.9h3.9v3.9h-3.9zM259.4,718.2h3.9v3.9h-3.9zM259.4,848.2h3.9v3.9h-3.9zM260.7,791.0h3.9v3.9h-3.9zM259.4,732.5h3.9v3.9h-3.9zM263.2,833.9h3.9v3.9h-3.9zM259.4,837.9h3.9v3.9h-3.9zM260.7,865.1h3.9v3.9h-3.9zM260.7,804.0h3.9v3.9h-3.9zM263.2,724.8h3.9v3.9h-3.9zM260.7,724.8h3.9v3.9h-3.9zM259.4,768.9h3.9v3.9h-3.9zM258.1,781.9h3.9v3.9h-3.9zM264.6,878.1h3.9v3.9h-3.9zM260.7,828.8h3.9v3.9h-3.9zM264.6,865.1h3.9v3.9h-3.9zM259.4,802.8h3.9v3.9h-3.9zM258.1,852.1h3.9v3.9h-3.9zM259.4,642.9h3.9v3.9h-3.9zM263.2,693.5h3.9v3.9h-3.9zM259.4,879.4h3.9v3.9h-3.9zM264.6,809.2h3.9v3.9h-3.9zM262.0,871.6h3.9v3.9h-3.9zM264.6,805.4h3.9v3.9h-3.9zM268.5,672.8h3.9v3.9h-3.9zM265.9,709.1h3.9v3.9h-3.9zM265.9,875.5h3.9v3.9h-3.9zM268.5,765.0h3.9v3.9h-3.9zM269.8,719.5h3.9v3.9h-3.9zM267.2,770.2h3.9v3.9h-3.9zM267.2,831.4h3.9v3.9h-3.9zM267.2,668.9h3.9v3.9h-3.9zM268.5,740.4h3.9v3.9h-3.9zM268.5,820.9h3.9v3.9h-3.9zM269.8,702.6h3.9v3.9h-3.9zM269.8,755.9h3.9v3.9h-3.9zM267.2,758.5h3.9v3.9h-3.9zM268.5,866.4h3.9v3.9h-3.9zM267.2,692.2h3.9v3.9h-3.9zM267.2,836.5h3.9v3.9h-3.9zM265.9,687.0h3.9v3.9h-3.9zM268.5,728.6h3.9v3.9h-3.9zM265.9,780.6h3.9v3.9h-3.9zM265.9,763.8h3.9v3.9h-3.9zM267.2,739.0h3.9v3.9h-3.9zM268.5,805.4h3.9v3.9h-3.9zM271.1,878.1h3.9v3.9h-3.9zM272.4,836.5h3.9v3.9h-3.9zM271.1,692.2h3.9v3.9h-3.9zM277.6,798.9h3.9v3.9h-3.9zM276.2,780.6h3.9v3.9h-3.9zM272.4,645.4h3.9v3.9h-3.9zM273.7,722.1h3.9v3.9h-3.9zM271.1,736.4h3.9v3.9h-3.9zM272.4,791.0h3.9v3.9h-3.9zM273.7,839.1h3.9v3.9h-3.9zM276.2,872.9h3.9v3.9h-3.9zM273.7,787.1h3.9v3.9h-3.9zM272.4,839.1h3.9v3.9h-3.9zM272.4,830.0h3.9v3.9h-3.9zM272.4,810.5h3.9v3.9h-3.9zM273.7,636.4h3.9v3.9h-3.9zM272.4,710.4h3.9v3.9h-3.9zM272.4,654.5h3.9v3.9h-3.9zM273.7,826.1h3.9v3.9h-3.9zM275.0,724.8h3.9v3.9h-3.9zM271.1,689.6h3.9v3.9h-3.9zM275.0,824.9h3.9v3.9h-3.9zM271.1,800.1h3.9v3.9h-3.9zM272.4,802.8h3.9v3.9h-3.9zM273.7,728.6h3.9v3.9h-3.9zM275.0,672.8h3.9v3.9h-3.9zM273.7,789.8h3.9v3.9h-3.9zM277.6,713.0h3.9v3.9h-3.9zM271.1,880.8h3.9v3.9h-3.9zM275.0,835.2h3.9v3.9h-3.9zM271.1,798.9h3.9v3.9h-3.9zM271.1,661.0h3.9v3.9h-3.9zM277.6,671.4h3.9v3.9h-3.9zM273.7,770.2h3.9v3.9h-3.9zM273.7,631.1h3.9v3.9h-3.9zM275.0,723.4h3.9v3.9h-3.9zM277.6,788.4h3.9v3.9h-3.9zM278.9,878.1h3.9v3.9h-3.9zM277.6,629.9h3.9v3.9h-3.9zM277.6,657.1h3.9v3.9h-3.9zM280.2,774.1h3.9v3.9h-3.9zM277.6,775.4h3.9v3.9h-3.9zM277.6,863.9h3.9v3.9h-3.9zM277.6,826.1h3.9v3.9h-3.9zM278.9,762.4h3.9v3.9h-3.9zM278.9,880.8h3.9v3.9h-3.9zM278.9,631.1h3.9v3.9h-3.9zM277.6,637.6h3.9v3.9h-3.9zM277.6,830.0h3.9v3.9h-3.9zM278.9,653.2h3.9v3.9h-3.9zM282.8,754.6h3.9v3.9h-3.9zM282.8,798.9h3.9v3.9h-3.9zM285.4,709.1h3.9v3.9h-3.9zM286.7,718.2h3.9v3.9h-3.9zM284.1,831.4h3.9v3.9h-3.9zM280.2,813.1h3.9v3.9h-3.9zM280.2,827.4h3.9v3.9h-3.9zM286.7,814.4h3.9v3.9h-3.9zM284.1,729.9h3.9v3.9h-3.9zM280.2,806.6h3.9v3.9h-3.9zM286.7,863.9h3.9v3.9h-3.9zM281.5,645.4h3.9v3.9h-3.9zM285.4,852.1h3.9v3.9h-3.9zM286.7,805.4h3.9v3.9h-3.9zM282.8,882.0h3.9v3.9h-3.9zM282.8,709.1h3.9v3.9h-3.9zM284.1,822.2h3.9v3.9h-3.9zM286.7,676.6h3.9v3.9h-3.9zM286.7,779.4h3.9v3.9h-3.9zM284.1,672.8h3.9v3.9h-3.9zM280.2,662.4h3.9v3.9h-3.9zM286.7,713.0h3.9v3.9h-3.9zM282.8,733.9h3.9v3.9h-3.9zM286.7,758.5h3.9v3.9h-3.9zM281.5,659.8h3.9v3.9h-3.9zM281.5,849.5h3.9v3.9h-3.9zM280.2,876.9h3.9v3.9h-3.9zM281.5,832.6h3.9v3.9h-3.9zM284.1,805.4h3.9v3.9h-3.9zM286.7,768.9h3.9v3.9h-3.9zM285.4,642.9h3.9v3.9h-3.9zM280.2,845.6h3.9v3.9h-3.9zM286.7,875.5h3.9v3.9h-3.9zM286.7,681.9h3.9v3.9h-3.9zM285.4,791.0h3.9v3.9h-3.9zM284.1,696.1h3.9v3.9h-3.9zM281.5,635.0h3.9v3.9h-3.9zM285.4,736.4h3.9v3.9h-3.9zM286.7,841.8h3.9v3.9h-3.9zM280.2,814.4h3.9v3.9h-3.9zM284.1,796.2h3.9v3.9h-3.9zM286.7,831.4h3.9v3.9h-3.9zM284.1,805.4h3.9v3.9h-3.9zM286.7,762.4h3.9v3.9h-3.9zM284.1,638.9h3.9v3.9h-3.9zM281.5,749.4h3.9v3.9h-3.9zM280.2,651.9h3.9v3.9h-3.9zM280.2,735.1h3.9v3.9h-3.9zM282.8,627.2h3.9v3.9h-3.9zM285.4,807.9h3.9v3.9h-3.9zM282.8,823.5h3.9v3.9h-3.9zM286.7,788.4h3.9v3.9h-3.9zM286.7,757.2h3.9v3.9h-3.9zM286.7,843.0h3.9v3.9h-3.9zM281.5,739.0h3.9v3.9h-3.9zM286.7,698.8h3.9v3.9h-3.9zM281.5,672.8h3.9v3.9h-3.9zM290.6,731.2h3.9v3.9h-3.9zM290.6,768.9h3.9v3.9h-3.9zM290.6,735.1h3.9v3.9h-3.9zM289.2,850.9h3.9v3.9h-3.9zM289.2,715.6h3.9v3.9h-3.9zM289.2,871.6h3.9v3.9h-3.9zM289.2,819.6h3.9v3.9h-3.9zM288.0,859.9h3.9v3.9h-3.9zM290.6,840.4h3.9v3.9h-3.9zM289.2,857.4h3.9v3.9h-3.9zM289.2,765.0h3.9v3.9h-3.9zM289.2,775.4h3.9v3.9h-3.9zM289.2,703.9h3.9v3.9h-3.9zM290.6,674.0h3.9v3.9h-3.9zM289.2,879.4h3.9v3.9h-3.9zM288.0,657.1h3.9v3.9h-3.9zM290.6,642.9h3.9v3.9h-3.9zM288.0,809.2h3.9v3.9h-3.9zM288.0,831.4h3.9v3.9h-3.9zM290.6,830.0h3.9v3.9h-3.9zM288.0,779.4h3.9v3.9h-3.9zM289.2,723.4h3.9v3.9h-3.9zM288.0,763.8h3.9v3.9h-3.9zM288.0,667.5h3.9v3.9h-3.9zM290.6,828.8h3.9v3.9h-3.9zM290.6,687.0h3.9v3.9h-3.9zM289.2,784.5h3.9v3.9h-3.9zM304.9,633.8h3.9v3.9h-3.9zM297.1,791.0h3.9v3.9h-3.9zM301.0,736.4h3.9v3.9h-3.9zM299.7,793.6h3.9v3.9h-3.9zM298.4,719.5h3.9v3.9h-3.9zM306.2,745.5h3.9v3.9h-3.9zM304.9,631.1h3.9v3.9h-3.9zM307.5,798.9h3.9v3.9h-3.9zM297.1,737.8h3.9v3.9h-3.9zM293.2,689.6h3.9v3.9h-3.9zM293.2,685.8h3.9v3.9h-3.9zM303.6,800.1h3.9v3.9h-3.9zM302.2,778.0h3.9v3.9h-3.9zM297.1,819.6h3.9v3.9h-3.9zM306.2,675.4h3.9v3.9h-3.9zM302.2,731.2h3.9v3.9h-3.9zM304.9,689.6h3.9v3.9h-3.9zM295.8,676.6h3.9v3.9h-3.9zM302.2,862.5h3.9v3.9h-3.9zM298.4,772.9h3.9v3.9h-3.9zM301.0,853.4h3.9v3.9h-3.9zM295.8,797.5h3.9v3.9h-3.9zM307.5,814.4h3.9v3.9h-3.9zM304.9,671.4h3.9v3.9h-3.9zM293.2,840.4h3.9v3.9h-3.9zM293.2,646.8h3.9v3.9h-3.9zM303.6,805.4h3.9v3.9h-3.9zM303.6,772.9h3.9v3.9h-3.9zM302.2,798.9h3.9v3.9h-3.9zM291.9,857.4h3.9v3.9h-3.9zM294.5,629.9h3.9v3.9h-3.9zM297.1,733.9h3.9v3.9h-3.9zM298.4,865.1h3.9v3.9h-3.9zM291.9,680.5h3.9v3.9h-3.9zM306.2,689.6h3.9v3.9h-3.9zM293.2,757.2h3.9v3.9h-3.9zM306.2,728.6h3.9v3.9h-3.9zM303.6,788.4h3.9v3.9h-3.9zM294.5,835.2h3.9v3.9h-3.9zM293.2,800.1h3.9v3.9h-3.9zM297.1,696.1h3.9v3.9h-3.9zM299.7,823.5h3.9v3.9h-3.9zM297.1,701.4h3.9v3.9h-3.9zM304.9,648.0h3.9v3.9h-3.9zM303.6,658.4h3.9v3.9h-3.9zM306.2,820.9h3.9v3.9h-3.9zM297.1,659.8h3.9v3.9h-3.9zM301.0,830.0h3.9v3.9h-3.9zM294.5,654.5h3.9v3.9h-3.9zM301.0,792.4h3.9v3.9h-3.9zM293.2,671.4h3.9v3.9h-3.9zM306.2,638.9h3.9v3.9h-3.9zM294.5,856.0h3.9v3.9h-3.9zM304.9,802.8h3.9v3.9h-3.9zM291.9,635.0h3.9v3.9h-3.9zM297.1,667.5h3.9v3.9h-3.9zM298.4,658.4h3.9v3.9h-3.9zM302.2,701.4h3.9v3.9h-3.9zM298.4,818.4h3.9v3.9h-3.9zM294.5,874.2h3.9v3.9h-3.9zM298.4,661.0h3.9v3.9h-3.9zM290.6,792.4h3.9v3.9h-3.9zM304.9,828.8h3.9v3.9h-3.9zM297.1,746.9h3.9v3.9h-3.9zM298.4,648.0h3.9v3.9h-3.9zM294.5,811.9h3.9v3.9h-3.9zM297.1,696.1h3.9v3.9h-3.9zM298.4,701.4h3.9v3.9h-3.9zM297.1,804.0h3.9v3.9h-3.9zM311.4,823.5h3.9v3.9h-3.9zM310.1,649.4h3.9v3.9h-3.9zM311.4,684.4h3.9v3.9h-3.9zM312.7,706.5h3.9v3.9h-3.9zM308.8,653.2h3.9v3.9h-3.9zM307.5,720.9h3.9v3.9h-3.9zM314.0,724.8h3.9v3.9h-3.9zM308.8,687.0h3.9v3.9h-3.9zM314.0,650.6h3.9v3.9h-3.9zM311.4,792.4h3.9v3.9h-3.9zM311.4,628.5h3.9v3.9h-3.9zM307.5,836.5h3.9v3.9h-3.9zM315.2,857.4h3.9v3.9h-3.9zM311.4,776.8h3.9v3.9h-3.9zM311.4,680.5h3.9v3.9h-3.9zM314.0,627.2h3.9v3.9h-3.9zM308.8,724.8h3.9v3.9h-3.9zM315.2,739.0h3.9v3.9h-3.9zM308.8,680.5h3.9v3.9h-3.9zM311.4,739.0h3.9v3.9h-3.9zM314.0,709.1h3.9v3.9h-3.9zM312.7,681.9h3.9v3.9h-3.9zM315.2,689.6h3.9v3.9h-3.9zM312.7,819.6h3.9v3.9h-3.9zM314.0,787.1h3.9v3.9h-3.9zM311.4,728.6h3.9v3.9h-3.9zM310.1,826.1h3.9v3.9h-3.9zM316.6,631.1h3.9v3.9h-3.9zM316.6,750.8h3.9v3.9h-3.9zM315.2,642.9h3.9v3.9h-3.9zM315.2,692.2h3.9v3.9h-3.9zM317.9,629.9h3.9v3.9h-3.9zM319.2,755.9h3.9v3.9h-3.9zM319.2,679.2h3.9v3.9h-3.9zM317.9,705.2h3.9v3.9h-3.9zM379.0,866.4h3.9v3.9h-3.9zM368.6,814.4h3.9v3.9h-3.9zM382.9,651.9h3.9v3.9h-3.9zM379.0,716.9h3.9v3.9h-3.9zM389.4,791.0h3.9v3.9h-3.9zM389.4,705.2h3.9v3.9h-3.9zM388.1,662.4h3.9v3.9h-3.9zM388.1,862.5h3.9v3.9h-3.9zM385.5,813.1h3.9v3.9h-3.9zM386.8,787.1h3.9v3.9h-3.9zM385.5,796.2h3.9v3.9h-3.9zM389.4,781.9h3.9v3.9h-3.9zM393.2,815.8h3.9v3.9h-3.9zM395.9,827.4h3.9v3.9h-3.9zM392.0,748.1h3.9v3.9h-3.9zM398.5,627.2h3.9v3.9h-3.9zM392.0,880.8h3.9v3.9h-3.9zM394.6,693.5h3.9v3.9h-3.9zM397.2,658.4h3.9v3.9h-3.9zM393.2,874.2h3.9v3.9h-3.9zM392.0,844.4h3.9v3.9h-3.9zM394.6,674.0h3.9v3.9h-3.9zM393.2,689.6h3.9v3.9h-3.9zM402.4,774.1h3.9v3.9h-3.9zM399.8,801.4h3.9v3.9h-3.9zM399.8,648.0h3.9v3.9h-3.9zM401.1,882.0h3.9v3.9h-3.9zM405.0,833.9h3.9v3.9h-3.9zM403.7,659.8h3.9v3.9h-3.9zM414.1,627.2h3.9v3.9h-3.9zM412.8,793.6h3.9v3.9h-3.9zM411.5,659.8h3.9v3.9h-3.9zM420.6,754.6h3.9v3.9h-3.9zM420.6,666.2h3.9v3.9h-3.9zM416.7,649.4h3.9v3.9h-3.9zM418.0,644.1h3.9v3.9h-3.9zM424.5,870.4h3.9v3.9h-3.9zM425.8,796.2h3.9v3.9h-3.9zM428.4,857.4h3.9v3.9h-3.9zM428.4,683.1h3.9v3.9h-3.9zM429.7,841.8h3.9v3.9h-3.9zM432.2,835.2h3.9v3.9h-3.9zM432.2,749.4h3.9v3.9h-3.9zM437.5,694.9h3.9v3.9h-3.9zM432.2,866.4h3.9v3.9h-3.9zM434.9,709.1h3.9v3.9h-3.9zM432.2,632.4h3.9v3.9h-3.9zM438.8,722.1h3.9v3.9h-3.9zM433.6,687.0h3.9v3.9h-3.9zM440.1,798.9h3.9v3.9h-3.9zM440.1,879.4h3.9v3.9h-3.9zM441.4,759.9h3.9v3.9h-3.9zM442.7,671.4h3.9v3.9h-3.9zM450.5,758.5h3.9v3.9h-3.9zM451.8,748.1h3.9v3.9h-3.9zM445.2,869.0h3.9v3.9h-3.9zM453.1,663.6h3.9v3.9h-3.9zM444.0,744.2h3.9v3.9h-3.9zM446.6,867.8h3.9v3.9h-3.9zM446.6,763.8h3.9v3.9h-3.9zM450.5,826.1h3.9v3.9h-3.9zM460.9,740.4h3.9v3.9h-3.9zM463.5,740.4h3.9v3.9h-3.9zM460.9,833.9h3.9v3.9h-3.9zM473.9,657.1h3.9v3.9h-3.9zM471.2,865.1h3.9v3.9h-3.9zM472.6,698.8h3.9v3.9h-3.9zM473.9,670.1h3.9v3.9h-3.9zM483.0,774.1h3.9v3.9h-3.9zM483.0,628.5h3.9v3.9h-3.9zM484.2,733.9h3.9v3.9h-3.9zM485.6,848.2h3.9v3.9h-3.9zM484.2,722.1h3.9v3.9h-3.9zM494.7,767.6h3.9v3.9h-3.9zM494.7,631.1h3.9v3.9h-3.9zM496.0,765.0h3.9v3.9h-3.9zM496.0,779.4h3.9v3.9h-3.9zM496.0,733.9h3.9v3.9h-3.9zM499.9,870.4h3.9v3.9h-3.9zM502.5,752.0h3.9v3.9h-3.9zM506.4,781.9h3.9v3.9h-3.9zM506.4,674.0h3.9v3.9h-3.9zM506.4,675.4h3.9v3.9h-3.9zM505.1,752.0h3.9v3.9h-3.9zM506.4,687.0h3.9v3.9h-3.9zM502.5,766.4h3.9v3.9h-3.9zM502.5,815.8h3.9v3.9h-3.9zM503.8,677.9h3.9v3.9h-3.9zM510.3,668.9h3.9v3.9h-3.9zM507.7,848.2h3.9v3.9h-3.9zM514.1,796.2h3.9v3.9h-3.9zM507.7,705.2h3.9v3.9h-3.9zM511.6,811.9h3.9v3.9h-3.9zM511.6,776.8h3.9v3.9h-3.9zM509.0,780.6h3.9v3.9h-3.9zM512.9,719.5h3.9v3.9h-3.9zM514.1,663.6h3.9v3.9h-3.9zM512.9,822.2h3.9v3.9h-3.9zM512.9,677.9h3.9v3.9h-3.9zM514.1,659.8h3.9v3.9h-3.9zM511.6,713.0h3.9v3.9h-3.9zM518.0,635.0h3.9v3.9h-3.9zM516.8,841.8h3.9v3.9h-3.9zM519.4,676.6h3.9v3.9h-3.9zM516.8,775.4h3.9v3.9h-3.9zM519.4,757.2h3.9v3.9h-3.9zM519.4,739.0h3.9v3.9h-3.9zM520.6,784.5h3.9v3.9h-3.9zM521.9,635.0h3.9v3.9h-3.9zM521.9,862.5h3.9v3.9h-3.9zM521.9,819.6h3.9v3.9h-3.9zM520.6,871.6h3.9v3.9h-3.9zM523.2,655.9h3.9v3.9h-3.9zM523.2,736.4h3.9v3.9h-3.9zM524.5,766.4h3.9v3.9h-3.9zM521.9,715.6h3.9v3.9h-3.9zM521.9,801.4h3.9v3.9h-3.9zM524.5,876.9h3.9v3.9h-3.9zM524.5,667.5h3.9v3.9h-3.9zM521.9,722.1h3.9v3.9h-3.9zM529.8,779.4h3.9v3.9h-3.9zM533.6,651.9h3.9v3.9h-3.9zM532.4,826.1h3.9v3.9h-3.9zM529.8,757.2h3.9v3.9h-3.9zM533.6,814.4h3.9v3.9h-3.9zM532.4,805.4h3.9v3.9h-3.9zM533.6,718.2h3.9v3.9h-3.9zM529.8,667.5h3.9v3.9h-3.9zM527.1,631.1h3.9v3.9h-3.9zM533.6,706.5h3.9v3.9h-3.9zM529.8,701.4h3.9v3.9h-3.9zM531.0,839.1h3.9v3.9h-3.9zM528.4,715.6h3.9v3.9h-3.9zM531.0,657.1h3.9v3.9h-3.9zM527.1,666.2h3.9v3.9h-3.9zM533.6,858.6h3.9v3.9h-3.9zM537.5,701.4h3.9v3.9h-3.9zM536.2,645.4h3.9v3.9h-3.9zM536.2,765.0h3.9v3.9h-3.9zM536.2,688.4h3.9v3.9h-3.9zM540.1,806.6h3.9v3.9h-3.9zM534.9,761.1h3.9v3.9h-3.9zM538.9,813.1h3.9v3.9h-3.9zM537.5,679.2h3.9v3.9h-3.9zM537.5,783.2h3.9v3.9h-3.9zM545.4,644.1h3.9v3.9h-3.9zM555.8,854.8h3.9v3.9h-3.9zM555.8,701.4h3.9v3.9h-3.9zM541.4,819.6h3.9v3.9h-3.9zM541.4,859.9h3.9v3.9h-3.9zM542.8,688.4h3.9v3.9h-3.9zM551.9,666.2h3.9v3.9h-3.9zM554.4,662.4h3.9v3.9h-3.9zM546.6,633.8h3.9v3.9h-3.9zM553.1,823.5h3.9v3.9h-3.9zM542.8,707.9h3.9v3.9h-3.9zM549.2,820.9h3.9v3.9h-3.9zM554.4,638.9h3.9v3.9h-3.9zM550.5,781.9h3.9v3.9h-3.9zM546.6,853.4h3.9v3.9h-3.9zM544.0,746.9h3.9v3.9h-3.9zM555.8,716.9h3.9v3.9h-3.9zM542.8,702.6h3.9v3.9h-3.9zM544.0,770.2h3.9v3.9h-3.9zM546.6,787.1h3.9v3.9h-3.9zM554.4,667.5h3.9v3.9h-3.9zM547.9,741.6h3.9v3.9h-3.9zM544.0,874.2h3.9v3.9h-3.9zM554.4,804.0h3.9v3.9h-3.9zM549.2,800.1h3.9v3.9h-3.9zM553.1,768.9h3.9v3.9h-3.9zM550.5,713.0h3.9v3.9h-3.9zM550.5,805.4h3.9v3.9h-3.9zM545.4,787.1h3.9v3.9h-3.9zM554.4,644.1h3.9v3.9h-3.9zM554.4,667.5h3.9v3.9h-3.9zM551.9,789.8h3.9v3.9h-3.9zM546.6,702.6h3.9v3.9h-3.9zM553.1,780.6h3.9v3.9h-3.9zM542.8,640.2h3.9v3.9h-3.9zM547.9,688.4h3.9v3.9h-3.9zM541.4,880.8h3.9v3.9h-3.9zM555.8,805.4h3.9v3.9h-3.9zM551.9,785.9h3.9v3.9h-3.9zM545.4,862.5h3.9v3.9h-3.9zM540.1,661.0h3.9v3.9h-3.9zM555.8,666.2h3.9v3.9h-3.9zM542.8,635.0h3.9v3.9h-3.9zM551.9,722.1h3.9v3.9h-3.9zM555.8,776.8h3.9v3.9h-3.9zM555.8,865.1h3.9v3.9h-3.9zM555.8,675.4h3.9v3.9h-3.9zM559.6,874.2h3.9v3.9h-3.9zM559.6,636.4h3.9v3.9h-3.9zM557.0,854.8h3.9v3.9h-3.9zM558.4,780.6h3.9v3.9h-3.9zM563.5,667.5h3.9v3.9h-3.9zM562.2,702.6h3.9v3.9h-3.9zM560.9,731.2h3.9v3.9h-3.9zM562.2,689.6h3.9v3.9h-3.9zM570.0,787.1h3.9v3.9h-3.9zM564.9,740.4h3.9v3.9h-3.9zM570.0,802.8h3.9v3.9h-3.9zM571.4,649.4h3.9v3.9h-3.9zM571.4,836.5h3.9v3.9h-3.9zM570.0,724.8h3.9v3.9h-3.9zM567.4,866.4h3.9v3.9h-3.9zM571.4,718.2h3.9v3.9h-3.9zM566.1,690.9h3.9v3.9h-3.9zM564.9,718.2h3.9v3.9h-3.9zM568.8,787.1h3.9v3.9h-3.9zM570.0,668.9h3.9v3.9h-3.9zM566.1,644.1h3.9v3.9h-3.9zM568.8,685.8h3.9v3.9h-3.9zM564.9,759.9h3.9v3.9h-3.9zM568.8,823.5h3.9v3.9h-3.9zM564.9,841.8h3.9v3.9h-3.9zM575.2,753.4h3.9v3.9h-3.9zM579.1,714.4h3.9v3.9h-3.9zM573.9,845.6h3.9v3.9h-3.9zM579.1,757.2h3.9v3.9h-3.9zM577.9,672.8h3.9v3.9h-3.9zM579.1,722.1h3.9v3.9h-3.9zM576.5,796.2h3.9v3.9h-3.9zM575.2,662.4h3.9v3.9h-3.9zM576.5,714.4h3.9v3.9h-3.9zM572.6,628.5h3.9v3.9h-3.9zM577.9,849.5h3.9v3.9h-3.9zM573.9,675.4h3.9v3.9h-3.9zM573.9,815.8h3.9v3.9h-3.9zM575.2,680.5h3.9v3.9h-3.9zM572.6,827.4h3.9v3.9h-3.9zM575.2,806.6h3.9v3.9h-3.9zM576.5,679.2h3.9v3.9h-3.9zM576.5,844.4h3.9v3.9h-3.9zM577.9,715.6h3.9v3.9h-3.9zM577.9,831.4h3.9v3.9h-3.9zM576.5,836.5h3.9v3.9h-3.9zM579.1,788.4h3.9v3.9h-3.9zM598.6,878.1h3.9v3.9h-3.9zM583.0,728.6h3.9v3.9h-3.9zM585.6,854.8h3.9v3.9h-3.9zM580.4,698.8h3.9v3.9h-3.9zM584.4,667.5h3.9v3.9h-3.9zM580.4,702.6h3.9v3.9h-3.9zM593.4,711.8h3.9v3.9h-3.9zM590.9,681.9h3.9v3.9h-3.9zM597.4,772.9h3.9v3.9h-3.9zM583.0,818.4h3.9v3.9h-3.9zM596.0,657.1h3.9v3.9h-3.9zM586.9,729.9h3.9v3.9h-3.9zM594.8,666.2h3.9v3.9h-3.9zM579.1,824.9h3.9v3.9h-3.9zM596.0,844.4h3.9v3.9h-3.9zM594.8,703.9h3.9v3.9h-3.9zM580.4,822.2h3.9v3.9h-3.9zM588.2,818.4h3.9v3.9h-3.9zM581.8,661.0h3.9v3.9h-3.9zM589.5,715.6h3.9v3.9h-3.9zM588.2,811.9h3.9v3.9h-3.9zM584.4,627.2h3.9v3.9h-3.9zM596.0,802.8h3.9v3.9h-3.9zM594.8,693.5h3.9v3.9h-3.9zM592.1,694.9h3.9v3.9h-3.9zM589.5,700.0h3.9v3.9h-3.9zM585.6,650.6h3.9v3.9h-3.9zM598.6,690.9h3.9v3.9h-3.9zM592.1,724.8h3.9v3.9h-3.9zM598.6,719.5h3.9v3.9h-3.9zM594.8,767.6h3.9v3.9h-3.9zM597.4,798.9h3.9v3.9h-3.9zM581.8,787.1h3.9v3.9h-3.9zM580.4,723.4h3.9v3.9h-3.9zM589.5,642.9h3.9v3.9h-3.9zM586.9,870.4h3.9v3.9h-3.9zM597.4,791.0h3.9v3.9h-3.9zM594.8,663.6h3.9v3.9h-3.9zM592.1,733.9h3.9v3.9h-3.9zM594.8,716.9h3.9v3.9h-3.9zM596.0,774.1h3.9v3.9h-3.9zM596.0,880.8h3.9v3.9h-3.9zM588.2,729.9h3.9v3.9h-3.9zM579.1,657.1h3.9v3.9h-3.9zM583.0,716.9h3.9v3.9h-3.9zM596.0,727.4h3.9v3.9h-3.9zM580.4,683.1h3.9v3.9h-3.9zM590.9,645.4h3.9v3.9h-3.9zM592.1,648.0h3.9v3.9h-3.9zM593.4,798.9h3.9v3.9h-3.9zM602.5,632.4h3.9v3.9h-3.9zM599.9,839.1h3.9v3.9h-3.9zM602.5,632.4h3.9v3.9h-3.9zM601.2,879.4h3.9v3.9h-3.9zM602.5,882.0h3.9v3.9h-3.9zM601.2,731.2h3.9v3.9h-3.9zM602.5,754.6h3.9v3.9h-3.9zM598.6,705.2h3.9v3.9h-3.9zM599.9,748.1h3.9v3.9h-3.9zM602.5,671.4h3.9v3.9h-3.9zM598.6,740.4h3.9v3.9h-3.9zM599.9,661.0h3.9v3.9h-3.9zM607.8,839.1h3.9v3.9h-3.9zM605.1,636.4h3.9v3.9h-3.9zM603.9,661.0h3.9v3.9h-3.9zM607.8,767.6h3.9v3.9h-3.9zM607.8,853.4h3.9v3.9h-3.9zM607.8,788.4h3.9v3.9h-3.9zM603.9,640.2h3.9v3.9h-3.9zM605.1,830.0h3.9v3.9h-3.9zM606.4,783.2h3.9v3.9h-3.9zM606.4,772.9h3.9v3.9h-3.9zM603.9,731.2h3.9v3.9h-3.9zM606.4,700.0h3.9v3.9h-3.9zM607.8,637.6h3.9v3.9h-3.9zM605.1,715.6h3.9v3.9h-3.9zM605.1,649.4h3.9v3.9h-3.9zM606.4,783.2h3.9v3.9h-3.9zM614.2,696.1h3.9v3.9h-3.9zM614.2,770.2h3.9v3.9h-3.9zM611.6,802.8h3.9v3.9h-3.9zM614.2,819.6h3.9v3.9h-3.9zM614.2,701.4h3.9v3.9h-3.9zM610.4,809.2h3.9v3.9h-3.9zM609.0,813.1h3.9v3.9h-3.9zM614.2,690.9h3.9v3.9h-3.9zM609.0,766.4h3.9v3.9h-3.9zM611.6,861.2h3.9v3.9h-3.9zM609.0,662.4h3.9v3.9h-3.9zM612.9,641.5h3.9v3.9h-3.9zM615.5,646.8h3.9v3.9h-3.9zM612.9,715.6h3.9v3.9h-3.9zM614.2,862.5h3.9v3.9h-3.9zM611.6,805.4h3.9v3.9h-3.9zM612.9,778.0h3.9v3.9h-3.9zM614.2,792.4h3.9v3.9h-3.9zM614.2,664.9h3.9v3.9h-3.9zM610.4,835.2h3.9v3.9h-3.9zM607.8,713.0h3.9v3.9h-3.9zM612.9,871.6h3.9v3.9h-3.9zM612.9,631.1h3.9v3.9h-3.9zM612.9,880.8h3.9v3.9h-3.9zM612.9,689.6h3.9v3.9h-3.9zM615.5,800.1h3.9v3.9h-3.9zM615.5,882.0h3.9v3.9h-3.9zM610.4,641.5h3.9v3.9h-3.9zM609.0,856.0h3.9v3.9h-3.9zM609.0,813.1h3.9v3.9h-3.9zM622.0,677.9h3.9v3.9h-3.9zM620.8,813.1h3.9v3.9h-3.9zM622.0,662.4h3.9v3.9h-3.9zM623.4,882.0h3.9v3.9h-3.9zM620.8,839.1h3.9v3.9h-3.9zM624.6,680.5h3.9v3.9h-3.9zM622.0,793.6h3.9v3.9h-3.9zM616.9,732.5h3.9v3.9h-3.9zM619.4,649.4h3.9v3.9h-3.9zM616.9,763.8h3.9v3.9h-3.9zM623.4,706.5h3.9v3.9h-3.9zM622.0,706.5h3.9v3.9h-3.9zM616.9,661.0h3.9v3.9h-3.9zM624.6,843.0h3.9v3.9h-3.9zM618.1,714.4h3.9v3.9h-3.9zM622.0,763.8h3.9v3.9h-3.9zM616.9,715.6h3.9v3.9h-3.9zM618.1,804.0h3.9v3.9h-3.9zM624.6,726.0h3.9v3.9h-3.9zM619.4,848.2h3.9v3.9h-3.9zM619.4,706.5h3.9v3.9h-3.9zM618.1,800.1h3.9v3.9h-3.9zM622.0,810.5h3.9v3.9h-3.9zM619.4,807.9h3.9v3.9h-3.9zM622.0,745.5h3.9v3.9h-3.9zM623.4,828.8h3.9v3.9h-3.9zM615.5,700.0h3.9v3.9h-3.9zM623.4,718.2h3.9v3.9h-3.9zM623.4,719.5h3.9v3.9h-3.9zM624.6,823.5h3.9v3.9h-3.9zM619.4,775.4h3.9v3.9h-3.9zM620.8,810.5h3.9v3.9h-3.9zM619.4,726.0h3.9v3.9h-3.9zM628.5,775.4h3.9v3.9h-3.9zM629.9,731.2h3.9v3.9h-3.9zM625.9,727.4h3.9v3.9h-3.9zM631.1,846.9h3.9v3.9h-3.9zM631.1,667.5h3.9v3.9h-3.9zM627.2,850.9h3.9v3.9h-3.9zM629.9,758.5h3.9v3.9h-3.9zM632.4,742.9h3.9v3.9h-3.9zM628.5,700.0h3.9v3.9h-3.9zM625.9,770.2h3.9v3.9h-3.9zM631.1,820.9h3.9v3.9h-3.9zM625.9,723.4h3.9v3.9h-3.9zM627.2,689.6h3.9v3.9h-3.9zM628.5,757.2h3.9v3.9h-3.9zM631.1,809.2h3.9v3.9h-3.9zM631.1,737.8h3.9v3.9h-3.9zM631.1,841.8h3.9v3.9h-3.9zM631.1,719.5h3.9v3.9h-3.9zM632.4,848.2h3.9v3.9h-3.9zM628.5,853.4h3.9v3.9h-3.9zM628.5,661.0h3.9v3.9h-3.9zM632.4,654.5h3.9v3.9h-3.9zM627.2,797.5h3.9v3.9h-3.9zM631.1,819.6h3.9v3.9h-3.9zM627.2,837.9h3.9v3.9h-3.9zM625.9,861.2h3.9v3.9h-3.9zM632.4,710.4h3.9v3.9h-3.9zM625.9,850.9h3.9v3.9h-3.9zM631.1,840.4h3.9v3.9h-3.9zM627.2,762.4h3.9v3.9h-3.9zM627.2,766.4h3.9v3.9h-3.9zM632.4,768.9h3.9v3.9h-3.9zM631.1,861.2h3.9v3.9h-3.9zM633.8,817.0h3.9v3.9h-3.9zM633.8,713.0h3.9v3.9h-3.9zM633.8,659.8h3.9v3.9h-3.9zM633.8,835.2h3.9v3.9h-3.9zM635.0,632.4h3.9v3.9h-3.9zM635.0,728.6h3.9v3.9h-3.9zM635.0,768.9h3.9v3.9h-3.9zM635.0,872.9h3.9v3.9h-3.9zM633.8,841.8h3.9v3.9h-3.9zM633.8,841.8h3.9v3.9h-3.9zM637.6,707.9h3.9v3.9h-3.9zM638.9,745.5h3.9v3.9h-3.9zM637.6,859.9h3.9v3.9h-3.9zM636.4,843.0h3.9v3.9h-3.9zM637.6,818.4h3.9v3.9h-3.9zM637.6,659.8h3.9v3.9h-3.9zM637.6,719.5h3.9v3.9h-3.9zM636.4,718.2h3.9v3.9h-3.9zM640.2,659.8h3.9v3.9h-3.9zM638.9,801.4h3.9v3.9h-3.9zM640.2,679.2h3.9v3.9h-3.9zM636.4,702.6h3.9v3.9h-3.9zM636.4,830.0h3.9v3.9h-3.9zM636.4,707.9h3.9v3.9h-3.9zM640.2,776.8h3.9v3.9h-3.9zM637.6,820.9h3.9v3.9h-3.9zM637.6,755.9h3.9v3.9h-3.9zM638.9,815.8h3.9v3.9h-3.9zM638.9,798.9h3.9v3.9h-3.9zM646.8,848.2h3.9v3.9h-3.9zM644.1,850.9h3.9v3.9h-3.9zM641.5,655.9h3.9v3.9h-3.9zM646.8,827.4h3.9v3.9h-3.9zM642.9,644.1h3.9v3.9h-3.9zM646.8,674.0h3.9v3.9h-3.9zM642.9,753.4h3.9v3.9h-3.9zM642.9,642.9h3.9v3.9h-3.9zM648.0,718.2h3.9v3.9h-3.9zM641.5,866.4h3.9v3.9h-3.9zM648.0,862.5h3.9v3.9h-3.9zM648.0,828.8h3.9v3.9h-3.9zM644.1,835.2h3.9v3.9h-3.9zM642.9,640.2h3.9v3.9h-3.9zM648.0,679.2h3.9v3.9h-3.9zM641.5,661.0h3.9v3.9h-3.9zM641.5,672.8h3.9v3.9h-3.9zM646.8,787.1h3.9v3.9h-3.9zM644.1,809.2h3.9v3.9h-3.9zM641.5,822.2h3.9v3.9h-3.9zM640.2,853.4h3.9v3.9h-3.9zM642.9,814.4h3.9v3.9h-3.9zM644.1,802.8h3.9v3.9h-3.9zM644.1,632.4h3.9v3.9h-3.9zM644.1,641.5h3.9v3.9h-3.9zM645.4,646.8h3.9v3.9h-3.9zM640.2,668.9h3.9v3.9h-3.9zM640.2,774.1h3.9v3.9h-3.9zM641.5,879.4h3.9v3.9h-3.9zM644.1,677.9h3.9v3.9h-3.9zM641.5,726.0h3.9v3.9h-3.9zM646.8,879.4h3.9v3.9h-3.9zM642.9,637.6h3.9v3.9h-3.9zM642.9,649.4h3.9v3.9h-3.9zM644.1,806.6h3.9v3.9h-3.9zM646.8,815.8h3.9v3.9h-3.9zM642.9,796.2h3.9v3.9h-3.9zM648.0,735.1h3.9v3.9h-3.9zM645.4,664.9h3.9v3.9h-3.9zM646.8,849.5h3.9v3.9h-3.9zM646.8,787.1h3.9v3.9h-3.9zM646.8,802.8h3.9v3.9h-3.9zM646.8,661.0h3.9v3.9h-3.9zM642.9,629.9h3.9v3.9h-3.9zM650.6,720.9h3.9v3.9h-3.9zM650.6,879.4h3.9v3.9h-3.9zM651.9,766.4h3.9v3.9h-3.9zM650.6,875.5h3.9v3.9h-3.9zM650.6,796.2h3.9v3.9h-3.9zM653.2,700.0h3.9v3.9h-3.9zM650.6,636.4h3.9v3.9h-3.9zM650.6,675.4h3.9v3.9h-3.9zM653.2,863.9h3.9v3.9h-3.9zM650.6,690.9h3.9v3.9h-3.9zM649.4,839.1h3.9v3.9h-3.9zM651.9,870.4h3.9v3.9h-3.9zM649.4,715.6h3.9v3.9h-3.9zM651.9,657.1h3.9v3.9h-3.9zM650.6,798.9h3.9v3.9h-3.9zM650.6,830.0h3.9v3.9h-3.9zM650.6,750.8h3.9v3.9h-3.9zM651.9,824.9h3.9v3.9h-3.9zM651.9,690.9h3.9v3.9h-3.9zM651.9,746.9h3.9v3.9h-3.9zM653.2,667.5h3.9v3.9h-3.9zM649.4,655.9h3.9v3.9h-3.9zM650.6,854.8h3.9v3.9h-3.9zM649.4,752.0h3.9v3.9h-3.9zM649.4,696.1h3.9v3.9h-3.9zM654.5,775.4h3.9v3.9h-3.9zM655.9,732.5h3.9v3.9h-3.9zM657.1,736.4h3.9v3.9h-3.9zM657.1,862.5h3.9v3.9h-3.9zM655.9,659.8h3.9v3.9h-3.9zM658.4,841.8h3.9v3.9h-3.9zM657.1,761.1h3.9v3.9h-3.9zM654.5,788.4h3.9v3.9h-3.9zM659.8,646.8h3.9v3.9h-3.9zM659.8,862.5h3.9v3.9h-3.9zM654.5,711.8h3.9v3.9h-3.9zM659.8,836.5h3.9v3.9h-3.9zM659.8,720.9h3.9v3.9h-3.9zM659.8,872.9h3.9v3.9h-3.9zM655.9,866.4h3.9v3.9h-3.9zM655.9,657.1h3.9v3.9h-3.9zM654.5,744.2h3.9v3.9h-3.9zM654.5,748.1h3.9v3.9h-3.9zM659.8,848.2h3.9v3.9h-3.9zM659.8,711.8h3.9v3.9h-3.9zM661.0,746.9h3.9v3.9h-3.9zM658.4,852.1h3.9v3.9h-3.9zM659.8,861.2h3.9v3.9h-3.9zM655.9,728.6h3.9v3.9h-3.9zM655.9,820.9h3.9v3.9h-3.9zM659.8,746.9h3.9v3.9h-3.9zM661.0,822.2h3.9v3.9h-3.9zM659.8,761.1h3.9v3.9h-3.9zM654.5,645.4h3.9v3.9h-3.9zM659.8,659.8h3.9v3.9h-3.9zM654.5,664.9h3.9v3.9h-3.9zM661.0,796.2h3.9v3.9h-3.9zM659.8,638.9h3.9v3.9h-3.9zM661.0,849.5h3.9v3.9h-3.9zM655.9,836.5h3.9v3.9h-3.9zM661.0,845.6h3.9v3.9h-3.9zM657.1,859.9h3.9v3.9h-3.9zM661.0,709.1h3.9v3.9h-3.9zM655.9,846.9h3.9v3.9h-3.9zM658.4,655.9h3.9v3.9h-3.9zM658.4,793.6h3.9v3.9h-3.9zM659.8,837.9h3.9v3.9h-3.9zM661.0,787.1h3.9v3.9h-3.9zM658.4,850.9h3.9v3.9h-3.9zM657.1,775.4h3.9v3.9h-3.9zM658.4,770.2h3.9v3.9h-3.9zM661.0,636.4h3.9v3.9h-3.9zM653.2,709.1h3.9v3.9h-3.9zM655.9,658.4h3.9v3.9h-3.9zM667.5,806.6h3.9v3.9h-3.9zM664.9,815.8h3.9v3.9h-3.9zM663.6,641.5h3.9v3.9h-3.9zM663.6,703.9h3.9v3.9h-3.9zM666.2,794.9h3.9v3.9h-3.9zM664.9,654.5h3.9v3.9h-3.9zM662.4,693.5h3.9v3.9h-3.9zM666.2,680.5h3.9v3.9h-3.9zM667.5,819.6h3.9v3.9h-3.9zM663.6,706.5h3.9v3.9h-3.9zM666.2,705.2h3.9v3.9h-3.9zM668.9,793.6h3.9v3.9h-3.9zM668.9,845.6h3.9v3.9h-3.9zM667.5,771.5h3.9v3.9h-3.9zM662.4,817.0h3.9v3.9h-3.9zM662.4,698.8h3.9v3.9h-3.9zM664.9,749.4h3.9v3.9h-3.9zM662.4,819.6h3.9v3.9h-3.9zM664.9,776.8h3.9v3.9h-3.9zM666.2,664.9h3.9v3.9h-3.9zM667.5,759.9h3.9v3.9h-3.9zM668.9,698.8h3.9v3.9h-3.9zM663.6,869.0h3.9v3.9h-3.9zM662.4,702.6h3.9v3.9h-3.9zM667.5,718.2h3.9v3.9h-3.9zM662.4,649.4h3.9v3.9h-3.9zM666.2,789.8h3.9v3.9h-3.9zM667.5,801.4h3.9v3.9h-3.9zM662.4,726.0h3.9v3.9h-3.9zM661.0,811.9h3.9v3.9h-3.9zM664.9,772.9h3.9v3.9h-3.9zM663.6,637.6h3.9v3.9h-3.9zM662.4,750.8h3.9v3.9h-3.9zM662.4,744.2h3.9v3.9h-3.9zM662.4,815.8h3.9v3.9h-3.9zM663.6,752.0h3.9v3.9h-3.9zM662.4,780.6h3.9v3.9h-3.9zM663.6,664.9h3.9v3.9h-3.9zM667.5,833.9h3.9v3.9h-3.9zM664.9,767.6h3.9v3.9h-3.9zM667.5,771.5h3.9v3.9h-3.9zM663.6,642.9h3.9v3.9h-3.9zM668.9,830.0h3.9v3.9h-3.9zM663.6,761.1h3.9v3.9h-3.9zM663.6,789.8h3.9v3.9h-3.9zM667.5,681.9h3.9v3.9h-3.9zM664.9,822.2h3.9v3.9h-3.9zM667.5,703.9h3.9v3.9h-3.9zM667.5,638.9h3.9v3.9h-3.9zM666.2,878.1h3.9v3.9h-3.9zM662.4,650.6h3.9v3.9h-3.9zM663.6,823.5h3.9v3.9h-3.9zM666.2,736.4h3.9v3.9h-3.9zM671.4,707.9h3.9v3.9h-3.9zM670.1,781.9h3.9v3.9h-3.9zM668.9,846.9h3.9v3.9h-3.9zM668.9,880.8h3.9v3.9h-3.9zM670.1,700.0h3.9v3.9h-3.9zM668.9,739.0h3.9v3.9h-3.9zM670.1,796.2h3.9v3.9h-3.9zM671.4,642.9h3.9v3.9h-3.9zM670.1,677.9h3.9v3.9h-3.9zM671.4,853.4h3.9v3.9h-3.9zM670.1,677.9h3.9v3.9h-3.9zM668.9,770.2h3.9v3.9h-3.9zM668.9,833.9h3.9v3.9h-3.9zM671.4,840.4h3.9v3.9h-3.9zM677.9,633.8h3.9v3.9h-3.9zM676.6,661.0h3.9v3.9h-3.9zM675.4,716.9h3.9v3.9h-3.9zM674.0,651.9h3.9v3.9h-3.9zM674.0,714.4h3.9v3.9h-3.9zM679.2,822.2h3.9v3.9h-3.9zM679.2,854.8h3.9v3.9h-3.9zM676.6,640.2h3.9v3.9h-3.9zM679.2,749.4h3.9v3.9h-3.9zM675.4,826.1h3.9v3.9h-3.9zM677.9,748.1h3.9v3.9h-3.9zM679.2,772.9h3.9v3.9h-3.9zM675.4,722.1h3.9v3.9h-3.9zM677.9,815.8h3.9v3.9h-3.9zM676.6,739.0h3.9v3.9h-3.9zM675.4,684.4h3.9v3.9h-3.9zM671.4,815.8h3.9v3.9h-3.9zM676.6,707.9h3.9v3.9h-3.9zM672.8,869.0h3.9v3.9h-3.9zM672.8,814.4h3.9v3.9h-3.9zM671.4,642.9h3.9v3.9h-3.9zM671.4,879.4h3.9v3.9h-3.9zM676.6,731.2h3.9v3.9h-3.9zM679.2,878.1h3.9v3.9h-3.9zM676.6,648.0h3.9v3.9h-3.9zM679.2,633.8h3.9v3.9h-3.9zM677.9,627.2h3.9v3.9h-3.9zM674.0,752.0h3.9v3.9h-3.9zM676.6,872.9h3.9v3.9h-3.9zM677.9,807.9h3.9v3.9h-3.9zM675.4,748.1h3.9v3.9h-3.9zM679.2,802.8h3.9v3.9h-3.9zM677.9,648.0h3.9v3.9h-3.9zM679.2,662.4h3.9v3.9h-3.9zM674.0,749.4h3.9v3.9h-3.9zM672.8,684.4h3.9v3.9h-3.9zM677.9,856.0h3.9v3.9h-3.9zM672.8,870.4h3.9v3.9h-3.9zM676.6,694.9h3.9v3.9h-3.9zM676.6,875.5h3.9v3.9h-3.9zM681.9,661.0h3.9v3.9h-3.9zM684.4,813.1h3.9v3.9h-3.9zM679.2,680.5h3.9v3.9h-3.9zM683.1,814.4h3.9v3.9h-3.9zM681.9,664.9h3.9v3.9h-3.9zM683.1,780.6h3.9v3.9h-3.9zM681.9,658.4h3.9v3.9h-3.9zM683.1,675.4h3.9v3.9h-3.9zM684.4,702.6h3.9v3.9h-3.9zM680.5,642.9h3.9v3.9h-3.9zM681.9,780.6h3.9v3.9h-3.9zM681.9,871.6h3.9v3.9h-3.9zM683.1,806.6h3.9v3.9h-3.9zM680.5,841.8h3.9v3.9h-3.9zM684.4,796.2h3.9v3.9h-3.9zM683.1,636.4h3.9v3.9h-3.9zM681.9,651.9h3.9v3.9h-3.9zM683.1,804.0h3.9v3.9h-3.9zM681.9,792.4h3.9v3.9h-3.9zM681.9,866.4h3.9v3.9h-3.9zM684.4,849.5h3.9v3.9h-3.9zM681.9,694.9h3.9v3.9h-3.9zM683.1,879.4h3.9v3.9h-3.9zM683.1,651.9h3.9v3.9h-3.9zM687.0,752.0h3.9v3.9h-3.9zM688.4,688.4h3.9v3.9h-3.9zM689.6,861.2h3.9v3.9h-3.9zM688.4,741.6h3.9v3.9h-3.9zM685.8,638.9h3.9v3.9h-3.9zM687.0,791.0h3.9v3.9h-3.9zM684.4,801.4h3.9v3.9h-3.9zM692.2,692.2h3.9v3.9h-3.9zM688.4,641.5h3.9v3.9h-3.9zM688.4,690.9h3.9v3.9h-3.9zM689.6,817.0h3.9v3.9h-3.9zM690.9,661.0h3.9v3.9h-3.9zM685.8,632.4h3.9v3.9h-3.9zM689.6,628.5h3.9v3.9h-3.9zM685.8,692.2h3.9v3.9h-3.9zM688.4,753.4h3.9v3.9h-3.9zM685.8,767.6h3.9v3.9h-3.9zM690.9,659.8h3.9v3.9h-3.9zM689.6,748.1h3.9v3.9h-3.9zM692.2,752.0h3.9v3.9h-3.9zM689.6,713.0h3.9v3.9h-3.9zM689.6,866.4h3.9v3.9h-3.9zM685.8,882.0h3.9v3.9h-3.9zM689.6,813.1h3.9v3.9h-3.9zM690.9,849.5h3.9v3.9h-3.9zM688.4,798.9h3.9v3.9h-3.9zM692.2,627.2h3.9v3.9h-3.9zM692.2,649.4h3.9v3.9h-3.9zM690.9,696.1h3.9v3.9h-3.9zM687.0,693.5h3.9v3.9h-3.9zM687.0,776.8h3.9v3.9h-3.9zM685.8,815.8h3.9v3.9h-3.9zM687.0,758.5h3.9v3.9h-3.9zM690.9,854.8h3.9v3.9h-3.9zM688.4,649.4h3.9v3.9h-3.9zM692.2,823.5h3.9v3.9h-3.9zM692.2,722.1h3.9v3.9h-3.9zM688.4,797.5h3.9v3.9h-3.9zM690.9,637.6h3.9v3.9h-3.9zM689.6,823.5h3.9v3.9h-3.9zM685.8,731.2h3.9v3.9h-3.9zM700.0,627.2h3.9v3.9h-3.9zM694.9,776.8h3.9v3.9h-3.9zM693.5,759.9h3.9v3.9h-3.9zM700.0,797.5h3.9v3.9h-3.9zM697.4,728.6h3.9v3.9h-3.9zM698.8,857.4h3.9v3.9h-3.9zM701.4,796.2h3.9v3.9h-3.9zM696.1,645.4h3.9v3.9h-3.9zM697.4,670.1h3.9v3.9h-3.9zM697.4,700.0h3.9v3.9h-3.9zM696.1,781.9h3.9v3.9h-3.9zM701.4,659.8h3.9v3.9h-3.9zM692.2,852.1h3.9v3.9h-3.9zM694.9,688.4h3.9v3.9h-3.9zM694.9,728.6h3.9v3.9h-3.9zM698.8,765.0h3.9v3.9h-3.9zM700.0,749.4h3.9v3.9h-3.9zM701.4,676.6h3.9v3.9h-3.9zM701.4,714.4h3.9v3.9h-3.9zM698.8,848.2h3.9v3.9h-3.9zM697.4,694.9h3.9v3.9h-3.9zM701.4,694.9h3.9v3.9h-3.9zM700.0,844.4h3.9v3.9h-3.9zM700.0,853.4h3.9v3.9h-3.9zM693.5,831.4h3.9v3.9h-3.9zM696.1,655.9h3.9v3.9h-3.9zM701.4,710.4h3.9v3.9h-3.9zM700.0,784.5h3.9v3.9h-3.9zM700.0,788.4h3.9v3.9h-3.9zM694.9,644.1h3.9v3.9h-3.9zM696.1,719.5h3.9v3.9h-3.9zM693.5,878.1h3.9v3.9h-3.9zM694.9,778.0h3.9v3.9h-3.9zM692.2,651.9h3.9v3.9h-3.9zM694.9,679.2h3.9v3.9h-3.9zM701.4,696.1h3.9v3.9h-3.9zM694.9,759.9h3.9v3.9h-3.9zM692.2,854.8h3.9v3.9h-3.9zM697.4,741.6h3.9v3.9h-3.9zM698.8,846.9h3.9v3.9h-3.9zM693.5,791.0h3.9v3.9h-3.9zM693.5,640.2h3.9v3.9h-3.9zM707.9,627.2h3.9v3.9h-3.9zM702.6,869.0h3.9v3.9h-3.9zM703.9,632.4h3.9v3.9h-3.9zM707.9,843.0h3.9v3.9h-3.9zM706.5,874.2h3.9v3.9h-3.9zM705.2,757.2h3.9v3.9h-3.9zM702.6,689.6h3.9v3.9h-3.9zM703.9,761.1h3.9v3.9h-3.9zM703.9,702.6h3.9v3.9h-3.9zM705.2,876.9h3.9v3.9h-3.9zM705.2,648.0h3.9v3.9h-3.9zM702.6,871.6h3.9v3.9h-3.9zM702.6,642.9h3.9v3.9h-3.9zM702.6,785.9h3.9v3.9h-3.9zM707.9,632.4h3.9v3.9h-3.9zM707.9,785.9h3.9v3.9h-3.9zM703.9,828.8h3.9v3.9h-3.9zM707.9,702.6h3.9v3.9h-3.9zM705.2,702.6h3.9v3.9h-3.9zM701.4,880.8h3.9v3.9h-3.9zM703.9,818.4h3.9v3.9h-3.9zM703.9,714.4h3.9v3.9h-3.9zM703.9,794.9h3.9v3.9h-3.9zM705.2,701.4h3.9v3.9h-3.9zM707.9,697.4h3.9v3.9h-3.9zM703.9,663.6h3.9v3.9h-3.9zM707.9,645.4h3.9v3.9h-3.9zM702.6,703.9h3.9v3.9h-3.9zM703.9,655.9h3.9v3.9h-3.9zM702.6,804.0h3.9v3.9h-3.9zM705.2,832.6h3.9v3.9h-3.9zM716.9,745.5h3.9v3.9h-3.9zM715.6,791.0h3.9v3.9h-3.9zM710.4,766.4h3.9v3.9h-3.9zM710.4,776.8h3.9v3.9h-3.9zM711.8,835.2h3.9v3.9h-3.9zM715.6,878.1h3.9v3.9h-3.9zM714.4,644.1h3.9v3.9h-3.9zM714.4,638.9h3.9v3.9h-3.9zM709.1,746.9h3.9v3.9h-3.9zM713.0,701.4h3.9v3.9h-3.9zM713.0,824.9h3.9v3.9h-3.9zM714.4,755.9h3.9v3.9h-3.9zM710.4,875.5h3.9v3.9h-3.9zM715.6,632.4h3.9v3.9h-3.9zM709.1,757.2h3.9v3.9h-3.9zM716.9,826.1h3.9v3.9h-3.9zM718.2,856.0h3.9v3.9h-3.9zM714.4,867.8h3.9v3.9h-3.9zM711.8,692.2h3.9v3.9h-3.9zM710.4,698.8h3.9v3.9h-3.9zM716.9,784.5h3.9v3.9h-3.9zM718.2,793.6h3.9v3.9h-3.9zM718.2,667.5h3.9v3.9h-3.9zM718.2,739.0h3.9v3.9h-3.9zM711.8,820.9h3.9v3.9h-3.9zM716.9,670.1h3.9v3.9h-3.9zM716.9,709.1h3.9v3.9h-3.9zM711.8,718.2h3.9v3.9h-3.9zM711.8,755.9h3.9v3.9h-3.9zM714.4,820.9h3.9v3.9h-3.9zM714.4,762.4h3.9v3.9h-3.9zM715.6,779.4h3.9v3.9h-3.9zM716.9,774.1h3.9v3.9h-3.9zM710.4,635.0h3.9v3.9h-3.9zM713.0,654.5h3.9v3.9h-3.9zM716.9,633.8h3.9v3.9h-3.9zM711.8,817.0h3.9v3.9h-3.9zM714.4,794.9h3.9v3.9h-3.9zM714.4,674.0h3.9v3.9h-3.9zM710.4,849.5h3.9v3.9h-3.9zM715.6,659.8h3.9v3.9h-3.9zM718.2,800.1h3.9v3.9h-3.9zM714.4,874.2h3.9v3.9h-3.9zM714.4,880.8h3.9v3.9h-3.9zM713.0,794.9h3.9v3.9h-3.9zM715.6,637.6h3.9v3.9h-3.9zM709.1,628.5h3.9v3.9h-3.9zM709.1,770.2h3.9v3.9h-3.9zM715.6,763.8h3.9v3.9h-3.9zM709.1,823.5h3.9v3.9h-3.9zM709.1,874.2h3.9v3.9h-3.9zM711.8,689.6h3.9v3.9h-3.9z"/>
<line x1="225.0" y1="627.5" x2="225.0" y2="888.3" stroke="#000" stroke-width="3.9"/>
<line x1="206.2" y1="629.2" x2="225.0" y2="629.2" stroke="#000" stroke-width="3.7"/>
<line x1="214.5" y1="672.1" x2="225.0" y2="672.1" stroke="#000" stroke-width="3.7"/>
<line x1="214.5" y1="715.0" x2="225.0" y2="715.0" stroke="#000" stroke-width="3.7"/>
<line x1="214.5" y1="757.9" x2="225.0" y2="757.9" stroke="#000" stroke-width="3.7"/>
<line x1="214.5" y1="800.8" x2="225.0" y2="800.8" stroke="#000" stroke-width="3.7"/>
<line x1="214.5" y1="843.7" x2="225.0" y2="843.7" stroke="#000" stroke-width="3.7"/>
<line x1="206.2" y1="886.6" x2="225.0" y2="886.6" stroke="#000" stroke-width="3.7"/>
<text x="197.5" y="643.0" text-anchor="end">800</text>
<text x="197.5" y="899.8" text-anchor="end">0</text>
<text x="112.6" y="752.0" text-anchor="middle" transform="rotate(-90 112.6 752.0)">PC1 Raster</text>
<text x="570.5" y="613.7">PC1 SS</text>
<path d="M225.5,1113.9V1015.1H235.0V1019.3H239.3V1023.8H243.3V1040.6H247.5V1044.6H250.8V1040.6H258.8V1028.1H266.3V1048.8H271.3V1044.6H279.3V1040.6H281.8V1002.5H289.3V1015.1H293.3V1052.6H310.1V1065.1H318.3V1090.6H320.6V1098.9H324.6V1111.4H373.4V1107.1H388.1V1098.9H396.4V1090.6H403.9V1098.9H408.1V1103.1H412.1V1107.1H421.4V1098.9H426.4V1107.1H431.4V1103.1H436.4V1094.6H443.4V1098.9H447.6V1103.1H461.9V1107.1H471.4V1103.1H478.9V1107.1H487.7V1103.1H493.4V1107.1H498.4V1098.9H502.7V1094.6H510.9V1078.1H518.4V1082.1H523.4V1069.6H528.9V1073.8H537.7V1069.6H542.2V1052.6H557.7V1078.1H562.0V1082.1H565.2V1069.6H573.5V1048.8H580.7V1057.1H599.7V1061.3H604.5V1036.3H608.9V1028.1H616.4V1036.3H625.6V1019.6H633.1V1036.3H635.9V1019.6H640.1V998.8H648.1V994.5H652.6V990.5H660.9V965.5H668.4V994.5H670.9V1007.0H678.9V1011.3H683.9V998.8H691.4V1015.6H700.7V1007.0H706.9V998.8H716.4V1113.9Z" fill="#868686"/>
<line x1="225.6" y1="939.8" x2="225.6" y2="1113.6" stroke="#000" stroke-width="3.9"/>
<line x1="207.0" y1="941.4" x2="225.6" y2="941.4" stroke="#000" stroke-width="3.7"/>
<line x1="207.0" y1="1027.0" x2="225.6" y2="1027.0" stroke="#000" stroke-width="3.7"/>
<line x1="207.0" y1="1112.0" x2="225.6" y2="1112.0" stroke="#000" stroke-width="3.7"/>
<text x="197.5" y="955.4" text-anchor="end">200</text>
<text x="197.5" y="1040.8" text-anchor="end">100</text>
<text x="197.5" y="1125.5" text-anchor="end">0</text>
<text x="112.4" y="1022.7" text-anchor="middle" transform="rotate(-90 112.4 1022.7)">PC1 (spks/s)</text>
<polygon fill="#b9b9b9" points="222.0,1193.9 225.0,1190.5 228.8,1193.3 232.5,1193.9 236.3,1190.5 240.0,1189.7 245.0,1195.8 249.5,1197.1 253.8,1191.4 257.5,1193.3 262.0,1195.3 265.0,1191.0 268.8,1194.6 272.5,1195.5 276.3,1189.3 278.8,1176.6 281.3,1178.9 284.6,1191.8 288.8,1201.6 293.3,1199.0 296.1,1217.8 298.8,1252.5 311.3,1323.5 317.6,1324.8 323.8,1320.9 328.8,1324.0 335.1,1322.2 341.3,1318.7 346.3,1320.4 350.1,1311.6 355.1,1310.5 358.8,1298.4 361.3,1300.8 365.1,1307.2 370.1,1311.5 373.9,1312.8 377.6,1309.7 385.1,1310.5 392.6,1311.4 397.6,1312.7 401.4,1309.4 405.1,1312.9 410.1,1310.2 415.1,1307.1 420.1,1307.6 425.1,1304.4 430.1,1305.4 437.6,1301.9 442.6,1301.8 448.9,1303.2 451.4,1310.2 455.1,1304.3 461.4,1301.2 467.7,1300.6 472.7,1298.0 478.9,1299.3 481.4,1291.4 490.2,1291.0 493.9,1280.7 498.9,1271.2 507.7,1261.5 515.2,1245.8 521.4,1234.2 526.4,1217.2 530.2,1220.6 537.7,1205.8 541.4,1190.1 543.9,1188.7 546.5,1195.7 550.2,1192.6 554.0,1189.4 557.7,1178.9 561.5,1178.2 565.2,1183.9 569.0,1187.6 571.5,1181.3 574.0,1186.8 577.7,1191.3 584.0,1196.5 589.0,1193.9 594.0,1197.0 596.5,1198.0 600.2,1187.5 604.0,1197.7 609.0,1184.8 612.7,1181.3 616.5,1186.5 620.2,1186.5 625.2,1172.6 627.7,1157.7 631.4,1180.5 635.1,1180.2 638.9,1181.4 642.6,1188.2 647.6,1187.4 652.6,1185.8 655.1,1167.4 658.9,1178.7 662.6,1182.0 666.4,1176.2 669.6,1188.7 672.6,1180.5 677.6,1174.8 681.4,1179.2 685.1,1180.3 688.9,1168.1 691.4,1164.6 695.2,1167.2 697.7,1185.0 700.2,1174.0 703.9,1188.8 706.4,1180.7 709.7,1170.6 709.7,1199.5 706.4,1206.9 703.9,1211.3 700.2,1203.5 697.7,1207.6 695.2,1192.8 691.4,1190.4 688.9,1196.9 685.1,1207.3 681.4,1203.3 677.6,1200.3 672.6,1207.0 669.6,1218.8 666.4,1198.8 662.6,1205.5 658.9,1208.9 655.1,1195.1 652.6,1209.2 647.6,1210.2 642.6,1211.8 638.9,1206.1 635.1,1204.9 631.4,1207.1 627.7,1187.3 625.2,1197.5 620.2,1216.1 616.5,1213.6 612.7,1206.2 609.0,1207.7 604.0,1227.4 600.2,1210.0 596.5,1227.1 594.0,1225.6 589.0,1222.1 584.0,1219.6 577.7,1219.7 574.0,1213.2 571.5,1206.3 569.0,1212.5 565.2,1213.7 561.5,1207.8 557.7,1207.2 554.0,1213.2 550.2,1222.5 546.5,1219.4 543.9,1211.3 541.4,1212.4 537.7,1231.8 530.2,1242.0 526.4,1241.9 521.4,1250.9 515.2,1264.3 507.7,1276.1 498.9,1281.5 493.9,1291.9 490.2,1298.2 481.4,1299.8 478.9,1305.9 472.7,1304.6 467.7,1307.1 461.4,1308.0 455.1,1309.9 451.4,1315.0 448.9,1309.5 442.6,1307.4 437.6,1308.3 430.1,1310.8 425.1,1309.7 420.1,1312.6 415.1,1312.1 410.1,1315.0 405.1,1317.3 401.4,1314.8 397.6,1317.5 392.6,1316.3 385.1,1315.7 377.6,1314.5 373.9,1317.4 370.1,1316.2 365.1,1313.0 361.3,1306.9 358.8,1305.8 355.1,1315.7 350.1,1316.1 346.3,1323.8 341.3,1322.5 335.1,1325.5 328.8,1327.2 323.8,1324.3 317.6,1328.0 311.3,1326.7 298.8,1266.6 296.1,1242.3 293.3,1228.6 288.8,1226.0 284.6,1215.8 281.3,1201.2 278.8,1203.4 276.3,1215.8 272.5,1219.6 268.8,1220.5 265.0,1214.1 262.0,1224.7 257.5,1220.7 253.8,1221.2 249.5,1223.0 245.0,1218.3 240.0,1219.3 236.3,1218.6 232.5,1223.7 228.8,1221.8 225.0,1218.6 222.0,1221.1"/>
<polyline fill="none" stroke="#000" stroke-width="4.0" stroke-linejoin="round" points="222.0,1207.5 225.0,1204.5 228.8,1207.5 232.5,1208.8 236.3,1204.5 240.0,1204.5 245.0,1207.0 249.5,1210.0 253.8,1206.3 257.5,1207.0 262.0,1210.0 265.0,1202.5 268.8,1207.5 272.5,1207.5 276.3,1202.5 278.8,1190.0 281.3,1190.0 284.6,1203.8 288.8,1213.8 293.3,1213.8 296.1,1230.1 298.8,1259.6 311.3,1325.1 317.6,1326.4 323.8,1322.6 328.8,1325.6 335.1,1323.9 341.3,1320.6 346.3,1322.1 350.1,1313.8 355.1,1313.1 358.8,1302.1 361.3,1303.8 365.1,1310.1 370.1,1313.8 373.9,1315.1 377.6,1312.1 385.1,1313.1 392.6,1313.8 397.6,1315.1 401.4,1312.1 405.1,1315.1 410.1,1312.6 415.1,1309.6 420.1,1310.1 425.1,1307.1 430.1,1308.1 437.6,1305.1 442.6,1304.6 448.9,1306.3 451.4,1312.6 455.1,1307.1 461.4,1304.6 467.7,1303.8 472.7,1301.3 478.9,1302.6 481.4,1295.6 490.2,1294.6 493.9,1286.3 498.9,1276.3 507.7,1268.8 515.2,1255.1 521.4,1242.6 526.4,1229.6 530.2,1231.3 537.7,1218.8 541.4,1201.3 543.9,1200.0 546.5,1207.5 550.2,1207.5 554.0,1201.3 557.7,1193.0 561.5,1193.0 565.2,1198.8 569.0,1200.0 571.5,1193.8 574.0,1200.0 577.7,1205.5 584.0,1208.0 589.0,1208.0 594.0,1211.3 596.5,1212.5 600.2,1198.8 604.0,1212.5 609.0,1196.3 612.7,1193.8 616.5,1200.0 620.2,1201.3 625.2,1185.0 627.7,1172.5 631.4,1193.8 635.1,1192.5 638.9,1193.8 642.6,1200.0 647.6,1198.8 652.6,1197.5 655.1,1181.3 658.9,1193.8 662.6,1193.8 666.4,1187.5 669.6,1203.8 672.6,1193.8 677.6,1187.5 681.4,1191.3 685.1,1193.8 688.9,1182.5 691.4,1177.5 695.2,1180.0 697.7,1196.3 700.2,1188.8 703.9,1200.0 706.4,1193.8 709.7,1185.0"/>
<line x1="220.9" y1="1163.0" x2="220.9" y2="1325.0" stroke="#000" stroke-width="3.9"/>
<line x1="202.3" y1="1325.0" x2="710.0" y2="1325.0" stroke="#000" stroke-width="3.6"/>
<line x1="202.3" y1="1215.8" x2="220.9" y2="1215.8" stroke="#000" stroke-width="3.7"/>
<line x1="318.2" y1="1325.0" x2="318.2" y2="1343.0" stroke="#000" stroke-width="3.4"/>
<line x1="512.0" y1="1325.0" x2="512.0" y2="1343.0" stroke="#000" stroke-width="3.4"/>
<line x1="708.3" y1="1325.0" x2="708.3" y2="1343.0" stroke="#000" stroke-width="3.4"/>
<text x="182.3" y="1229.8" text-anchor="middle">1</text>
<text x="183.3" y="1337.9" text-anchor="middle">0</text>
<text x="91.6" y="1243.6" text-anchor="middle" transform="rotate(-90 91.6 1243.6)">PC1 SS</text>
<text x="134.9" y="1242.8" text-anchor="middle" transform="rotate(-90 134.9 1242.8)">FR (norm)</text>
<text x="318.5" y="1389.6" text-anchor="middle">0</text>
<text x="512.5" y="1389.6" text-anchor="middle">10</text>
<text x="708.0" y="1389.6" text-anchor="middle">20</text>
<text x="461.5" y="1437.5" text-anchor="middle">Δ t from PC1 CS (ms)</text>
<line x1="925.7" y1="89.5" x2="925.7" y2="329.5" stroke="#000" stroke-width="3.9"/>
<line x1="907.0" y1="327.7" x2="927.6" y2="327.7" stroke="#000" stroke-width="3.7"/>
<line x1="914.7" y1="260.0" x2="926.0" y2="260.0" stroke="#000" stroke-width="3.7"/>
<line x1="907.0" y1="191.2" x2="926.0" y2="191.2" stroke="#000" stroke-width="3.7"/>
<line x1="914.7" y1="122.7" x2="926.0" y2="122.7" stroke="#000" stroke-width="3.7"/>
<path d="M930.0,330.6V230.1H934.5V221.3H940.0V129.5H945.5V156.8H949.5V194.3H957.5V212.6H960.0V230.1H963.0V220.1H965.0V183.8H970.5V194.3H985.1V229.6H993.1V312.6H995.6V327.6H998.8V312.6H1003.8V327.6H1023.3V312.6H1028.8V327.6H1042.1V323.4H1047.6V327.6H1067.1V323.4H1100.6V312.6H1119.4V304.4H1127.6V275.6H1135.1V293.4H1137.1V304.4H1140.1V294.4H1144.4V240.1H1150.6V220.8H1156.9V183.8H1158.9V129.5H1163.9V138.0H1167.2V92.5H1178.4V118.8H1181.9V92.5H1187.2V129.5H1190.2V100.5H1195.7V138.0H1197.7V148.8H1199.7V183.8H1205.7V202.1H1208.9V119.3H1214.4V175.1H1217.2V138.0H1219.4V119.3H1224.7V212.6H1229.7V194.3H1235.9V183.8H1241.4V194.3H1247.2V202.1H1250.7V165.1H1252.7V156.3H1254.7V138.0H1262.2V194.3H1264.5V202.1H1267.2V138.0H1272.7V175.1H1274.7V330.6Z" fill="#bbbbbb"/>
<text x="896.5" y="205.3" text-anchor="end">100</text>
<text x="896.5" y="342.7" text-anchor="end">0</text>
<line x1="1399.9" y1="93.8" x2="1399.9" y2="334.8" stroke="#000" stroke-width="3.9"/>
<line x1="1381.8" y1="333.0" x2="1401.8" y2="333.0" stroke="#000" stroke-width="3.7"/>
<line x1="1390.2" y1="239.2" x2="1400.0" y2="239.2" stroke="#000" stroke-width="3.7"/>
<line x1="1381.8" y1="145.6" x2="1400.0" y2="145.6" stroke="#000" stroke-width="3.7"/>
<path d="M1404.8,334.6V223.1H1410.0V235.1H1413.5V223.1H1417.3V183.8H1426.8V260.1H1430.1V223.1H1431.8V196.3H1437.3V235.1H1441.1V248.1H1446.8V235.1H1450.6V158.8H1458.1V208.8H1466.3V235.1H1468.6V248.1H1471.3V223.1H1473.6V146.3H1478.8V310.6H1484.3V285.6H1489.8V273.1H1492.3V260.6H1498.1V235.6H1503.8V273.1H1506.9V223.1H1512.4V260.6H1517.4V223.1H1522.6V235.6H1526.9V248.1H1531.9V196.3H1537.4V285.6H1540.6V260.6H1542.6V208.8H1544.4V196.3H1551.4V260.6H1553.9V273.1H1556.9V183.8H1562.4V196.3H1564.4V260.6H1567.6V248.1H1569.4V183.8H1578.9V208.8H1581.1V223.1H1590.1V208.8H1595.7V223.1H1597.7V248.1H1602.7V235.6H1615.2V223.1H1620.7V235.6H1627.7V208.8H1635.2V235.6H1640.2V223.1H1645.7V273.1H1648.7V235.6H1665.2V223.1H1670.7V260.6H1675.7V196.3H1681.2V285.6H1684.0V223.1H1689.5V235.6H1696.5V208.8H1706.0V298.1H1709.5V285.6H1711.5V273.1H1713.2V223.1H1720.2V235.6H1725.0V248.1H1730.7V260.6H1734.0V223.1H1739.5V273.1H1746.5V223.1H1750.0V334.6Z" fill="#a9a9a9"/>
<text x="1371.5" y="159.8" text-anchor="end">100</text>
<text x="1371.5" y="346.6" text-anchor="end">0</text>
<line x1="933.4" y1="423.3" x2="933.4" y2="665.9" stroke="#000" stroke-width="3.9"/>
<line x1="915.2" y1="664.0" x2="930.5" y2="664.0" stroke="#000" stroke-width="3.7"/>
<line x1="923.4" y1="602.0" x2="930.5" y2="602.0" stroke="#000" stroke-width="3.7"/>
<line x1="915.2" y1="537.3" x2="930.5" y2="537.3" stroke="#000" stroke-width="3.7"/>
<line x1="923.4" y1="474.9" x2="933.4" y2="474.9" stroke="#000" stroke-width="3.7"/>
<path d="M930.0,665.9V513.1H935.0V531.8H938.0V525.6H943.3V580.8H946.8V548.1H948.8V544.3H953.8V548.8H960.0V567.1H963.0V560.8H967.0V538.1H971.8V488.0H976.8V544.3H979.3V554.6H985.1V573.8H987.1V598.1H991.8V604.6H995.6V629.6H1001.3V642.1H1003.8V663.4H1027.1V660.9H1033.8V648.4H1039.3V654.6H1044.3V642.1H1048.3V635.9H1060.1V648.4H1063.8V654.6H1067.1V642.1H1072.6V654.6H1075.9V648.4H1077.6V629.6H1085.1V642.1H1089.4V654.6H1092.6V648.4H1098.4V642.1H1103.9V654.6H1115.1V648.4H1120.6V654.6H1123.4V623.4H1128.9V654.6H1131.9V610.9H1140.1V579.6H1145.6V610.9H1148.4V604.6H1150.6V579.6H1155.9V592.1H1158.9V560.8H1164.4V629.6H1167.7V610.9H1169.4V585.8H1175.7V554.6H1180.9V579.6H1185.2V585.8H1190.2V573.3H1196.4V538.1H1200.7V513.1H1205.9V531.8H1211.4V525.6H1215.9V538.1H1219.4V519.3H1225.2V475.5H1230.9V488.0H1236.4V450.5H1241.4V513.1H1244.5V494.3H1249.7V506.8H1253.2V500.6H1259.0V469.3H1264.5V500.6H1269.5V450.5H1274.7V665.9Z" fill="#bbbbbb"/>
<text x="904.8" y="551.7" text-anchor="end">100</text>
<text x="904.8" y="678.1" text-anchor="end">0</text>
<line x1="1408.5" y1="427.4" x2="1408.5" y2="670.1" stroke="#000" stroke-width="3.9"/>
<line x1="1390.0" y1="668.0" x2="1405.0" y2="668.0" stroke="#000" stroke-width="3.7"/>
<line x1="1398.7" y1="597.4" x2="1405.0" y2="597.4" stroke="#000" stroke-width="3.7"/>
<line x1="1390.0" y1="526.7" x2="1407.0" y2="526.7" stroke="#000" stroke-width="3.7"/>
<line x1="1398.7" y1="456.0" x2="1408.5" y2="456.0" stroke="#000" stroke-width="3.7"/>
<path d="M1404.8,670.1V575.1H1407.3V519.3H1412.3V533.8H1418.1V596.4H1421.3V546.3H1426.8V554.6H1429.8V519.3H1435.1V554.6H1440.6V525.6H1446.3V471.3H1451.8V540.1H1455.1V525.6H1460.1V540.1H1463.1V477.5H1465.6V444.3H1471.1V525.6H1476.8V567.1H1478.8V635.9H1485.1V650.1H1488.1V629.6H1498.8V582.6H1500.6V575.1H1506.1V582.6H1511.1V540.1H1520.6V546.3H1522.6V567.1H1525.6V540.1H1527.6V525.6H1532.4V513.1H1536.4V429.5H1543.6V513.1H1545.6V525.6H1548.6V498.3H1553.9V525.6H1556.1V554.6H1561.1V485.8H1568.6V498.3H1576.9V546.3H1578.9V567.1H1581.9V546.3H1587.4V554.6H1593.1V560.8H1595.7V575.1H1606.9V546.3H1611.2V519.3H1618.7V567.1H1620.7V575.1H1623.7V567.1H1625.7V546.3H1631.2V554.6H1637.4V567.1H1639.4V581.8H1650.7V567.1H1658.9V554.6H1665.2V540.1H1681.2V554.6H1684.0V498.3H1689.5V554.6H1692.5V519.3H1697.7V567.1H1700.7V554.6H1705.0V546.3H1711.2V519.3H1716.5V554.6H1719.5V533.8H1721.5V513.1H1725.7V504.6H1731.2V575.1H1734.0V533.8H1738.2V519.3H1745.7V554.6H1750.0V670.1Z" fill="#a9a9a9"/>
<text x="1379.8" y="541.1" text-anchor="end">100</text>
<text x="1379.8" y="682.4" text-anchor="end">0</text>
<line x1="937.4" y1="758.7" x2="937.4" y2="999.4" stroke="#000" stroke-width="3.9"/>
<line x1="927.5" y1="937.2" x2="931.0" y2="937.2" stroke="#000" stroke-width="3.7"/>
<line x1="919.0" y1="876.8" x2="931.5" y2="876.8" stroke="#000" stroke-width="3.7"/>
<line x1="927.3" y1="814.4" x2="937.4" y2="814.4" stroke="#000" stroke-width="3.7"/>
<path d="M930.0,999.4V884.3H932.0V834.3H937.0V836.8H941.3V867.6H943.3V890.1H947.0V871.8H948.3V838.3H953.8V855.1H956.8V838.3H962.0V861.3H965.0V828.0H970.5V834.3H976.8V894.6H978.8V923.3H983.1V927.6H987.1V977.6H990.1V967.1H995.6V996.4H998.3V977.6H1003.8V996.9H1042.1V994.4H1050.1V990.1H1055.8V996.4H1058.8V994.4H1064.3V996.4H1067.1V994.4H1078.9V996.4H1092.1V994.4H1098.4V990.1H1110.1V994.4H1114.6V990.1H1120.6V994.4H1135.9V983.9H1142.6V973.4H1152.1V960.9H1160.7V927.6H1164.7V917.1H1168.4V910.8H1172.7V906.8H1177.7V867.1H1185.2V883.8H1187.2V900.6H1190.2V877.6H1195.7V894.3H1200.4V804.5H1205.9V867.1H1208.4V771.3H1214.4V821.3H1220.2V827.5H1225.2V794.3H1227.7V783.8H1229.7V771.3H1237.7V760.8H1245.2V800.5H1247.7V804.5H1254.0V817.0H1259.0V810.8H1264.5V833.8H1266.5V850.6H1269.5V817.0H1274.7V999.4Z" fill="#bbbbbb"/>
<line x1="919.0" y1="999.6" x2="939.3" y2="999.6" stroke="#000" stroke-width="3.7"/>
<text x="909.1" y="891.4" text-anchor="end">100</text>
<text x="909.1" y="1013.7" text-anchor="end">0</text>
<line x1="1412.4" y1="763.0" x2="1412.4" y2="1003.9" stroke="#000" stroke-width="3.9"/>
<line x1="1402.5" y1="935.7" x2="1405.5" y2="935.7" stroke="#000" stroke-width="3.7"/>
<line x1="1394.0" y1="867.9" x2="1412.4" y2="867.9" stroke="#000" stroke-width="3.7"/>
<line x1="1402.3" y1="799.8" x2="1412.4" y2="799.8" stroke="#000" stroke-width="3.7"/>
<path d="M1404.8,1003.9V900.1H1407.3V868.8H1413.5V821.3H1418.6V868.8H1420.6V894.6H1423.8V881.3H1425.6V869.3H1431.8V850.6H1437.3V887.6H1440.6V850.6H1451.8V881.8H1454.8V850.6H1458.8V831.8H1466.3V856.8H1473.6V815.0H1478.8V991.4H1481.8V948.4H1487.3V967.1H1490.1V944.4H1492.3V925.6H1498.6V900.6H1500.6V894.3H1505.6V900.6H1508.9V894.3H1514.4V900.6H1517.4V894.3H1523.6V821.3H1528.9V850.6H1536.1V844.3H1544.4V808.8H1551.9V863.1H1553.9V869.3H1561.1V856.8H1568.6V894.3H1570.6V906.8H1573.6V844.3H1578.9V894.3H1581.9V888.1H1583.9V863.1H1595.7V906.8H1597.7V925.6H1600.7V888.1H1606.2V894.3H1615.2V869.3H1620.7V900.6H1626.9V919.3H1631.9V875.6H1637.4V900.6H1639.4V906.8H1644.4V894.3H1652.4V875.6H1660.2V881.8H1665.2V831.8H1670.7V875.6H1679.9V856.8H1687.5V869.3H1689.5V875.6H1695.7V888.1H1697.7V906.8H1700.7V856.8H1706.2V888.1H1709.0V881.8H1714.5V888.1H1717.5V863.1H1719.5V856.8H1725.0V894.3H1727.7V844.3H1730.0V825.5H1737.5V838.0H1739.5V863.1H1746.5V856.8H1750.0V1003.9Z" fill="#a9a9a9"/>
<line x1="1394.0" y1="1003.8" x2="1414.3" y2="1003.8" stroke="#000" stroke-width="3.7"/>
<text x="1384.1" y="882.7" text-anchor="end">100</text>
<text x="1384.1" y="1017.5" text-anchor="end">0</text>
<line x1="929.3" y1="1092.3" x2="929.3" y2="1334.5" stroke="#000" stroke-width="3.9"/>
<line x1="911.0" y1="1332.9" x2="929.3" y2="1332.9" stroke="#000" stroke-width="3.7"/>
<line x1="919.3" y1="1278.7" x2="929.3" y2="1278.7" stroke="#000" stroke-width="3.7"/>
<line x1="911.0" y1="1226.8" x2="929.3" y2="1226.8" stroke="#000" stroke-width="3.7"/>
<line x1="919.3" y1="1173.0" x2="929.3" y2="1173.0" stroke="#000" stroke-width="3.7"/>
<line x1="911.0" y1="1118.3" x2="929.3" y2="1118.3" stroke="#000" stroke-width="3.7"/>
<path d="M930.5,1334.4V1173.1H935.0V1206.8H940.0V1146.3H945.5V1185.6H948.3V1158.8H950.8V1127.5H958.0V1154.3H960.0V1188.1H963.3V1163.0H968.3V1169.3H971.3V1154.5H976.8V1165.0H978.8V1169.3H983.1V1181.8H987.1V1252.6H993.1V1285.9H995.6V1331.9H1075.6V1325.6H1080.9V1331.9H1098.4V1327.6H1103.9V1331.9H1106.9V1321.4H1116.4V1308.1H1119.4V1275.6H1123.4V1267.1H1127.6V1225.6H1131.9V1213.1H1133.9V1206.8H1135.9V1204.6H1140.1V1158.8H1142.1V1131.8H1147.6V1135.5H1150.6V1094.3H1155.9V1098.3H1162.2V1104.5H1168.2V1108.8H1170.2V1113.0H1172.7V1158.8H1175.7V1144.3H1181.9V1135.8H1187.2V1154.5H1189.4V1163.0H1193.2V1181.8H1200.7V1158.8H1205.9V1163.0H1208.9V1150.5H1212.7V1113.0H1220.7V1135.8H1224.7V1163.0H1228.9V1181.8H1233.9V1150.5H1238.2V1131.8H1245.2V1158.8H1254.7V1113.0H1262.2V1181.8H1264.5V1200.6H1270.2V1204.6H1274.7V1334.4Z" fill="#bbbbbb"/>
<text x="900.6" y="1131.9" text-anchor="end">200</text>
<text x="900.6" y="1240.5" text-anchor="end">100</text>
<text x="900.6" y="1346.6" text-anchor="end">0</text>
<line x1="1404.3" y1="1096.2" x2="1404.3" y2="1338.8" stroke="#000" stroke-width="3.9"/>
<line x1="1386.2" y1="1337.2" x2="1404.3" y2="1337.2" stroke="#000" stroke-width="3.7"/>
<line x1="1394.4" y1="1285.3" x2="1404.3" y2="1285.3" stroke="#000" stroke-width="3.7"/>
<line x1="1386.2" y1="1233.1" x2="1404.3" y2="1233.1" stroke="#000" stroke-width="3.7"/>
<line x1="1394.4" y1="1181.2" x2="1404.3" y2="1181.2" stroke="#000" stroke-width="3.7"/>
<line x1="1386.2" y1="1131.0" x2="1404.3" y2="1131.0" stroke="#000" stroke-width="3.7"/>
<path d="M1405.5,1338.4V1196.3H1407.3V1190.1H1412.3V1194.3H1417.3V1179.6H1421.3V1165.0H1427.3V1175.6H1433.1V1200.6H1438.1V1185.8H1442.3V1160.8H1450.1V1181.8H1458.8V1152.5H1466.3V1167.0H1468.6V1175.6H1471.3V1167.0H1476.8V1267.1H1479.8V1208.8H1485.1V1288.1H1488.1V1223.3H1491.8V1196.3H1494.3V1190.1H1498.6V1146.3H1510.1V1175.6H1515.1V1152.5H1520.6V1179.6H1522.6V1200.6H1527.6V1175.6H1535.6V1179.6H1540.1V1156.8H1545.6V1190.1H1548.1V1117.0H1554.4V1160.8H1560.6V1152.5H1568.6V1156.8H1581.1V1179.6H1585.1V1190.1H1589.4V1194.3H1593.1V1204.6H1598.7V1196.3H1606.2V1200.6H1608.7V1190.1H1610.7V1121.3H1618.7V1152.5H1622.7V1179.6H1626.9V1185.8H1630.7V1194.3H1633.2V1160.8H1636.2V1142.0H1643.7V1179.6H1645.2V1210.8H1648.7V1171.3H1660.2V1185.8H1663.9V1208.8H1667.4V1179.6H1672.7V1204.6H1675.7V1181.8H1680.7V1196.3H1685.7V1160.8H1691.5V1175.6H1697.7V1190.1H1700.7V1181.8H1702.5V1175.6H1708.2V1179.6H1711.2V1171.3H1720.7V1113.0H1729.0V1181.8H1736.2V1175.6H1740.7V1190.1H1744.0V1167.0H1750.0V1338.4Z" fill="#a9a9a9"/>
<text x="1375.6" y="1144.9" text-anchor="end">200</text>
<text x="1375.6" y="1246.8" text-anchor="end">100</text>
<text x="1375.6" y="1350.3" text-anchor="end">0</text>
<line x1="927.4" y1="1339.6" x2="1276.9" y2="1339.6" stroke="#000" stroke-width="3.9"/>
<line x1="929.3" y1="1339.6" x2="929.3" y2="1348.8" stroke="#000" stroke-width="3.7"/>
<line x1="997.7" y1="1339.6" x2="997.7" y2="1357.6" stroke="#000" stroke-width="3.7"/>
<line x1="1066.7" y1="1339.6" x2="1066.7" y2="1348.8" stroke="#000" stroke-width="3.7"/>
<line x1="1137.0" y1="1339.6" x2="1137.0" y2="1357.6" stroke="#000" stroke-width="3.7"/>
<line x1="1206.2" y1="1339.6" x2="1206.2" y2="1348.8" stroke="#000" stroke-width="3.7"/>
<line x1="1275.0" y1="1339.6" x2="1275.0" y2="1357.6" stroke="#000" stroke-width="3.7"/>
<line x1="1402.4" y1="1342.6" x2="1752.0" y2="1342.6" stroke="#000" stroke-width="3.9"/>
<line x1="1404.3" y1="1342.6" x2="1404.3" y2="1353.2" stroke="#000" stroke-width="3.7"/>
<line x1="1472.8" y1="1342.6" x2="1472.8" y2="1361.3" stroke="#000" stroke-width="3.7"/>
<line x1="1541.2" y1="1342.6" x2="1541.2" y2="1353.2" stroke="#000" stroke-width="3.7"/>
<line x1="1612.2" y1="1342.6" x2="1612.2" y2="1361.3" stroke="#000" stroke-width="3.7"/>
<line x1="1681.0" y1="1342.6" x2="1681.0" y2="1353.2" stroke="#000" stroke-width="3.7"/>
<line x1="1750.0" y1="1342.6" x2="1750.0" y2="1361.3" stroke="#000" stroke-width="3.7"/>
<text x="997.7" y="1403.6" text-anchor="middle">0</text>
<text x="1141.0" y="1403.6" text-anchor="middle">10</text>
<text x="1275.0" y="1403.6" text-anchor="middle">20</text>
<text x="1472.8" y="1407.3" text-anchor="middle">0</text>
<text x="1616.0" y="1407.3" text-anchor="middle">10</text>
<text x="1750.0" y="1407.3" text-anchor="middle">20</text>
<text x="1122.5" y="1437.2" text-anchor="middle">Δ t from PC1 CS (ms)</text>
<text x="1566.0" y="1437.2" text-anchor="middle">Δ t from PC1 CS (ms)</text>
</svg>
</body></html>
